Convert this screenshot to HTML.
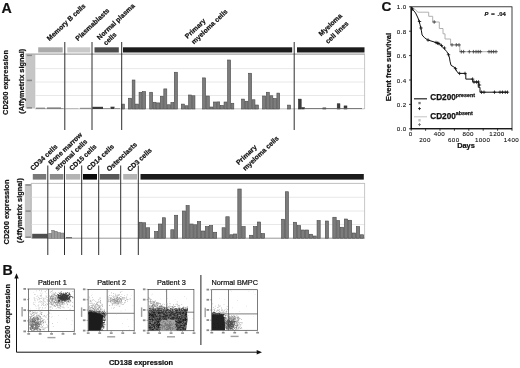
<!DOCTYPE html>
<html><head><meta charset="utf-8"><style>
html,body{margin:0;padding:0;background:#fff;}
svg{display:block;will-change:transform;filter:blur(0.35px);font-family:"Liberation Sans", sans-serif;}
</style></head><body>
<svg width="520" height="368" viewBox="0 0 520 368">
<rect width="520" height="368" fill="#fff"/>
<text x="1.60" y="12.50" font-size="14.2" font-weight="bold" text-anchor="start" fill="#111"  stroke="#111" stroke-width="0.22" style="">A</text>
<rect x="25.50" y="54.50" width="9.00" height="54.00" fill="#c6c6c6"/>
<line x1="34.80" y1="54.50" x2="34.80" y2="108.50" stroke="#9a9a9a" stroke-width="0.6"/>
<rect x="26.80" y="54.50" width="5.20" height="1.60" fill="#8a8a8a"/>
<rect x="26.80" y="79.60" width="5.20" height="1.60" fill="#8a8a8a"/>
<rect x="26.80" y="107.00" width="5.20" height="1.60" fill="#8a8a8a"/>
<line x1="35.00" y1="68.60" x2="364.50" y2="68.60" stroke="#e2e2e2" stroke-width="0.8"/>
<line x1="35.00" y1="82.00" x2="364.50" y2="82.00" stroke="#e2e2e2" stroke-width="0.8"/>
<line x1="35.00" y1="95.50" x2="364.50" y2="95.50" stroke="#e2e2e2" stroke-width="0.8"/>
<line x1="25.50" y1="54.20" x2="365.00" y2="54.20" stroke="#a4a4a4" stroke-width="1.3"/>
<line x1="364.60" y1="54.50" x2="364.60" y2="109.00" stroke="#b8b8b8" stroke-width="0.8"/>
<line x1="35.00" y1="108.80" x2="364.50" y2="108.80" stroke="#9a9a9a" stroke-width="0.6"/>
<rect x="38.20" y="47.30" width="24.50" height="5.20" fill="#aaaaaa"/>
<rect x="67.30" y="47.30" width="23.00" height="5.20" fill="#c8c8c8"/>
<rect x="94.50" y="47.30" width="24.30" height="5.20" fill="#4c4c4c"/>
<rect x="123.00" y="47.30" width="169.20" height="5.20" fill="#1c1c1c"/>
<rect x="297.00" y="47.30" width="67.50" height="5.20" fill="#1c1c1c"/>
<rect x="121.80" y="104.10" width="2.65" height="4.90" fill="#7c7c7c" stroke="#4a4a4a" stroke-width="0.6"/>
<rect x="128.40" y="98.25" width="3.20" height="10.75" fill="#7c7c7c" stroke="#4a4a4a" stroke-width="0.6"/>
<rect x="132.20" y="80.00" width="2.75" height="29.00" fill="#7c7c7c" stroke="#4a4a4a" stroke-width="0.6"/>
<rect x="135.55" y="104.10" width="2.90" height="4.90" fill="#7c7c7c" stroke="#4a4a4a" stroke-width="0.6"/>
<rect x="139.05" y="92.25" width="2.90" height="16.75" fill="#7c7c7c" stroke="#4a4a4a" stroke-width="0.6"/>
<rect x="142.55" y="91.60" width="3.05" height="17.40" fill="#7c7c7c" stroke="#4a4a4a" stroke-width="0.6"/>
<rect x="149.70" y="92.25" width="2.90" height="16.75" fill="#7c7c7c" stroke="#4a4a4a" stroke-width="0.6"/>
<rect x="153.20" y="102.25" width="2.75" height="6.75" fill="#7c7c7c" stroke="#4a4a4a" stroke-width="0.6"/>
<rect x="156.55" y="102.90" width="3.15" height="6.10" fill="#7c7c7c" stroke="#4a4a4a" stroke-width="0.6"/>
<rect x="160.30" y="96.25" width="2.90" height="12.75" fill="#7c7c7c" stroke="#4a4a4a" stroke-width="0.6"/>
<rect x="163.80" y="88.90" width="3.00" height="20.10" fill="#7c7c7c" stroke="#4a4a4a" stroke-width="0.6"/>
<rect x="167.40" y="104.75" width="2.90" height="4.25" fill="#7c7c7c" stroke="#4a4a4a" stroke-width="0.6"/>
<rect x="170.90" y="102.50" width="2.80" height="6.50" fill="#7c7c7c" stroke="#4a4a4a" stroke-width="0.6"/>
<rect x="174.30" y="72.25" width="3.15" height="36.75" fill="#7c7c7c" stroke="#4a4a4a" stroke-width="0.6"/>
<rect x="181.30" y="104.10" width="3.15" height="4.90" fill="#7c7c7c" stroke="#4a4a4a" stroke-width="0.6"/>
<rect x="185.05" y="105.75" width="2.90" height="3.25" fill="#7c7c7c" stroke="#4a4a4a" stroke-width="0.6"/>
<rect x="188.55" y="95.00" width="3.05" height="14.00" fill="#7c7c7c" stroke="#4a4a4a" stroke-width="0.6"/>
<rect x="192.20" y="95.75" width="2.75" height="13.25" fill="#7c7c7c" stroke="#4a4a4a" stroke-width="0.6"/>
<rect x="202.55" y="77.90" width="3.05" height="31.10" fill="#7c7c7c" stroke="#4a4a4a" stroke-width="0.6"/>
<rect x="206.20" y="96.00" width="3.10" height="13.00" fill="#7c7c7c" stroke="#4a4a4a" stroke-width="0.6"/>
<rect x="209.90" y="107.00" width="2.90" height="2.00" fill="#7c7c7c" stroke="#4a4a4a" stroke-width="0.6"/>
<rect x="213.40" y="102.00" width="2.90" height="7.00" fill="#7c7c7c" stroke="#4a4a4a" stroke-width="0.6"/>
<rect x="216.90" y="101.90" width="2.80" height="7.10" fill="#7c7c7c" stroke="#4a4a4a" stroke-width="0.6"/>
<rect x="220.30" y="105.40" width="3.15" height="3.60" fill="#7c7c7c" stroke="#4a4a4a" stroke-width="0.6"/>
<rect x="224.05" y="102.00" width="2.90" height="7.00" fill="#7c7c7c" stroke="#4a4a4a" stroke-width="0.6"/>
<rect x="227.55" y="60.00" width="3.05" height="49.00" fill="#7c7c7c" stroke="#4a4a4a" stroke-width="0.6"/>
<rect x="231.20" y="103.25" width="2.60" height="5.75" fill="#7c7c7c" stroke="#4a4a4a" stroke-width="0.6"/>
<rect x="241.55" y="99.10" width="2.90" height="9.90" fill="#7c7c7c" stroke="#4a4a4a" stroke-width="0.6"/>
<rect x="245.05" y="101.25" width="2.90" height="7.75" fill="#7c7c7c" stroke="#4a4a4a" stroke-width="0.6"/>
<rect x="248.55" y="73.25" width="3.05" height="35.75" fill="#7c7c7c" stroke="#4a4a4a" stroke-width="0.6"/>
<rect x="252.20" y="99.75" width="2.75" height="9.25" fill="#7c7c7c" stroke="#4a4a4a" stroke-width="0.6"/>
<rect x="255.55" y="105.00" width="2.90" height="4.00" fill="#7c7c7c" stroke="#4a4a4a" stroke-width="0.6"/>
<rect x="262.55" y="96.00" width="3.15" height="13.00" fill="#7c7c7c" stroke="#4a4a4a" stroke-width="0.6"/>
<rect x="266.30" y="92.25" width="3.00" height="16.75" fill="#7c7c7c" stroke="#4a4a4a" stroke-width="0.6"/>
<rect x="269.90" y="95.75" width="2.90" height="13.25" fill="#7c7c7c" stroke="#4a4a4a" stroke-width="0.6"/>
<rect x="273.40" y="98.50" width="2.90" height="10.50" fill="#7c7c7c" stroke="#4a4a4a" stroke-width="0.6"/>
<rect x="276.90" y="93.10" width="2.80" height="15.90" fill="#7c7c7c" stroke="#4a4a4a" stroke-width="0.6"/>
<rect x="287.55" y="105.10" width="3.05" height="3.90" fill="#7c7c7c" stroke="#4a4a4a" stroke-width="0.6"/>
<rect x="298.40" y="99.10" width="2.80" height="9.90" fill="#3c3c3c" stroke="#222" stroke-width="0.5"/>
<rect x="301.80" y="107.60" width="2.65" height="1.40" fill="#3c3c3c" stroke="#222" stroke-width="0.5"/>
<rect x="322.80" y="107.90" width="3.10" height="1.10" fill="#3c3c3c" stroke="#222" stroke-width="0.5"/>
<rect x="337.20" y="103.75" width="2.75" height="5.25" fill="#3c3c3c" stroke="#222" stroke-width="0.5"/>
<rect x="344.05" y="105.90" width="2.90" height="3.10" fill="#3c3c3c" stroke="#222" stroke-width="0.5"/>
<rect x="36.00" y="107.60" width="9.00" height="1.40" fill="#8a8a8a"/>
<rect x="45.00" y="108.40" width="2.00" height="0.60" fill="#aaa"/>
<rect x="47.00" y="107.40" width="14.00" height="1.60" fill="#808080"/>
<rect x="61.00" y="108.00" width="2.50" height="1.00" fill="#999"/>
<rect x="66.00" y="108.40" width="12.00" height="0.60" fill="#aaa"/>
<rect x="80.00" y="107.80" width="11.00" height="1.20" fill="#8e8e8e"/>
<rect x="92.40" y="106.80" width="10.60" height="2.20" fill="#3a3a3a"/>
<rect x="103.00" y="108.20" width="7.00" height="0.80" fill="#888"/>
<rect x="110.50" y="106.70" width="4.00" height="2.30" fill="#3a3a3a"/>
<rect x="114.50" y="108.00" width="5.50" height="1.00" fill="#999"/>
<rect x="305.00" y="108.20" width="57.00" height="0.80" fill="#666"/>
<line x1="64.80" y1="42.00" x2="64.80" y2="130.00" stroke="#2e2e2e" stroke-width="1.0"/>
<line x1="92.00" y1="42.00" x2="92.00" y2="130.00" stroke="#2e2e2e" stroke-width="1.0"/>
<line x1="121.70" y1="42.00" x2="121.70" y2="130.00" stroke="#2e2e2e" stroke-width="1.0"/>
<line x1="294.20" y1="42.00" x2="294.20" y2="130.00" stroke="#2e2e2e" stroke-width="1.0"/>
<text x="49.60" y="41.20" font-size="6.85" font-weight="bold" text-anchor="start" fill="#111" transform="rotate(-43.5 49.60 41.20)"  stroke="#111" stroke-width="0.22" style="">Memory B cells</text>
<text x="78.10" y="41.20" font-size="6.85" font-weight="bold" text-anchor="start" fill="#111" transform="rotate(-43.5 78.10 41.20)"  stroke="#111" stroke-width="0.22" style="">Plasmablasts</text>
<text x="99.60" y="40.20" font-size="6.85" font-weight="bold" text-anchor="start" fill="#111" transform="rotate(-43.5 99.60 40.20)"  stroke="#111" stroke-width="0.22" style="">Normal plasma</text>
<text x="106.10" y="45.70" font-size="6.85" font-weight="bold" text-anchor="start" fill="#111" transform="rotate(-43.5 106.10 45.70)"  stroke="#111" stroke-width="0.22" style="">cells</text>
<text x="187.60" y="39.00" font-size="6.85" font-weight="bold" text-anchor="start" fill="#111" transform="rotate(-43.5 187.60 39.00)"  stroke="#111" stroke-width="0.22" style="">Primary</text>
<text x="194.10" y="44.40" font-size="6.85" font-weight="bold" text-anchor="start" fill="#111" transform="rotate(-43.5 194.10 44.40)"  stroke="#111" stroke-width="0.22" style="">myeloma cells</text>
<text x="321.30" y="36.50" font-size="6.85" font-weight="bold" text-anchor="start" fill="#111" transform="rotate(-43.5 321.30 36.50)"  stroke="#111" stroke-width="0.22" style="">Myeloma</text>
<text x="328.00" y="44.00" font-size="6.85" font-weight="bold" text-anchor="start" fill="#111" transform="rotate(-43.5 328.00 44.00)"  stroke="#111" stroke-width="0.22" style="">cell lines</text>
<text x="8.30" y="82.50" font-size="7.5" font-weight="bold" text-anchor="middle" fill="#111" transform="rotate(-90 8.30 82.50)"  stroke="#111" stroke-width="0.22" style="">CD200 expression</text>
<text x="24.40" y="81.30" font-size="7.4" font-weight="bold" text-anchor="middle" fill="#111" transform="rotate(-90 24.40 81.30)"  stroke="#111" stroke-width="0.22" style="">(Affymetrix signal)</text>
<rect x="24.80" y="184.00" width="6.60" height="54.00" fill="#c6c6c6"/>
<line x1="31.30" y1="183.00" x2="31.30" y2="238.00" stroke="#9a9a9a" stroke-width="0.6"/>
<rect x="25.60" y="184.20" width="5.20" height="1.60" fill="#8a8a8a"/>
<rect x="25.60" y="210.30" width="5.20" height="1.60" fill="#8a8a8a"/>
<rect x="25.60" y="236.40" width="5.20" height="1.60" fill="#8a8a8a"/>
<line x1="31.50" y1="197.30" x2="364.50" y2="197.30" stroke="#e2e2e2" stroke-width="0.8"/>
<line x1="31.50" y1="211.00" x2="364.50" y2="211.00" stroke="#e2e2e2" stroke-width="0.8"/>
<line x1="31.50" y1="224.50" x2="364.50" y2="224.50" stroke="#e2e2e2" stroke-width="0.8"/>
<line x1="31.00" y1="183.40" x2="364.80" y2="183.40" stroke="#c0c0c0" stroke-width="1.0"/>
<line x1="364.60" y1="183.00" x2="364.60" y2="238.50" stroke="#b8b8b8" stroke-width="0.8"/>
<line x1="31.50" y1="238.20" x2="364.50" y2="238.20" stroke="#6a6a6a" stroke-width="0.7"/>
<rect x="32.80" y="174.00" width="13.40" height="5.60" fill="#787878"/>
<rect x="49.80" y="174.00" width="13.60" height="5.60" fill="#8c8c8c"/>
<rect x="65.80" y="174.00" width="14.40" height="5.60" fill="#b4b4b4"/>
<rect x="83.00" y="174.00" width="14.00" height="5.60" fill="#0a0a0a"/>
<rect x="99.80" y="174.00" width="19.70" height="5.60" fill="#585858"/>
<rect x="123.20" y="174.00" width="13.80" height="5.60" fill="#b4b4b4"/>
<rect x="140.50" y="174.00" width="223.30" height="5.60" fill="#1c1c1c"/>
<rect x="139.05" y="222.25" width="3.15" height="15.95" fill="#7c7c7c" stroke="#4a4a4a" stroke-width="0.6"/>
<rect x="142.80" y="222.75" width="2.90" height="15.45" fill="#7c7c7c" stroke="#4a4a4a" stroke-width="0.6"/>
<rect x="146.30" y="227.75" width="3.40" height="10.45" fill="#7c7c7c" stroke="#4a4a4a" stroke-width="0.6"/>
<rect x="154.55" y="231.50" width="3.15" height="6.70" fill="#7c7c7c" stroke="#4a4a4a" stroke-width="0.6"/>
<rect x="158.30" y="224.00" width="3.40" height="14.20" fill="#7c7c7c" stroke="#4a4a4a" stroke-width="0.6"/>
<rect x="162.30" y="217.75" width="3.15" height="20.45" fill="#7c7c7c" stroke="#4a4a4a" stroke-width="0.6"/>
<rect x="170.80" y="229.75" width="3.15" height="8.45" fill="#7c7c7c" stroke="#4a4a4a" stroke-width="0.6"/>
<rect x="174.55" y="215.25" width="3.15" height="22.95" fill="#7c7c7c" stroke="#4a4a4a" stroke-width="0.6"/>
<rect x="182.30" y="211.00" width="3.15" height="27.20" fill="#7c7c7c" stroke="#4a4a4a" stroke-width="0.6"/>
<rect x="186.05" y="205.50" width="3.15" height="32.70" fill="#7c7c7c" stroke="#4a4a4a" stroke-width="0.6"/>
<rect x="189.80" y="224.00" width="3.40" height="14.20" fill="#7c7c7c" stroke="#4a4a4a" stroke-width="0.6"/>
<rect x="193.80" y="224.75" width="2.90" height="13.45" fill="#7c7c7c" stroke="#4a4a4a" stroke-width="0.6"/>
<rect x="197.30" y="221.50" width="3.40" height="16.70" fill="#7c7c7c" stroke="#4a4a4a" stroke-width="0.6"/>
<rect x="201.30" y="231.00" width="3.40" height="7.20" fill="#7c7c7c" stroke="#4a4a4a" stroke-width="0.6"/>
<rect x="205.30" y="226.50" width="3.40" height="11.70" fill="#7c7c7c" stroke="#4a4a4a" stroke-width="0.6"/>
<rect x="209.30" y="225.50" width="3.40" height="12.70" fill="#7c7c7c" stroke="#4a4a4a" stroke-width="0.6"/>
<rect x="213.30" y="232.25" width="3.40" height="5.95" fill="#7c7c7c" stroke="#4a4a4a" stroke-width="0.6"/>
<rect x="222.05" y="227.75" width="3.15" height="10.45" fill="#7c7c7c" stroke="#4a4a4a" stroke-width="0.6"/>
<rect x="225.80" y="216.75" width="3.40" height="21.45" fill="#7c7c7c" stroke="#4a4a4a" stroke-width="0.6"/>
<rect x="229.80" y="234.75" width="2.90" height="3.45" fill="#7c7c7c" stroke="#4a4a4a" stroke-width="0.6"/>
<rect x="233.30" y="234.00" width="3.40" height="4.20" fill="#7c7c7c" stroke="#4a4a4a" stroke-width="0.6"/>
<rect x="237.80" y="189.00" width="3.40" height="49.20" fill="#7c7c7c" stroke="#4a4a4a" stroke-width="0.6"/>
<rect x="241.80" y="226.50" width="3.40" height="11.70" fill="#7c7c7c" stroke="#4a4a4a" stroke-width="0.6"/>
<rect x="249.55" y="235.25" width="3.40" height="2.95" fill="#7c7c7c" stroke="#4a4a4a" stroke-width="0.6"/>
<rect x="253.55" y="226.50" width="3.15" height="11.70" fill="#7c7c7c" stroke="#4a4a4a" stroke-width="0.6"/>
<rect x="257.30" y="222.00" width="3.40" height="16.20" fill="#7c7c7c" stroke="#4a4a4a" stroke-width="0.6"/>
<rect x="261.30" y="233.50" width="3.40" height="4.70" fill="#7c7c7c" stroke="#4a4a4a" stroke-width="0.6"/>
<rect x="281.55" y="219.25" width="3.15" height="18.95" fill="#7c7c7c" stroke="#4a4a4a" stroke-width="0.6"/>
<rect x="285.30" y="191.75" width="3.15" height="46.45" fill="#7c7c7c" stroke="#4a4a4a" stroke-width="0.6"/>
<rect x="293.30" y="222.25" width="3.40" height="15.95" fill="#7c7c7c" stroke="#4a4a4a" stroke-width="0.6"/>
<rect x="297.30" y="225.50" width="3.40" height="12.70" fill="#7c7c7c" stroke="#4a4a4a" stroke-width="0.6"/>
<rect x="301.30" y="230.00" width="3.40" height="8.20" fill="#7c7c7c" stroke="#4a4a4a" stroke-width="0.6"/>
<rect x="305.30" y="230.00" width="3.40" height="8.20" fill="#7c7c7c" stroke="#4a4a4a" stroke-width="0.6"/>
<rect x="309.30" y="234.25" width="3.40" height="3.95" fill="#7c7c7c" stroke="#4a4a4a" stroke-width="0.6"/>
<rect x="313.30" y="236.00" width="2.90" height="2.20" fill="#7c7c7c" stroke="#4a4a4a" stroke-width="0.6"/>
<rect x="317.05" y="220.50" width="3.15" height="17.70" fill="#7c7c7c" stroke="#4a4a4a" stroke-width="0.6"/>
<rect x="325.30" y="221.00" width="3.15" height="17.20" fill="#7c7c7c" stroke="#4a4a4a" stroke-width="0.6"/>
<rect x="332.80" y="217.25" width="3.40" height="20.95" fill="#7c7c7c" stroke="#4a4a4a" stroke-width="0.6"/>
<rect x="336.80" y="220.50" width="2.90" height="17.70" fill="#7c7c7c" stroke="#4a4a4a" stroke-width="0.6"/>
<rect x="340.30" y="227.25" width="3.40" height="10.95" fill="#7c7c7c" stroke="#4a4a4a" stroke-width="0.6"/>
<rect x="344.30" y="219.00" width="3.40" height="19.20" fill="#7c7c7c" stroke="#4a4a4a" stroke-width="0.6"/>
<rect x="348.30" y="220.25" width="3.40" height="17.95" fill="#7c7c7c" stroke="#4a4a4a" stroke-width="0.6"/>
<rect x="352.30" y="233.00" width="3.40" height="5.20" fill="#7c7c7c" stroke="#4a4a4a" stroke-width="0.6"/>
<rect x="356.30" y="226.50" width="3.40" height="11.70" fill="#7c7c7c" stroke="#4a4a4a" stroke-width="0.6"/>
<rect x="360.30" y="234.75" width="3.40" height="3.45" fill="#7c7c7c" stroke="#4a4a4a" stroke-width="0.6"/>
<rect x="32.20" y="233.80" width="15.40" height="4.40" fill="#4e4e4e"/>
<rect x="48.80" y="233.20" width="2.90" height="5.00" fill="#9a9a9a" stroke="#666" stroke-width="0.4"/>
<rect x="51.70" y="230.20" width="2.60" height="8.00" fill="#9a9a9a" stroke="#666" stroke-width="0.4"/>
<rect x="54.30" y="231.20" width="2.90" height="7.00" fill="#9a9a9a" stroke="#666" stroke-width="0.4"/>
<rect x="57.20" y="232.40" width="3.10" height="5.80" fill="#9a9a9a" stroke="#666" stroke-width="0.4"/>
<rect x="60.30" y="233.00" width="3.70" height="5.20" fill="#9a9a9a" stroke="#666" stroke-width="0.4"/>
<rect x="66.00" y="237.20" width="6.00" height="1.00" fill="#555"/>
<line x1="47.80" y1="165.50" x2="47.80" y2="255.00" stroke="#2e2e2e" stroke-width="1.0"/>
<line x1="64.50" y1="165.50" x2="64.50" y2="255.00" stroke="#2e2e2e" stroke-width="1.0"/>
<line x1="81.70" y1="165.50" x2="81.70" y2="255.00" stroke="#2e2e2e" stroke-width="1.0"/>
<line x1="98.70" y1="165.50" x2="98.70" y2="255.00" stroke="#2e2e2e" stroke-width="1.0"/>
<line x1="120.70" y1="165.50" x2="120.70" y2="255.00" stroke="#2e2e2e" stroke-width="1.0"/>
<line x1="138.30" y1="165.50" x2="138.30" y2="255.00" stroke="#2e2e2e" stroke-width="1.0"/>
<text x="33.00" y="171.00" font-size="6.85" font-weight="bold" text-anchor="start" fill="#111" transform="rotate(-43.5 33.00 171.00)"  stroke="#111" stroke-width="0.22" style="">CD34 cells</text>
<text x="51.00" y="165.50" font-size="6.85" font-weight="bold" text-anchor="start" fill="#111" transform="rotate(-43.5 51.00 165.50)"  stroke="#111" stroke-width="0.22" style="">Bone marrow</text>
<text x="57.50" y="171.00" font-size="6.85" font-weight="bold" text-anchor="start" fill="#111" transform="rotate(-43.5 57.50 171.00)"  stroke="#111" stroke-width="0.22" style="">stromal cells</text>
<text x="72.00" y="171.00" font-size="6.85" font-weight="bold" text-anchor="start" fill="#111" transform="rotate(-43.5 72.00 171.00)"  stroke="#111" stroke-width="0.22" style="">CD15 cells</text>
<text x="89.50" y="171.00" font-size="6.85" font-weight="bold" text-anchor="start" fill="#111" transform="rotate(-43.5 89.50 171.00)"  stroke="#111" stroke-width="0.22" style="">CD14 cells</text>
<text x="109.30" y="171.80" font-size="6.85" font-weight="bold" text-anchor="start" fill="#111" transform="rotate(-43.5 109.30 171.80)"  stroke="#111" stroke-width="0.22" style="">Osteoclasts</text>
<text x="130.00" y="172.00" font-size="6.85" font-weight="bold" text-anchor="start" fill="#111" transform="rotate(-43.5 130.00 172.00)"  stroke="#111" stroke-width="0.22" style="">CD3 cells</text>
<text x="238.80" y="165.30" font-size="6.85" font-weight="bold" text-anchor="start" fill="#111" transform="rotate(-43.5 238.80 165.30)"  stroke="#111" stroke-width="0.22" style="">Primary</text>
<text x="245.30" y="171.10" font-size="6.85" font-weight="bold" text-anchor="start" fill="#111" transform="rotate(-43.5 245.30 171.10)"  stroke="#111" stroke-width="0.22" style="">myeloma cells</text>
<text x="8.50" y="212.00" font-size="7.5" font-weight="bold" text-anchor="middle" fill="#111" transform="rotate(-90 8.50 212.00)"  stroke="#111" stroke-width="0.22" style="">CD200 expression</text>
<text x="21.70" y="210.60" font-size="7.4" font-weight="bold" text-anchor="middle" fill="#111" transform="rotate(-90 21.70 210.60)"  stroke="#111" stroke-width="0.22" style="">(Affymetrix signal)</text>
<text x="2.40" y="274.60" font-size="14.2" font-weight="bold" text-anchor="start" fill="#111" stroke="#111" stroke-width="0.22">B</text>
<line x1="16.50" y1="352.20" x2="16.50" y2="277.00" stroke="#111" stroke-width="1.0"/>
<path d="M16.5 273.2 L14.3 278.5 L18.7 278.5 Z" fill="#111"/>
<line x1="16.50" y1="352.20" x2="258.00" y2="352.20" stroke="#111" stroke-width="1.0"/>
<path d="M262 352.2 L256.7 350 L256.7 354.4 Z" fill="#111"/>
<text x="9.80" y="316.50" font-size="7.5" font-weight="bold" text-anchor="middle" fill="#111" transform="rotate(-90 9.80 316.50)" stroke="#111" stroke-width="0.22">CD200 expression</text>
<text x="109.00" y="365.20" font-size="7.4" font-weight="bold" text-anchor="start" fill="#111" stroke="#111" stroke-width="0.22">CD138 expression</text>
<line x1="200.90" y1="275.00" x2="200.90" y2="345.00" stroke="#222" stroke-width="1.0"/>
<defs><filter id="bl" x="-20%" y="-20%" width="140%" height="140%"><feGaussianBlur stdDeviation="0.55"/></filter><filter id="bl2" x="-20%" y="-20%" width="140%" height="140%"><feGaussianBlur stdDeviation="1.1"/></filter><clipPath id="c1"><rect x="28.6" y="289" width="45.7" height="42.5"/></clipPath><clipPath id="c2"><rect x="88.1" y="289.4" width="46.1" height="41.3"/></clipPath><clipPath id="c3"><rect x="148.1" y="289.4" width="45.8" height="41.3"/></clipPath><clipPath id="c4"><rect x="211.7" y="289.7" width="45.8" height="40.6"/></clipPath></defs>
<text x="52.30" y="285.30" font-size="7.3" font-weight="normal" text-anchor="middle" fill="#111" stroke="#111" stroke-width="0.2">Patient 1</text>
<rect x="28.6" y="289" width="45.699999999999996" height="42.5" fill="none" stroke="#444" stroke-width="0.7"/>
<line x1="48.60" y1="289.00" x2="48.60" y2="331.50" stroke="#444" stroke-width="0.7"/>
<line x1="28.60" y1="310.50" x2="74.30" y2="310.50" stroke="#444" stroke-width="0.7"/>
<rect x="23.40" y="288.00" width="2.60" height="1.80" fill="#8c8c8c"/>
<line x1="27.10" y1="289.00" x2="28.60" y2="289.00" stroke="#555" stroke-width="0.5"/>
<rect x="23.40" y="298.62" width="2.60" height="1.80" fill="#8c8c8c"/>
<line x1="27.10" y1="299.62" x2="28.60" y2="299.62" stroke="#555" stroke-width="0.5"/>
<rect x="23.40" y="309.25" width="2.60" height="1.80" fill="#8c8c8c"/>
<line x1="27.10" y1="310.25" x2="28.60" y2="310.25" stroke="#555" stroke-width="0.5"/>
<rect x="23.40" y="319.88" width="2.60" height="1.80" fill="#8c8c8c"/>
<line x1="27.10" y1="320.88" x2="28.60" y2="320.88" stroke="#555" stroke-width="0.5"/>
<rect x="23.40" y="330.50" width="2.60" height="1.80" fill="#8c8c8c"/>
<line x1="27.10" y1="331.50" x2="28.60" y2="331.50" stroke="#555" stroke-width="0.5"/>
<rect x="27.30" y="333.10" width="2.80" height="1.60" fill="#8c8c8c"/>
<line x1="28.60" y1="331.50" x2="28.60" y2="332.70" stroke="#555" stroke-width="0.5"/>
<rect x="38.73" y="333.10" width="2.80" height="1.60" fill="#8c8c8c"/>
<line x1="40.02" y1="331.50" x2="40.02" y2="332.70" stroke="#555" stroke-width="0.5"/>
<rect x="50.15" y="333.10" width="2.80" height="1.60" fill="#8c8c8c"/>
<line x1="51.45" y1="331.50" x2="51.45" y2="332.70" stroke="#555" stroke-width="0.5"/>
<rect x="61.58" y="333.10" width="2.80" height="1.60" fill="#8c8c8c"/>
<line x1="62.88" y1="331.50" x2="62.88" y2="332.70" stroke="#555" stroke-width="0.5"/>
<rect x="73.00" y="333.10" width="2.80" height="1.60" fill="#8c8c8c"/>
<line x1="74.30" y1="331.50" x2="74.30" y2="332.70" stroke="#555" stroke-width="0.5"/>
<rect x="21.40" y="307.00" width="1.40" height="9.50" fill="#a0a0a0"/>
<rect x="47.45" y="336.90" width="8.00" height="1.40" fill="#a0a0a0"/>
<g clip-path="url(#c1)"><g filter="url(#bl)">
<path d="M49.1 312.6h0.6v0.6h-0.6zM70.0 308.8h0.6v0.6h-0.6zM51.5 313.7h0.6v0.6h-0.6zM37.2 310.7h0.6v0.6h-0.6zM57.0 322.0h0.6v0.6h-0.6zM33.2 302.3h0.6v0.6h-0.6zM33.0 322.7h0.6v0.6h-0.6zM59.8 291.7h0.6v0.6h-0.6zM72.6 329.0h0.6v0.6h-0.6zM58.0 314.9h0.6v0.6h-0.6zM36.0 290.6h0.6v0.6h-0.6zM52.5 292.4h0.6v0.6h-0.6zM37.4 299.8h0.6v0.6h-0.6zM30.3 308.7h0.6v0.6h-0.6zM48.6 324.0h0.6v0.6h-0.6zM52.0 315.9h0.6v0.6h-0.6zM51.2 316.8h0.6v0.6h-0.6zM49.3 301.2h0.6v0.6h-0.6zM73.3 330.2h0.6v0.6h-0.6zM66.3 318.6h0.6v0.6h-0.6zM43.0 299.3h0.6v0.6h-0.6zM41.8 292.8h0.6v0.6h-0.6zM63.0 306.2h0.6v0.6h-0.6zM66.6 305.6h0.6v0.6h-0.6zM71.5 324.2h0.6v0.6h-0.6zM29.0 298.5h0.6v0.6h-0.6zM69.4 309.0h0.6v0.6h-0.6zM72.5 306.1h0.6v0.6h-0.6zM32.2 315.4h0.6v0.6h-0.6zM63.6 300.9h0.6v0.6h-0.6zM32.9 303.4h0.6v0.6h-0.6zM71.8 320.6h0.6v0.6h-0.6zM34.2 300.0h0.6v0.6h-0.6zM33.5 292.4h0.6v0.6h-0.6zM64.4 297.2h0.6v0.6h-0.6z" fill="#bbb" opacity="1.0"/>
<path d="M37.4 299.2h0.6v0.6h-0.6zM44.7 307.8h0.6v0.6h-0.6zM46.4 305.7h0.6v0.6h-0.6zM45.5 304.1h0.6v0.6h-0.6zM42.8 304.5h0.6v0.6h-0.6zM38.9 309.8h0.6v0.6h-0.6zM43.1 305.4h0.6v0.6h-0.6zM45.9 295.9h0.6v0.6h-0.6zM42.8 304.4h0.6v0.6h-0.6zM42.6 297.0h0.6v0.6h-0.6zM41.5 302.7h0.6v0.6h-0.6zM47.0 304.2h0.6v0.6h-0.6zM42.3 307.1h0.6v0.6h-0.6zM38.6 304.6h0.6v0.6h-0.6zM47.0 299.7h0.6v0.6h-0.6zM33.9 296.9h0.6v0.6h-0.6zM43.1 303.4h0.6v0.6h-0.6zM42.0 303.9h0.6v0.6h-0.6zM41.3 290.3h0.6v0.6h-0.6zM46.5 296.9h0.6v0.6h-0.6zM40.1 302.0h0.6v0.6h-0.6zM42.5 308.0h0.6v0.6h-0.6zM41.6 309.4h0.6v0.6h-0.6zM38.9 298.9h0.6v0.6h-0.6zM45.2 307.4h0.6v0.6h-0.6zM44.9 302.4h0.6v0.6h-0.6zM33.8 297.8h0.6v0.6h-0.6zM39.3 298.6h0.6v0.6h-0.6zM44.6 299.5h0.6v0.6h-0.6zM45.5 301.4h0.6v0.6h-0.6zM40.5 301.5h0.6v0.6h-0.6zM43.9 304.9h0.6v0.6h-0.6zM39.9 300.0h0.6v0.6h-0.6zM35.9 308.2h0.6v0.6h-0.6zM39.8 295.4h0.6v0.6h-0.6zM42.8 301.9h0.6v0.6h-0.6zM34.8 301.8h0.6v0.6h-0.6zM47.0 303.6h0.6v0.6h-0.6zM41.2 291.4h0.6v0.6h-0.6zM41.4 294.0h0.6v0.6h-0.6zM44.7 291.4h0.6v0.6h-0.6zM37.9 306.5h0.6v0.6h-0.6zM35.1 305.0h0.6v0.6h-0.6zM45.8 296.6h0.6v0.6h-0.6zM38.9 297.9h0.6v0.6h-0.6zM36.6 297.9h0.6v0.6h-0.6zM47.6 304.1h0.6v0.6h-0.6zM41.4 296.6h0.6v0.6h-0.6zM41.4 295.1h0.6v0.6h-0.6zM34.0 304.1h0.6v0.6h-0.6zM38.8 301.4h0.6v0.6h-0.6zM40.3 296.0h0.6v0.6h-0.6zM34.4 294.3h0.6v0.6h-0.6zM42.0 301.7h0.6v0.6h-0.6zM39.9 307.4h0.6v0.6h-0.6zM42.8 303.6h0.6v0.6h-0.6zM47.5 297.3h0.6v0.6h-0.6zM33.1 304.4h0.6v0.6h-0.6zM38.9 306.9h0.6v0.6h-0.6zM43.5 305.5h0.6v0.6h-0.6zM45.4 291.6h0.6v0.6h-0.6zM45.2 298.0h0.6v0.6h-0.6zM38.6 299.0h0.6v0.6h-0.6zM45.5 305.0h0.6v0.6h-0.6zM46.6 293.5h0.6v0.6h-0.6zM39.3 290.3h0.6v0.6h-0.6zM41.5 303.7h0.6v0.6h-0.6zM38.6 302.1h0.6v0.6h-0.6zM43.0 305.5h0.6v0.6h-0.6zM38.3 297.3h0.6v0.6h-0.6zM38.6 308.9h0.6v0.6h-0.6zM46.9 300.4h0.6v0.6h-0.6zM43.0 301.5h0.6v0.6h-0.6zM42.9 300.1h0.6v0.6h-0.6zM40.5 295.3h0.6v0.6h-0.6zM39.1 308.4h0.6v0.6h-0.6zM44.4 301.3h0.6v0.6h-0.6zM41.0 301.3h0.6v0.6h-0.6zM43.6 298.1h0.6v0.6h-0.6zM42.9 302.1h0.6v0.6h-0.6zM38.6 297.4h0.6v0.6h-0.6zM37.5 296.2h0.6v0.6h-0.6zM46.0 290.4h0.6v0.6h-0.6zM40.8 298.2h0.6v0.6h-0.6zM39.2 301.4h0.6v0.6h-0.6zM47.1 301.3h0.6v0.6h-0.6zM41.4 298.2h0.6v0.6h-0.6zM41.4 305.1h0.6v0.6h-0.6zM40.2 295.8h0.6v0.6h-0.6zM36.3 296.0h0.6v0.6h-0.6zM35.7 305.9h0.6v0.6h-0.6zM43.6 299.9h0.6v0.6h-0.6zM45.4 304.6h0.6v0.6h-0.6zM35.0 294.0h0.6v0.6h-0.6zM37.8 305.1h0.6v0.6h-0.6zM47.8 295.5h0.6v0.6h-0.6zM46.7 299.3h0.6v0.6h-0.6zM40.2 298.5h0.6v0.6h-0.6zM40.5 292.8h0.6v0.6h-0.6zM37.5 295.4h0.6v0.6h-0.6zM34.3 299.2h0.6v0.6h-0.6zM44.6 297.7h0.6v0.6h-0.6zM46.2 303.4h0.6v0.6h-0.6zM34.7 298.6h0.6v0.6h-0.6zM40.9 301.1h0.6v0.6h-0.6zM42.6 299.5h0.6v0.6h-0.6zM42.9 298.4h0.6v0.6h-0.6zM38.0 307.8h0.6v0.6h-0.6zM43.6 303.0h0.6v0.6h-0.6zM34.8 300.3h0.6v0.6h-0.6zM45.7 295.2h0.6v0.6h-0.6zM46.9 299.2h0.6v0.6h-0.6z" fill="#aaa" opacity="1.0"/>
<path d="M37.2 321.3h0.7v0.7h-0.7zM36.2 328.6h0.7v0.7h-0.7zM30.7 316.9h0.7v0.7h-0.7zM38.9 316.1h0.7v0.7h-0.7zM33.0 327.0h0.7v0.7h-0.7zM41.7 312.2h0.7v0.7h-0.7zM41.6 320.7h0.7v0.7h-0.7zM31.7 320.4h0.7v0.7h-0.7zM34.0 321.2h0.7v0.7h-0.7zM41.5 320.7h0.7v0.7h-0.7zM29.1 319.5h0.7v0.7h-0.7zM34.3 320.1h0.7v0.7h-0.7zM29.5 320.6h0.7v0.7h-0.7zM47.0 318.7h0.7v0.7h-0.7zM34.3 328.2h0.7v0.7h-0.7zM39.1 326.2h0.7v0.7h-0.7zM39.7 311.2h0.7v0.7h-0.7zM30.2 322.7h0.7v0.7h-0.7zM37.7 329.1h0.7v0.7h-0.7zM37.6 320.7h0.7v0.7h-0.7zM35.2 320.8h0.7v0.7h-0.7zM36.4 325.7h0.7v0.7h-0.7zM33.1 317.5h0.7v0.7h-0.7zM30.3 328.0h0.7v0.7h-0.7zM42.0 327.5h0.7v0.7h-0.7zM39.7 326.6h0.7v0.7h-0.7zM35.0 325.7h0.7v0.7h-0.7zM29.2 320.9h0.7v0.7h-0.7zM31.0 326.0h0.7v0.7h-0.7zM31.8 321.4h0.7v0.7h-0.7zM37.2 329.5h0.7v0.7h-0.7zM30.6 316.8h0.7v0.7h-0.7zM39.5 315.9h0.7v0.7h-0.7zM37.5 318.9h0.7v0.7h-0.7zM34.4 312.0h0.7v0.7h-0.7zM38.9 319.2h0.7v0.7h-0.7zM37.2 320.1h0.7v0.7h-0.7zM34.9 324.5h0.7v0.7h-0.7zM37.8 317.0h0.7v0.7h-0.7zM35.7 319.2h0.7v0.7h-0.7zM38.7 322.4h0.7v0.7h-0.7zM30.0 311.0h0.7v0.7h-0.7zM37.7 321.5h0.7v0.7h-0.7zM35.8 324.0h0.7v0.7h-0.7zM36.2 322.9h0.7v0.7h-0.7zM32.2 320.7h0.7v0.7h-0.7zM36.5 325.4h0.7v0.7h-0.7zM37.2 320.9h0.7v0.7h-0.7zM47.5 327.1h0.7v0.7h-0.7zM32.1 327.5h0.7v0.7h-0.7zM29.2 321.4h0.7v0.7h-0.7zM34.3 321.5h0.7v0.7h-0.7zM31.8 311.9h0.7v0.7h-0.7zM37.5 327.5h0.7v0.7h-0.7zM34.6 316.4h0.7v0.7h-0.7zM36.1 325.1h0.7v0.7h-0.7zM34.0 321.9h0.7v0.7h-0.7zM42.7 315.8h0.7v0.7h-0.7zM31.9 311.5h0.7v0.7h-0.7zM31.2 317.9h0.7v0.7h-0.7zM29.7 318.2h0.7v0.7h-0.7zM44.9 320.9h0.7v0.7h-0.7zM34.7 312.5h0.7v0.7h-0.7zM37.2 316.8h0.7v0.7h-0.7zM44.0 315.1h0.7v0.7h-0.7zM31.8 313.2h0.7v0.7h-0.7zM35.5 316.4h0.7v0.7h-0.7zM34.6 319.9h0.7v0.7h-0.7zM31.6 327.2h0.7v0.7h-0.7zM40.1 322.3h0.7v0.7h-0.7zM30.0 316.1h0.7v0.7h-0.7zM32.5 317.7h0.7v0.7h-0.7zM31.2 316.0h0.7v0.7h-0.7zM29.7 320.9h0.7v0.7h-0.7zM42.9 322.0h0.7v0.7h-0.7zM32.2 313.1h0.7v0.7h-0.7zM36.2 321.9h0.7v0.7h-0.7zM34.8 327.6h0.7v0.7h-0.7zM38.4 323.1h0.7v0.7h-0.7zM33.2 323.8h0.7v0.7h-0.7zM42.0 320.5h0.7v0.7h-0.7zM42.8 321.8h0.7v0.7h-0.7zM35.8 320.0h0.7v0.7h-0.7zM47.2 325.5h0.7v0.7h-0.7zM38.3 327.2h0.7v0.7h-0.7zM38.1 327.6h0.7v0.7h-0.7zM33.5 320.8h0.7v0.7h-0.7zM40.4 320.1h0.7v0.7h-0.7zM32.0 325.4h0.7v0.7h-0.7zM31.0 316.2h0.7v0.7h-0.7zM34.7 322.9h0.7v0.7h-0.7zM35.1 323.6h0.7v0.7h-0.7zM40.1 329.7h0.7v0.7h-0.7zM35.0 320.2h0.7v0.7h-0.7zM48.2 321.1h0.7v0.7h-0.7zM45.7 327.3h0.7v0.7h-0.7zM29.3 324.7h0.7v0.7h-0.7zM39.1 321.3h0.7v0.7h-0.7zM33.9 315.9h0.7v0.7h-0.7zM45.0 320.7h0.7v0.7h-0.7zM32.8 320.4h0.7v0.7h-0.7zM30.7 317.7h0.7v0.7h-0.7zM35.5 323.7h0.7v0.7h-0.7zM32.2 321.5h0.7v0.7h-0.7zM30.9 323.2h0.7v0.7h-0.7zM30.0 319.2h0.7v0.7h-0.7zM36.2 315.3h0.7v0.7h-0.7zM48.6 321.8h0.7v0.7h-0.7zM34.6 318.0h0.7v0.7h-0.7zM43.8 329.6h0.7v0.7h-0.7zM36.6 314.5h0.7v0.7h-0.7zM32.2 325.4h0.7v0.7h-0.7zM32.2 315.5h0.7v0.7h-0.7zM35.1 318.4h0.7v0.7h-0.7zM44.8 316.3h0.7v0.7h-0.7zM36.9 322.5h0.7v0.7h-0.7zM34.2 327.7h0.7v0.7h-0.7zM33.2 320.2h0.7v0.7h-0.7zM32.9 321.4h0.7v0.7h-0.7zM42.1 326.3h0.7v0.7h-0.7zM30.6 326.5h0.7v0.7h-0.7zM36.2 326.9h0.7v0.7h-0.7zM34.7 311.5h0.7v0.7h-0.7zM37.5 323.3h0.7v0.7h-0.7zM37.8 314.8h0.7v0.7h-0.7zM35.4 318.2h0.7v0.7h-0.7zM31.2 323.9h0.7v0.7h-0.7zM36.9 317.1h0.7v0.7h-0.7zM31.8 328.2h0.7v0.7h-0.7zM30.3 324.3h0.7v0.7h-0.7zM44.2 328.4h0.7v0.7h-0.7zM37.0 323.1h0.7v0.7h-0.7zM29.2 319.5h0.7v0.7h-0.7zM33.2 317.7h0.7v0.7h-0.7zM35.3 319.8h0.7v0.7h-0.7zM36.9 329.9h0.7v0.7h-0.7zM39.1 324.3h0.7v0.7h-0.7zM33.7 313.6h0.7v0.7h-0.7zM34.4 325.0h0.7v0.7h-0.7zM29.5 328.9h0.7v0.7h-0.7zM33.2 324.0h0.7v0.7h-0.7zM33.2 315.1h0.7v0.7h-0.7zM46.4 315.6h0.7v0.7h-0.7zM40.1 318.9h0.7v0.7h-0.7zM36.5 317.6h0.7v0.7h-0.7zM32.7 327.1h0.7v0.7h-0.7zM45.7 317.3h0.7v0.7h-0.7zM35.1 327.2h0.7v0.7h-0.7zM31.5 325.9h0.7v0.7h-0.7zM30.7 325.3h0.7v0.7h-0.7zM37.4 328.7h0.7v0.7h-0.7zM37.0 315.4h0.7v0.7h-0.7zM38.7 315.9h0.7v0.7h-0.7zM38.3 319.0h0.7v0.7h-0.7zM41.6 322.9h0.7v0.7h-0.7zM42.8 320.3h0.7v0.7h-0.7zM35.7 320.1h0.7v0.7h-0.7zM37.0 323.1h0.7v0.7h-0.7zM41.7 326.0h0.7v0.7h-0.7zM40.6 329.2h0.7v0.7h-0.7zM32.6 318.7h0.7v0.7h-0.7zM31.1 325.1h0.7v0.7h-0.7zM43.1 320.4h0.7v0.7h-0.7zM33.4 313.5h0.7v0.7h-0.7zM39.9 319.1h0.7v0.7h-0.7zM38.8 314.8h0.7v0.7h-0.7zM41.0 314.1h0.7v0.7h-0.7zM40.8 312.0h0.7v0.7h-0.7zM42.6 319.9h0.7v0.7h-0.7zM36.9 316.6h0.7v0.7h-0.7zM32.3 323.5h0.7v0.7h-0.7zM32.6 324.3h0.7v0.7h-0.7zM36.6 327.5h0.7v0.7h-0.7zM39.4 323.7h0.7v0.7h-0.7zM41.0 327.2h0.7v0.7h-0.7zM35.6 318.6h0.7v0.7h-0.7zM40.6 324.3h0.7v0.7h-0.7zM37.6 322.6h0.7v0.7h-0.7zM36.5 325.5h0.7v0.7h-0.7zM31.8 319.8h0.7v0.7h-0.7zM36.8 326.1h0.7v0.7h-0.7zM39.3 330.2h0.7v0.7h-0.7zM32.4 328.4h0.7v0.7h-0.7zM37.6 316.3h0.7v0.7h-0.7zM39.3 319.4h0.7v0.7h-0.7zM31.1 322.4h0.7v0.7h-0.7zM47.7 326.1h0.7v0.7h-0.7zM36.7 316.9h0.7v0.7h-0.7zM32.8 318.6h0.7v0.7h-0.7zM41.2 322.4h0.7v0.7h-0.7zM33.3 314.7h0.7v0.7h-0.7zM36.8 324.7h0.7v0.7h-0.7zM33.1 325.8h0.7v0.7h-0.7zM39.5 317.1h0.7v0.7h-0.7zM34.3 328.8h0.7v0.7h-0.7zM40.5 329.7h0.7v0.7h-0.7zM45.2 322.1h0.7v0.7h-0.7zM40.8 313.6h0.7v0.7h-0.7zM38.8 324.2h0.7v0.7h-0.7zM34.5 319.6h0.7v0.7h-0.7zM42.0 320.0h0.7v0.7h-0.7zM37.9 318.3h0.7v0.7h-0.7zM36.4 316.5h0.7v0.7h-0.7zM37.1 320.8h0.7v0.7h-0.7zM36.7 318.7h0.7v0.7h-0.7zM33.2 326.4h0.7v0.7h-0.7zM39.2 324.2h0.7v0.7h-0.7zM29.7 328.5h0.7v0.7h-0.7zM39.3 325.4h0.7v0.7h-0.7zM38.8 315.0h0.7v0.7h-0.7zM40.3 322.4h0.7v0.7h-0.7zM34.0 318.1h0.7v0.7h-0.7zM29.4 319.6h0.7v0.7h-0.7zM52.0 323.1h0.7v0.7h-0.7zM36.1 318.4h0.7v0.7h-0.7zM31.6 319.0h0.7v0.7h-0.7zM30.1 326.8h0.7v0.7h-0.7zM33.5 326.8h0.7v0.7h-0.7zM34.9 325.7h0.7v0.7h-0.7zM34.4 317.1h0.7v0.7h-0.7zM41.7 319.6h0.7v0.7h-0.7zM34.2 317.1h0.7v0.7h-0.7zM36.1 319.9h0.7v0.7h-0.7zM36.6 323.9h0.7v0.7h-0.7zM31.2 314.2h0.7v0.7h-0.7zM37.4 327.0h0.7v0.7h-0.7zM38.8 315.7h0.7v0.7h-0.7zM38.3 324.1h0.7v0.7h-0.7zM36.6 324.4h0.7v0.7h-0.7zM33.2 323.2h0.7v0.7h-0.7zM40.1 319.2h0.7v0.7h-0.7zM36.1 311.9h0.7v0.7h-0.7zM31.3 325.2h0.7v0.7h-0.7zM34.2 322.5h0.7v0.7h-0.7zM44.6 320.9h0.7v0.7h-0.7zM31.0 315.6h0.7v0.7h-0.7zM39.9 322.6h0.7v0.7h-0.7zM30.6 328.7h0.7v0.7h-0.7zM39.2 325.3h0.7v0.7h-0.7zM38.4 315.3h0.7v0.7h-0.7zM40.1 329.9h0.7v0.7h-0.7zM40.7 318.0h0.7v0.7h-0.7zM31.1 327.2h0.7v0.7h-0.7zM40.5 328.8h0.7v0.7h-0.7zM41.6 321.5h0.7v0.7h-0.7zM32.7 311.8h0.7v0.7h-0.7zM32.5 319.4h0.7v0.7h-0.7zM38.6 324.1h0.7v0.7h-0.7zM31.1 326.7h0.7v0.7h-0.7zM31.0 320.4h0.7v0.7h-0.7zM49.4 312.8h0.7v0.7h-0.7zM38.1 315.2h0.7v0.7h-0.7zM42.4 329.1h0.7v0.7h-0.7zM35.4 329.2h0.7v0.7h-0.7zM36.7 318.9h0.7v0.7h-0.7zM32.9 321.4h0.7v0.7h-0.7zM38.4 322.7h0.7v0.7h-0.7zM48.0 320.9h0.7v0.7h-0.7zM32.4 318.0h0.7v0.7h-0.7zM30.7 314.1h0.7v0.7h-0.7zM29.6 327.0h0.7v0.7h-0.7zM35.3 321.1h0.7v0.7h-0.7zM36.9 327.9h0.7v0.7h-0.7zM38.4 326.3h0.7v0.7h-0.7zM31.9 320.6h0.7v0.7h-0.7zM30.7 321.5h0.7v0.7h-0.7zM30.5 320.0h0.7v0.7h-0.7zM34.0 320.8h0.7v0.7h-0.7zM33.5 319.3h0.7v0.7h-0.7zM42.2 320.1h0.7v0.7h-0.7zM29.4 323.1h0.7v0.7h-0.7zM29.0 316.1h0.7v0.7h-0.7zM35.5 312.8h0.7v0.7h-0.7zM40.7 312.8h0.7v0.7h-0.7zM30.1 325.2h0.7v0.7h-0.7zM34.2 323.7h0.7v0.7h-0.7zM34.2 314.6h0.7v0.7h-0.7zM35.1 317.3h0.7v0.7h-0.7zM33.3 320.8h0.7v0.7h-0.7zM39.2 326.2h0.7v0.7h-0.7zM29.5 321.9h0.7v0.7h-0.7zM43.0 324.7h0.7v0.7h-0.7zM31.0 321.3h0.7v0.7h-0.7zM33.1 327.2h0.7v0.7h-0.7zM35.2 324.1h0.7v0.7h-0.7zM47.2 314.4h0.7v0.7h-0.7zM29.4 312.5h0.7v0.7h-0.7zM42.9 327.7h0.7v0.7h-0.7zM39.9 326.8h0.7v0.7h-0.7zM35.2 321.9h0.7v0.7h-0.7zM35.2 326.6h0.7v0.7h-0.7zM34.1 323.8h0.7v0.7h-0.7zM43.0 315.8h0.7v0.7h-0.7zM30.9 325.1h0.7v0.7h-0.7zM33.6 321.1h0.7v0.7h-0.7zM46.5 324.3h0.7v0.7h-0.7zM32.7 328.0h0.7v0.7h-0.7zM48.8 315.9h0.7v0.7h-0.7zM31.3 322.6h0.7v0.7h-0.7zM37.9 319.8h0.7v0.7h-0.7zM37.7 317.6h0.7v0.7h-0.7zM31.7 322.6h0.7v0.7h-0.7zM37.3 329.4h0.7v0.7h-0.7zM37.5 322.8h0.7v0.7h-0.7zM34.3 317.3h0.7v0.7h-0.7zM44.0 315.5h0.7v0.7h-0.7zM34.3 319.1h0.7v0.7h-0.7zM32.9 322.8h0.7v0.7h-0.7zM35.8 326.6h0.7v0.7h-0.7zM34.1 318.5h0.7v0.7h-0.7zM36.7 325.7h0.7v0.7h-0.7zM30.0 313.6h0.7v0.7h-0.7zM29.4 327.8h0.7v0.7h-0.7zM40.5 317.1h0.7v0.7h-0.7zM35.6 326.6h0.7v0.7h-0.7zM42.3 318.4h0.7v0.7h-0.7zM33.7 329.7h0.7v0.7h-0.7zM33.4 321.7h0.7v0.7h-0.7zM31.4 319.4h0.7v0.7h-0.7zM38.8 324.3h0.7v0.7h-0.7zM35.1 317.9h0.7v0.7h-0.7zM33.7 328.8h0.7v0.7h-0.7zM36.4 321.9h0.7v0.7h-0.7zM31.5 322.0h0.7v0.7h-0.7zM29.9 328.2h0.7v0.7h-0.7zM36.4 315.5h0.7v0.7h-0.7zM32.3 315.9h0.7v0.7h-0.7zM38.2 321.0h0.7v0.7h-0.7zM35.6 318.8h0.7v0.7h-0.7zM31.9 319.5h0.7v0.7h-0.7zM37.2 312.5h0.7v0.7h-0.7zM35.6 328.3h0.7v0.7h-0.7zM36.3 329.1h0.7v0.7h-0.7zM33.5 322.0h0.7v0.7h-0.7zM36.3 324.9h0.7v0.7h-0.7zM41.4 322.7h0.7v0.7h-0.7zM29.6 324.4h0.7v0.7h-0.7zM45.8 327.3h0.7v0.7h-0.7zM36.0 318.1h0.7v0.7h-0.7zM37.9 325.8h0.7v0.7h-0.7zM39.6 323.3h0.7v0.7h-0.7zM30.1 317.4h0.7v0.7h-0.7zM34.3 329.3h0.7v0.7h-0.7zM43.7 327.4h0.7v0.7h-0.7zM37.0 325.7h0.7v0.7h-0.7zM39.5 329.1h0.7v0.7h-0.7zM39.7 313.6h0.7v0.7h-0.7zM40.2 324.1h0.7v0.7h-0.7zM32.5 324.9h0.7v0.7h-0.7zM36.6 321.7h0.7v0.7h-0.7zM38.1 321.7h0.7v0.7h-0.7zM39.0 323.0h0.7v0.7h-0.7zM37.3 320.1h0.7v0.7h-0.7zM31.4 324.9h0.7v0.7h-0.7zM33.0 323.0h0.7v0.7h-0.7zM52.9 325.9h0.7v0.7h-0.7zM35.7 313.1h0.7v0.7h-0.7zM35.5 326.2h0.7v0.7h-0.7zM31.1 320.7h0.7v0.7h-0.7zM31.7 325.8h0.7v0.7h-0.7zM42.5 321.1h0.7v0.7h-0.7zM40.4 323.4h0.7v0.7h-0.7zM33.9 320.5h0.7v0.7h-0.7zM30.3 329.1h0.7v0.7h-0.7zM39.8 316.5h0.7v0.7h-0.7zM39.6 318.0h0.7v0.7h-0.7zM36.1 327.0h0.7v0.7h-0.7zM37.8 328.4h0.7v0.7h-0.7zM36.9 325.2h0.7v0.7h-0.7zM36.4 328.0h0.7v0.7h-0.7zM32.8 327.6h0.7v0.7h-0.7zM43.3 321.7h0.7v0.7h-0.7zM37.4 319.2h0.7v0.7h-0.7zM33.4 323.4h0.7v0.7h-0.7zM33.1 317.1h0.7v0.7h-0.7zM34.8 323.1h0.7v0.7h-0.7zM36.8 325.9h0.7v0.7h-0.7zM34.1 317.8h0.7v0.7h-0.7zM33.0 324.4h0.7v0.7h-0.7zM39.8 320.0h0.7v0.7h-0.7zM35.9 313.2h0.7v0.7h-0.7zM35.9 321.4h0.7v0.7h-0.7zM32.6 326.9h0.7v0.7h-0.7zM44.9 327.7h0.7v0.7h-0.7zM33.2 321.8h0.7v0.7h-0.7zM31.8 324.5h0.7v0.7h-0.7zM38.0 322.8h0.7v0.7h-0.7zM33.8 321.2h0.7v0.7h-0.7zM32.8 327.3h0.7v0.7h-0.7zM32.1 321.2h0.7v0.7h-0.7zM33.8 317.9h0.7v0.7h-0.7zM33.7 313.9h0.7v0.7h-0.7zM37.2 325.0h0.7v0.7h-0.7zM30.5 325.0h0.7v0.7h-0.7zM37.6 319.1h0.7v0.7h-0.7zM33.7 326.9h0.7v0.7h-0.7zM35.3 323.5h0.7v0.7h-0.7zM42.7 323.2h0.7v0.7h-0.7zM39.6 321.3h0.7v0.7h-0.7zM29.1 311.2h0.7v0.7h-0.7zM36.8 330.2h0.7v0.7h-0.7zM37.7 319.0h0.7v0.7h-0.7zM33.4 320.2h0.7v0.7h-0.7zM30.1 324.4h0.7v0.7h-0.7zM40.0 324.0h0.7v0.7h-0.7zM32.0 327.7h0.7v0.7h-0.7zM34.4 325.2h0.7v0.7h-0.7zM29.9 325.6h0.7v0.7h-0.7zM39.1 329.0h0.7v0.7h-0.7zM35.2 324.4h0.7v0.7h-0.7zM31.9 326.8h0.7v0.7h-0.7zM39.2 327.9h0.7v0.7h-0.7zM32.9 315.3h0.7v0.7h-0.7zM34.6 320.9h0.7v0.7h-0.7zM30.9 325.3h0.7v0.7h-0.7zM40.2 324.2h0.7v0.7h-0.7zM41.1 324.2h0.7v0.7h-0.7zM29.7 318.8h0.7v0.7h-0.7zM33.1 325.7h0.7v0.7h-0.7zM40.0 322.7h0.7v0.7h-0.7zM40.5 317.5h0.7v0.7h-0.7zM34.4 330.1h0.7v0.7h-0.7z" fill="#7a7a7a" opacity="0.7"/>
<path d="M35.5 328.1h0.7v0.7h-0.7zM31.0 328.0h0.7v0.7h-0.7zM39.6 321.6h0.7v0.7h-0.7zM30.6 320.0h0.7v0.7h-0.7zM30.9 326.2h0.7v0.7h-0.7zM36.5 321.3h0.7v0.7h-0.7zM34.8 323.4h0.7v0.7h-0.7zM36.7 327.6h0.7v0.7h-0.7zM32.8 327.5h0.7v0.7h-0.7zM36.0 323.7h0.7v0.7h-0.7zM34.9 326.7h0.7v0.7h-0.7zM32.9 321.4h0.7v0.7h-0.7zM38.4 324.0h0.7v0.7h-0.7zM32.0 325.8h0.7v0.7h-0.7zM29.3 322.3h0.7v0.7h-0.7zM37.1 323.3h0.7v0.7h-0.7zM31.8 329.8h0.7v0.7h-0.7zM32.2 318.3h0.7v0.7h-0.7zM40.4 322.3h0.7v0.7h-0.7zM36.6 328.7h0.7v0.7h-0.7zM29.5 324.3h0.7v0.7h-0.7zM32.0 326.4h0.7v0.7h-0.7zM34.0 319.1h0.7v0.7h-0.7zM34.2 327.0h0.7v0.7h-0.7zM33.0 326.2h0.7v0.7h-0.7zM32.2 323.8h0.7v0.7h-0.7zM35.2 324.6h0.7v0.7h-0.7zM38.4 327.7h0.7v0.7h-0.7zM36.9 326.9h0.7v0.7h-0.7zM34.6 319.5h0.7v0.7h-0.7zM34.8 323.0h0.7v0.7h-0.7zM33.9 328.8h0.7v0.7h-0.7zM35.0 320.2h0.7v0.7h-0.7zM33.4 321.0h0.7v0.7h-0.7zM33.3 320.5h0.7v0.7h-0.7zM31.0 329.8h0.7v0.7h-0.7zM37.6 317.7h0.7v0.7h-0.7zM30.7 322.3h0.7v0.7h-0.7zM32.7 318.6h0.7v0.7h-0.7zM37.1 317.7h0.7v0.7h-0.7zM36.4 326.8h0.7v0.7h-0.7zM32.8 321.5h0.7v0.7h-0.7zM34.2 324.6h0.7v0.7h-0.7zM35.8 323.6h0.7v0.7h-0.7zM32.6 320.1h0.7v0.7h-0.7zM31.6 321.0h0.7v0.7h-0.7zM43.6 319.1h0.7v0.7h-0.7zM39.3 325.9h0.7v0.7h-0.7zM34.8 324.8h0.7v0.7h-0.7zM35.8 323.9h0.7v0.7h-0.7zM33.6 324.8h0.7v0.7h-0.7zM30.1 322.8h0.7v0.7h-0.7zM31.9 326.5h0.7v0.7h-0.7zM36.1 316.7h0.7v0.7h-0.7zM33.3 327.9h0.7v0.7h-0.7zM29.6 319.4h0.7v0.7h-0.7zM37.5 323.5h0.7v0.7h-0.7zM32.5 319.3h0.7v0.7h-0.7zM34.6 321.9h0.7v0.7h-0.7zM34.8 325.7h0.7v0.7h-0.7zM36.4 322.8h0.7v0.7h-0.7zM32.2 324.1h0.7v0.7h-0.7zM33.7 324.7h0.7v0.7h-0.7zM32.2 323.1h0.7v0.7h-0.7zM32.0 321.7h0.7v0.7h-0.7zM34.6 328.5h0.7v0.7h-0.7zM32.2 326.3h0.7v0.7h-0.7zM35.2 324.5h0.7v0.7h-0.7zM36.4 321.9h0.7v0.7h-0.7zM36.0 325.2h0.7v0.7h-0.7zM30.4 324.4h0.7v0.7h-0.7zM35.2 320.2h0.7v0.7h-0.7zM38.1 325.8h0.7v0.7h-0.7zM31.3 319.3h0.7v0.7h-0.7zM41.4 314.3h0.7v0.7h-0.7zM33.7 321.5h0.7v0.7h-0.7zM36.1 324.4h0.7v0.7h-0.7zM35.0 325.1h0.7v0.7h-0.7zM30.3 329.2h0.7v0.7h-0.7zM32.5 328.5h0.7v0.7h-0.7zM36.4 324.2h0.7v0.7h-0.7zM34.5 323.8h0.7v0.7h-0.7zM35.5 317.7h0.7v0.7h-0.7zM36.8 318.0h0.7v0.7h-0.7zM35.6 323.8h0.7v0.7h-0.7zM37.4 322.8h0.7v0.7h-0.7zM33.3 321.1h0.7v0.7h-0.7zM34.6 323.5h0.7v0.7h-0.7zM31.8 322.7h0.7v0.7h-0.7zM31.4 326.5h0.7v0.7h-0.7zM30.5 317.9h0.7v0.7h-0.7zM30.7 328.3h0.7v0.7h-0.7zM32.3 326.6h0.7v0.7h-0.7zM36.6 322.0h0.7v0.7h-0.7zM36.6 326.0h0.7v0.7h-0.7zM33.9 321.2h0.7v0.7h-0.7zM33.8 319.0h0.7v0.7h-0.7zM33.1 321.7h0.7v0.7h-0.7zM35.5 325.4h0.7v0.7h-0.7zM31.8 327.4h0.7v0.7h-0.7zM38.1 324.3h0.7v0.7h-0.7zM31.5 326.0h0.7v0.7h-0.7zM31.5 330.0h0.7v0.7h-0.7zM34.7 328.0h0.7v0.7h-0.7zM33.4 321.6h0.7v0.7h-0.7zM33.2 330.0h0.7v0.7h-0.7zM36.9 322.9h0.7v0.7h-0.7zM35.3 327.4h0.7v0.7h-0.7zM36.0 323.9h0.7v0.7h-0.7zM31.7 321.1h0.7v0.7h-0.7zM32.5 321.8h0.7v0.7h-0.7zM37.1 319.6h0.7v0.7h-0.7zM29.5 323.8h0.7v0.7h-0.7zM39.0 329.0h0.7v0.7h-0.7zM32.6 319.9h0.7v0.7h-0.7zM32.2 320.4h0.7v0.7h-0.7zM32.1 325.9h0.7v0.7h-0.7zM30.3 320.9h0.7v0.7h-0.7zM33.1 323.9h0.7v0.7h-0.7zM31.3 320.9h0.7v0.7h-0.7zM30.1 321.0h0.7v0.7h-0.7zM35.8 323.0h0.7v0.7h-0.7zM33.8 320.5h0.7v0.7h-0.7zM33.1 312.0h0.7v0.7h-0.7zM31.4 324.2h0.7v0.7h-0.7zM36.7 319.1h0.7v0.7h-0.7zM40.1 321.1h0.7v0.7h-0.7zM35.2 319.4h0.7v0.7h-0.7zM35.3 323.9h0.7v0.7h-0.7zM37.8 319.4h0.7v0.7h-0.7zM29.8 325.4h0.7v0.7h-0.7zM35.5 322.0h0.7v0.7h-0.7zM33.1 329.6h0.7v0.7h-0.7zM38.0 326.3h0.7v0.7h-0.7zM34.9 319.5h0.7v0.7h-0.7zM37.7 318.6h0.7v0.7h-0.7zM34.6 321.8h0.7v0.7h-0.7zM32.9 325.4h0.7v0.7h-0.7zM37.1 324.8h0.7v0.7h-0.7zM38.4 318.3h0.7v0.7h-0.7zM35.6 325.7h0.7v0.7h-0.7zM43.4 329.2h0.7v0.7h-0.7zM35.3 329.4h0.7v0.7h-0.7zM38.0 319.5h0.7v0.7h-0.7zM35.7 329.6h0.7v0.7h-0.7zM33.4 324.3h0.7v0.7h-0.7zM32.4 326.9h0.7v0.7h-0.7zM32.1 321.6h0.7v0.7h-0.7zM29.7 320.3h0.7v0.7h-0.7zM34.8 325.9h0.7v0.7h-0.7zM32.6 319.8h0.7v0.7h-0.7zM35.2 325.4h0.7v0.7h-0.7zM38.5 322.0h0.7v0.7h-0.7zM32.6 326.1h0.7v0.7h-0.7zM39.4 323.8h0.7v0.7h-0.7zM33.7 320.2h0.7v0.7h-0.7zM32.7 327.8h0.7v0.7h-0.7zM37.0 328.5h0.7v0.7h-0.7zM30.7 326.4h0.7v0.7h-0.7zM30.9 329.1h0.7v0.7h-0.7zM34.4 329.2h0.7v0.7h-0.7zM32.3 320.1h0.7v0.7h-0.7zM37.2 322.4h0.7v0.7h-0.7zM33.8 318.6h0.7v0.7h-0.7zM32.8 324.5h0.7v0.7h-0.7zM31.5 325.6h0.7v0.7h-0.7zM32.6 329.9h0.7v0.7h-0.7zM32.8 321.4h0.7v0.7h-0.7zM32.4 325.1h0.7v0.7h-0.7zM36.1 322.1h0.7v0.7h-0.7zM31.2 325.7h0.7v0.7h-0.7zM36.9 317.0h0.7v0.7h-0.7zM30.3 321.3h0.7v0.7h-0.7zM40.0 329.0h0.7v0.7h-0.7zM36.8 326.0h0.7v0.7h-0.7zM30.0 328.5h0.7v0.7h-0.7zM32.4 320.8h0.7v0.7h-0.7zM40.9 318.1h0.7v0.7h-0.7zM38.9 324.8h0.7v0.7h-0.7zM30.7 324.7h0.7v0.7h-0.7zM31.0 324.8h0.7v0.7h-0.7zM31.7 319.2h0.7v0.7h-0.7zM43.4 322.0h0.7v0.7h-0.7zM37.5 323.8h0.7v0.7h-0.7zM36.4 318.9h0.7v0.7h-0.7zM30.3 310.7h0.7v0.7h-0.7zM37.6 325.8h0.7v0.7h-0.7zM29.8 327.4h0.7v0.7h-0.7zM34.8 327.7h0.7v0.7h-0.7zM36.2 327.1h0.7v0.7h-0.7zM33.9 322.3h0.7v0.7h-0.7zM36.5 329.0h0.7v0.7h-0.7zM29.9 319.4h0.7v0.7h-0.7zM33.3 317.1h0.7v0.7h-0.7zM36.9 327.1h0.7v0.7h-0.7zM40.9 324.8h0.7v0.7h-0.7zM41.0 321.1h0.7v0.7h-0.7zM37.2 324.6h0.7v0.7h-0.7zM29.8 322.9h0.7v0.7h-0.7zM38.7 328.5h0.7v0.7h-0.7zM32.7 328.5h0.7v0.7h-0.7zM37.2 327.7h0.7v0.7h-0.7zM35.0 325.3h0.7v0.7h-0.7zM31.1 323.7h0.7v0.7h-0.7zM34.5 321.0h0.7v0.7h-0.7zM33.0 324.7h0.7v0.7h-0.7zM34.8 328.3h0.7v0.7h-0.7zM30.4 322.4h0.7v0.7h-0.7zM35.0 322.5h0.7v0.7h-0.7zM35.2 322.1h0.7v0.7h-0.7zM38.2 323.1h0.7v0.7h-0.7zM30.0 327.1h0.7v0.7h-0.7zM39.9 316.2h0.7v0.7h-0.7zM33.6 324.3h0.7v0.7h-0.7zM37.7 330.1h0.7v0.7h-0.7zM33.5 317.7h0.7v0.7h-0.7zM36.4 328.1h0.7v0.7h-0.7zM35.7 324.3h0.7v0.7h-0.7zM29.8 317.9h0.7v0.7h-0.7zM37.5 325.2h0.7v0.7h-0.7zM36.4 325.5h0.7v0.7h-0.7zM40.0 329.8h0.7v0.7h-0.7zM32.1 328.1h0.7v0.7h-0.7zM29.9 317.1h0.7v0.7h-0.7zM38.3 322.3h0.7v0.7h-0.7z" fill="#555" opacity="0.8"/>
<path d="M53.7 301.0h0.7v0.7h-0.7zM57.7 296.1h0.7v0.7h-0.7zM53.4 302.0h0.7v0.7h-0.7zM51.9 299.5h0.7v0.7h-0.7zM51.6 300.8h0.7v0.7h-0.7zM69.8 301.2h0.7v0.7h-0.7zM65.4 300.8h0.7v0.7h-0.7zM51.7 297.9h0.7v0.7h-0.7zM58.5 300.7h0.7v0.7h-0.7zM54.1 301.4h0.7v0.7h-0.7zM53.3 299.3h0.7v0.7h-0.7zM58.0 294.6h0.7v0.7h-0.7zM64.6 299.2h0.7v0.7h-0.7zM58.8 298.9h0.7v0.7h-0.7zM52.2 302.8h0.7v0.7h-0.7zM54.3 301.4h0.7v0.7h-0.7zM51.3 295.8h0.7v0.7h-0.7zM55.0 303.1h0.7v0.7h-0.7zM60.7 299.5h0.7v0.7h-0.7zM57.9 302.0h0.7v0.7h-0.7zM59.9 295.2h0.7v0.7h-0.7zM62.2 296.0h0.7v0.7h-0.7zM55.8 304.6h0.7v0.7h-0.7zM60.8 296.0h0.7v0.7h-0.7zM53.1 305.4h0.7v0.7h-0.7zM60.2 293.7h0.7v0.7h-0.7zM68.3 301.3h0.7v0.7h-0.7zM66.7 300.6h0.7v0.7h-0.7zM57.1 298.4h0.7v0.7h-0.7zM68.0 296.5h0.7v0.7h-0.7zM57.4 298.8h0.7v0.7h-0.7zM57.4 295.1h0.7v0.7h-0.7zM60.2 298.3h0.7v0.7h-0.7zM59.4 295.0h0.7v0.7h-0.7zM58.1 295.3h0.7v0.7h-0.7zM51.4 300.3h0.7v0.7h-0.7zM62.2 301.3h0.7v0.7h-0.7zM57.8 297.5h0.7v0.7h-0.7zM67.2 303.8h0.7v0.7h-0.7zM53.9 294.9h0.7v0.7h-0.7zM60.5 300.2h0.7v0.7h-0.7zM52.1 307.8h0.7v0.7h-0.7zM59.6 302.8h0.7v0.7h-0.7zM67.4 304.4h0.7v0.7h-0.7zM56.4 299.2h0.7v0.7h-0.7zM52.2 300.5h0.7v0.7h-0.7zM51.2 291.2h0.7v0.7h-0.7zM49.4 303.3h0.7v0.7h-0.7zM66.4 302.8h0.7v0.7h-0.7zM62.3 303.4h0.7v0.7h-0.7zM59.8 302.3h0.7v0.7h-0.7zM61.1 302.0h0.7v0.7h-0.7zM51.4 296.5h0.7v0.7h-0.7zM51.5 302.2h0.7v0.7h-0.7zM61.4 296.0h0.7v0.7h-0.7zM51.6 296.8h0.7v0.7h-0.7zM63.8 298.6h0.7v0.7h-0.7zM56.5 296.4h0.7v0.7h-0.7zM57.3 305.1h0.7v0.7h-0.7zM53.5 297.7h0.7v0.7h-0.7zM69.2 301.8h0.7v0.7h-0.7zM50.6 303.2h0.7v0.7h-0.7zM49.8 301.2h0.7v0.7h-0.7zM64.0 296.7h0.7v0.7h-0.7zM53.3 299.2h0.7v0.7h-0.7zM58.1 297.2h0.7v0.7h-0.7zM53.6 305.9h0.7v0.7h-0.7zM67.8 300.3h0.7v0.7h-0.7zM50.5 297.0h0.7v0.7h-0.7zM56.1 300.9h0.7v0.7h-0.7zM68.5 297.0h0.7v0.7h-0.7zM59.0 297.4h0.7v0.7h-0.7zM59.0 296.4h0.7v0.7h-0.7zM60.5 303.5h0.7v0.7h-0.7zM55.5 297.8h0.7v0.7h-0.7zM58.8 294.0h0.7v0.7h-0.7zM69.9 293.9h0.7v0.7h-0.7zM55.7 295.6h0.7v0.7h-0.7zM67.9 297.2h0.7v0.7h-0.7zM54.7 306.3h0.7v0.7h-0.7zM57.3 296.1h0.7v0.7h-0.7zM58.0 299.8h0.7v0.7h-0.7zM53.2 298.3h0.7v0.7h-0.7zM56.7 301.8h0.7v0.7h-0.7zM63.1 302.2h0.7v0.7h-0.7zM57.2 302.1h0.7v0.7h-0.7zM56.7 303.5h0.7v0.7h-0.7zM60.7 297.4h0.7v0.7h-0.7zM66.1 293.2h0.7v0.7h-0.7zM51.7 296.0h0.7v0.7h-0.7zM57.2 294.3h0.7v0.7h-0.7zM50.2 291.8h0.7v0.7h-0.7zM58.8 296.1h0.7v0.7h-0.7zM72.4 302.0h0.7v0.7h-0.7zM50.6 304.1h0.7v0.7h-0.7zM58.7 303.2h0.7v0.7h-0.7zM50.8 303.5h0.7v0.7h-0.7zM65.2 297.4h0.7v0.7h-0.7zM52.5 297.6h0.7v0.7h-0.7zM59.8 308.2h0.7v0.7h-0.7zM69.9 304.8h0.7v0.7h-0.7zM56.6 297.8h0.7v0.7h-0.7zM60.5 298.0h0.7v0.7h-0.7zM55.0 298.2h0.7v0.7h-0.7zM63.6 298.8h0.7v0.7h-0.7zM59.6 298.0h0.7v0.7h-0.7zM56.8 297.8h0.7v0.7h-0.7zM66.3 299.9h0.7v0.7h-0.7zM67.8 298.4h0.7v0.7h-0.7zM65.0 293.7h0.7v0.7h-0.7zM55.4 298.8h0.7v0.7h-0.7zM53.9 298.6h0.7v0.7h-0.7zM52.0 298.4h0.7v0.7h-0.7zM53.7 299.0h0.7v0.7h-0.7zM56.1 295.2h0.7v0.7h-0.7zM55.4 299.1h0.7v0.7h-0.7zM49.7 299.4h0.7v0.7h-0.7zM66.2 298.2h0.7v0.7h-0.7zM61.6 301.4h0.7v0.7h-0.7zM52.8 304.1h0.7v0.7h-0.7zM72.1 296.3h0.7v0.7h-0.7zM67.6 292.1h0.7v0.7h-0.7zM65.5 299.6h0.7v0.7h-0.7zM49.7 295.9h0.7v0.7h-0.7zM51.2 295.6h0.7v0.7h-0.7zM60.5 298.3h0.7v0.7h-0.7zM61.1 299.4h0.7v0.7h-0.7zM69.1 292.0h0.7v0.7h-0.7zM59.6 299.1h0.7v0.7h-0.7zM62.8 293.9h0.7v0.7h-0.7zM49.5 298.4h0.7v0.7h-0.7zM58.5 292.1h0.7v0.7h-0.7zM60.4 299.0h0.7v0.7h-0.7zM61.3 295.6h0.7v0.7h-0.7zM54.9 302.0h0.7v0.7h-0.7zM69.1 299.6h0.7v0.7h-0.7zM57.3 304.0h0.7v0.7h-0.7zM52.2 298.4h0.7v0.7h-0.7zM54.7 295.3h0.7v0.7h-0.7zM59.3 306.8h0.7v0.7h-0.7zM59.7 300.9h0.7v0.7h-0.7zM57.8 303.3h0.7v0.7h-0.7zM59.2 295.7h0.7v0.7h-0.7zM58.7 304.5h0.7v0.7h-0.7zM57.5 303.6h0.7v0.7h-0.7zM57.6 306.8h0.7v0.7h-0.7zM59.9 301.5h0.7v0.7h-0.7zM56.2 302.2h0.7v0.7h-0.7zM56.6 293.4h0.7v0.7h-0.7zM60.0 294.4h0.7v0.7h-0.7zM67.7 302.1h0.7v0.7h-0.7zM58.2 301.7h0.7v0.7h-0.7zM53.8 301.6h0.7v0.7h-0.7zM55.3 300.3h0.7v0.7h-0.7zM60.8 292.6h0.7v0.7h-0.7zM52.0 304.7h0.7v0.7h-0.7zM54.1 301.1h0.7v0.7h-0.7zM49.1 295.5h0.7v0.7h-0.7zM65.6 299.4h0.7v0.7h-0.7zM56.3 300.0h0.7v0.7h-0.7zM61.1 297.9h0.7v0.7h-0.7zM61.7 306.5h0.7v0.7h-0.7zM72.6 296.8h0.7v0.7h-0.7zM49.8 306.4h0.7v0.7h-0.7zM64.5 303.7h0.7v0.7h-0.7zM62.0 298.2h0.7v0.7h-0.7zM64.4 303.3h0.7v0.7h-0.7zM65.7 294.9h0.7v0.7h-0.7zM64.8 297.7h0.7v0.7h-0.7zM55.7 300.4h0.7v0.7h-0.7zM55.8 307.9h0.7v0.7h-0.7zM61.7 300.1h0.7v0.7h-0.7zM56.8 300.0h0.7v0.7h-0.7zM56.6 301.3h0.7v0.7h-0.7zM63.7 302.2h0.7v0.7h-0.7zM49.9 297.8h0.7v0.7h-0.7zM58.6 294.4h0.7v0.7h-0.7zM60.5 298.5h0.7v0.7h-0.7zM58.4 300.5h0.7v0.7h-0.7zM54.0 305.0h0.7v0.7h-0.7zM64.8 296.9h0.7v0.7h-0.7zM61.1 301.9h0.7v0.7h-0.7zM53.1 297.7h0.7v0.7h-0.7zM49.4 300.3h0.7v0.7h-0.7zM62.1 295.5h0.7v0.7h-0.7zM63.7 307.5h0.7v0.7h-0.7zM59.4 298.9h0.7v0.7h-0.7zM58.5 295.2h0.7v0.7h-0.7zM61.7 299.7h0.7v0.7h-0.7zM62.9 304.5h0.7v0.7h-0.7zM58.3 299.7h0.7v0.7h-0.7zM60.2 305.7h0.7v0.7h-0.7zM54.0 299.5h0.7v0.7h-0.7zM63.5 299.3h0.7v0.7h-0.7zM62.9 299.8h0.7v0.7h-0.7zM53.4 296.5h0.7v0.7h-0.7zM49.0 299.9h0.7v0.7h-0.7zM55.5 302.3h0.7v0.7h-0.7zM64.4 295.7h0.7v0.7h-0.7zM51.0 301.4h0.7v0.7h-0.7zM52.3 299.8h0.7v0.7h-0.7zM62.1 297.6h0.7v0.7h-0.7zM69.7 296.1h0.7v0.7h-0.7zM60.9 297.5h0.7v0.7h-0.7zM57.0 301.3h0.7v0.7h-0.7zM57.2 296.3h0.7v0.7h-0.7zM54.7 297.9h0.7v0.7h-0.7zM63.0 298.0h0.7v0.7h-0.7zM66.1 302.3h0.7v0.7h-0.7zM53.2 303.0h0.7v0.7h-0.7zM51.7 298.7h0.7v0.7h-0.7zM65.6 299.0h0.7v0.7h-0.7zM57.0 303.9h0.7v0.7h-0.7zM53.1 295.9h0.7v0.7h-0.7zM64.4 301.4h0.7v0.7h-0.7zM48.8 299.6h0.7v0.7h-0.7zM63.2 298.4h0.7v0.7h-0.7zM55.4 299.6h0.7v0.7h-0.7zM59.5 296.4h0.7v0.7h-0.7zM63.5 293.0h0.7v0.7h-0.7zM57.6 307.2h0.7v0.7h-0.7zM51.2 298.9h0.7v0.7h-0.7zM50.6 299.3h0.7v0.7h-0.7zM54.9 306.1h0.7v0.7h-0.7zM52.0 298.9h0.7v0.7h-0.7zM59.5 301.5h0.7v0.7h-0.7zM63.9 293.1h0.7v0.7h-0.7zM72.4 297.9h0.7v0.7h-0.7zM53.4 292.8h0.7v0.7h-0.7zM55.2 292.3h0.7v0.7h-0.7zM59.3 296.8h0.7v0.7h-0.7zM60.2 296.0h0.7v0.7h-0.7zM58.5 307.5h0.7v0.7h-0.7zM65.7 299.7h0.7v0.7h-0.7zM51.6 304.6h0.7v0.7h-0.7zM66.5 296.8h0.7v0.7h-0.7zM66.9 301.2h0.7v0.7h-0.7zM72.3 305.8h0.7v0.7h-0.7zM61.9 296.6h0.7v0.7h-0.7zM61.9 304.4h0.7v0.7h-0.7zM55.6 297.6h0.7v0.7h-0.7zM57.7 297.7h0.7v0.7h-0.7zM65.5 294.2h0.7v0.7h-0.7zM60.9 291.5h0.7v0.7h-0.7zM53.1 295.6h0.7v0.7h-0.7zM53.5 301.4h0.7v0.7h-0.7zM61.8 299.3h0.7v0.7h-0.7zM59.3 296.4h0.7v0.7h-0.7zM51.6 293.6h0.7v0.7h-0.7zM55.3 294.7h0.7v0.7h-0.7zM55.9 301.8h0.7v0.7h-0.7zM61.6 304.1h0.7v0.7h-0.7zM52.0 290.6h0.7v0.7h-0.7zM50.8 306.6h0.7v0.7h-0.7zM62.6 297.3h0.7v0.7h-0.7zM66.6 297.4h0.7v0.7h-0.7zM68.9 297.5h0.7v0.7h-0.7zM55.4 301.7h0.7v0.7h-0.7zM50.6 298.4h0.7v0.7h-0.7zM70.6 300.7h0.7v0.7h-0.7zM50.8 298.0h0.7v0.7h-0.7zM57.8 296.1h0.7v0.7h-0.7zM60.7 303.8h0.7v0.7h-0.7zM58.3 302.4h0.7v0.7h-0.7zM59.9 299.5h0.7v0.7h-0.7zM53.1 302.7h0.7v0.7h-0.7zM66.8 297.3h0.7v0.7h-0.7zM52.3 301.0h0.7v0.7h-0.7zM58.7 303.3h0.7v0.7h-0.7zM61.2 298.5h0.7v0.7h-0.7zM49.0 301.4h0.7v0.7h-0.7zM58.6 294.2h0.7v0.7h-0.7zM62.0 297.3h0.7v0.7h-0.7zM53.9 298.6h0.7v0.7h-0.7zM58.2 297.7h0.7v0.7h-0.7zM62.8 302.9h0.7v0.7h-0.7zM56.5 305.0h0.7v0.7h-0.7zM57.2 295.7h0.7v0.7h-0.7zM59.0 293.5h0.7v0.7h-0.7zM56.0 295.0h0.7v0.7h-0.7zM55.2 299.7h0.7v0.7h-0.7zM59.7 298.2h0.7v0.7h-0.7zM62.6 300.3h0.7v0.7h-0.7zM55.6 295.2h0.7v0.7h-0.7zM62.8 301.9h0.7v0.7h-0.7zM50.3 302.1h0.7v0.7h-0.7zM54.2 294.2h0.7v0.7h-0.7zM67.8 300.7h0.7v0.7h-0.7zM59.5 299.9h0.7v0.7h-0.7zM56.8 299.1h0.7v0.7h-0.7zM63.8 300.7h0.7v0.7h-0.7zM55.0 299.4h0.7v0.7h-0.7zM70.2 296.9h0.7v0.7h-0.7zM49.4 299.4h0.7v0.7h-0.7zM50.5 309.0h0.7v0.7h-0.7zM62.0 301.2h0.7v0.7h-0.7zM60.4 306.5h0.7v0.7h-0.7zM51.3 298.8h0.7v0.7h-0.7zM57.5 305.7h0.7v0.7h-0.7zM56.2 295.0h0.7v0.7h-0.7zM53.4 302.0h0.7v0.7h-0.7zM52.6 300.0h0.7v0.7h-0.7zM53.2 296.3h0.7v0.7h-0.7zM54.3 305.2h0.7v0.7h-0.7zM50.9 300.2h0.7v0.7h-0.7zM63.2 296.1h0.7v0.7h-0.7zM69.3 298.0h0.7v0.7h-0.7zM50.1 302.3h0.7v0.7h-0.7zM57.7 295.8h0.7v0.7h-0.7zM52.6 294.3h0.7v0.7h-0.7zM49.3 301.2h0.7v0.7h-0.7zM59.7 305.4h0.7v0.7h-0.7zM52.4 304.0h0.7v0.7h-0.7zM64.7 299.4h0.7v0.7h-0.7zM58.5 296.1h0.7v0.7h-0.7zM54.5 297.2h0.7v0.7h-0.7zM62.7 306.9h0.7v0.7h-0.7zM66.0 300.8h0.7v0.7h-0.7zM63.4 292.5h0.7v0.7h-0.7zM51.3 302.2h0.7v0.7h-0.7zM55.4 292.7h0.7v0.7h-0.7zM57.8 294.0h0.7v0.7h-0.7zM57.9 304.9h0.7v0.7h-0.7zM50.4 297.2h0.7v0.7h-0.7zM61.5 298.8h0.7v0.7h-0.7zM59.1 295.7h0.7v0.7h-0.7zM56.7 303.9h0.7v0.7h-0.7zM50.5 298.2h0.7v0.7h-0.7zM62.5 303.6h0.7v0.7h-0.7zM65.5 295.5h0.7v0.7h-0.7zM55.1 305.7h0.7v0.7h-0.7zM54.8 300.0h0.7v0.7h-0.7zM52.3 296.4h0.7v0.7h-0.7zM51.4 304.1h0.7v0.7h-0.7zM62.9 300.5h0.7v0.7h-0.7zM54.4 293.6h0.7v0.7h-0.7zM61.0 295.7h0.7v0.7h-0.7zM57.1 302.5h0.7v0.7h-0.7zM56.6 298.8h0.7v0.7h-0.7zM51.3 302.9h0.7v0.7h-0.7zM61.3 301.6h0.7v0.7h-0.7zM68.5 292.7h0.7v0.7h-0.7zM58.0 301.4h0.7v0.7h-0.7zM60.0 300.1h0.7v0.7h-0.7zM60.9 293.0h0.7v0.7h-0.7zM57.3 303.4h0.7v0.7h-0.7zM57.5 298.1h0.7v0.7h-0.7zM63.4 292.2h0.7v0.7h-0.7zM60.4 304.8h0.7v0.7h-0.7zM56.2 295.7h0.7v0.7h-0.7zM61.3 297.2h0.7v0.7h-0.7zM52.4 299.5h0.7v0.7h-0.7zM49.9 296.8h0.7v0.7h-0.7zM62.6 298.8h0.7v0.7h-0.7zM59.5 304.2h0.7v0.7h-0.7zM67.8 306.9h0.7v0.7h-0.7zM54.2 302.4h0.7v0.7h-0.7zM66.4 296.1h0.7v0.7h-0.7zM60.9 302.1h0.7v0.7h-0.7zM56.8 296.4h0.7v0.7h-0.7zM67.8 293.8h0.7v0.7h-0.7zM58.9 302.6h0.7v0.7h-0.7zM59.4 305.0h0.7v0.7h-0.7zM67.6 300.7h0.7v0.7h-0.7zM69.5 301.8h0.7v0.7h-0.7zM49.7 297.7h0.7v0.7h-0.7zM59.6 299.6h0.7v0.7h-0.7zM60.8 299.7h0.7v0.7h-0.7zM68.0 299.8h0.7v0.7h-0.7zM60.3 301.7h0.7v0.7h-0.7zM53.0 293.9h0.7v0.7h-0.7zM54.8 302.8h0.7v0.7h-0.7zM56.0 303.7h0.7v0.7h-0.7zM54.2 301.8h0.7v0.7h-0.7zM58.0 302.2h0.7v0.7h-0.7zM57.9 299.7h0.7v0.7h-0.7zM54.8 303.7h0.7v0.7h-0.7zM57.6 300.8h0.7v0.7h-0.7zM62.2 295.5h0.7v0.7h-0.7zM52.4 298.8h0.7v0.7h-0.7zM66.3 294.9h0.7v0.7h-0.7zM51.2 295.1h0.7v0.7h-0.7zM55.3 294.8h0.7v0.7h-0.7zM52.5 301.0h0.7v0.7h-0.7zM50.7 298.9h0.7v0.7h-0.7zM50.1 298.2h0.7v0.7h-0.7zM61.3 291.2h0.7v0.7h-0.7zM58.2 299.8h0.7v0.7h-0.7zM57.5 299.9h0.7v0.7h-0.7zM60.6 293.9h0.7v0.7h-0.7zM57.1 301.4h0.7v0.7h-0.7zM66.4 293.7h0.7v0.7h-0.7zM54.0 293.7h0.7v0.7h-0.7zM57.8 294.8h0.7v0.7h-0.7zM51.4 301.9h0.7v0.7h-0.7zM72.6 291.0h0.7v0.7h-0.7zM68.7 295.4h0.7v0.7h-0.7zM62.4 300.3h0.7v0.7h-0.7zM66.0 298.1h0.7v0.7h-0.7zM52.4 298.7h0.7v0.7h-0.7zM63.1 295.5h0.7v0.7h-0.7zM60.6 298.9h0.7v0.7h-0.7zM59.1 299.0h0.7v0.7h-0.7zM61.9 302.0h0.7v0.7h-0.7zM56.0 297.6h0.7v0.7h-0.7zM50.8 296.3h0.7v0.7h-0.7zM61.4 302.8h0.7v0.7h-0.7zM65.9 295.7h0.7v0.7h-0.7zM59.5 303.0h0.7v0.7h-0.7zM52.3 298.1h0.7v0.7h-0.7zM49.9 296.5h0.7v0.7h-0.7zM62.6 299.3h0.7v0.7h-0.7zM55.5 296.8h0.7v0.7h-0.7zM67.9 301.8h0.7v0.7h-0.7zM49.8 307.3h0.7v0.7h-0.7zM55.2 298.4h0.7v0.7h-0.7zM54.7 296.8h0.7v0.7h-0.7zM62.1 293.4h0.7v0.7h-0.7zM58.1 297.7h0.7v0.7h-0.7zM69.4 300.4h0.7v0.7h-0.7zM60.8 301.0h0.7v0.7h-0.7zM61.8 299.4h0.7v0.7h-0.7zM55.8 301.7h0.7v0.7h-0.7zM60.0 296.9h0.7v0.7h-0.7zM52.1 295.1h0.7v0.7h-0.7zM59.8 298.6h0.7v0.7h-0.7zM52.1 297.6h0.7v0.7h-0.7zM60.2 296.4h0.7v0.7h-0.7zM57.1 296.6h0.7v0.7h-0.7zM58.3 302.1h0.7v0.7h-0.7zM66.5 296.2h0.7v0.7h-0.7zM61.8 300.0h0.7v0.7h-0.7zM58.4 302.1h0.7v0.7h-0.7zM63.7 294.1h0.7v0.7h-0.7zM67.6 298.3h0.7v0.7h-0.7zM53.6 296.3h0.7v0.7h-0.7z" fill="#7a7a7a" opacity="0.8"/>
<path d="M62.8 294.9h0.8v0.8h-0.8zM66.8 297.8h0.8v0.8h-0.8zM60.7 298.5h0.8v0.8h-0.8zM64.2 297.1h0.8v0.8h-0.8zM66.4 296.8h0.8v0.8h-0.8zM62.7 297.9h0.8v0.8h-0.8zM57.9 294.8h0.8v0.8h-0.8zM65.0 298.9h0.8v0.8h-0.8zM58.4 297.0h0.8v0.8h-0.8zM61.5 296.5h0.8v0.8h-0.8zM65.3 299.7h0.8v0.8h-0.8zM68.8 298.7h0.8v0.8h-0.8zM65.4 297.2h0.8v0.8h-0.8zM57.8 297.7h0.8v0.8h-0.8zM59.9 295.0h0.8v0.8h-0.8zM63.8 294.1h0.8v0.8h-0.8zM68.8 298.1h0.8v0.8h-0.8zM64.6 297.9h0.8v0.8h-0.8zM64.2 297.1h0.8v0.8h-0.8zM65.6 295.8h0.8v0.8h-0.8zM64.3 297.3h0.8v0.8h-0.8zM65.8 295.0h0.8v0.8h-0.8zM64.2 296.8h0.8v0.8h-0.8zM65.4 298.0h0.8v0.8h-0.8zM64.0 297.8h0.8v0.8h-0.8zM64.8 299.5h0.8v0.8h-0.8zM64.4 298.0h0.8v0.8h-0.8zM60.7 296.6h0.8v0.8h-0.8zM65.8 298.9h0.8v0.8h-0.8zM60.5 296.9h0.8v0.8h-0.8zM62.7 297.1h0.8v0.8h-0.8zM62.0 296.2h0.8v0.8h-0.8zM63.3 297.2h0.8v0.8h-0.8zM66.5 295.4h0.8v0.8h-0.8zM60.6 298.4h0.8v0.8h-0.8zM65.0 296.6h0.8v0.8h-0.8zM60.0 298.9h0.8v0.8h-0.8zM60.2 299.0h0.8v0.8h-0.8zM64.2 296.7h0.8v0.8h-0.8zM63.0 298.5h0.8v0.8h-0.8zM63.5 293.8h0.8v0.8h-0.8zM61.4 293.1h0.8v0.8h-0.8zM64.7 298.7h0.8v0.8h-0.8zM66.6 294.6h0.8v0.8h-0.8zM69.9 300.3h0.8v0.8h-0.8zM63.1 293.4h0.8v0.8h-0.8zM60.9 298.9h0.8v0.8h-0.8zM69.7 296.0h0.8v0.8h-0.8zM57.9 295.2h0.8v0.8h-0.8zM69.2 297.0h0.8v0.8h-0.8zM59.2 293.2h0.8v0.8h-0.8zM65.4 298.4h0.8v0.8h-0.8zM62.0 296.6h0.8v0.8h-0.8zM63.7 296.4h0.8v0.8h-0.8zM61.8 295.9h0.8v0.8h-0.8zM61.7 299.2h0.8v0.8h-0.8zM64.7 298.8h0.8v0.8h-0.8zM69.0 292.9h0.8v0.8h-0.8zM63.3 298.7h0.8v0.8h-0.8zM62.8 295.9h0.8v0.8h-0.8zM64.7 296.0h0.8v0.8h-0.8zM60.9 296.4h0.8v0.8h-0.8zM63.6 297.0h0.8v0.8h-0.8zM66.2 297.0h0.8v0.8h-0.8zM62.0 302.5h0.8v0.8h-0.8zM62.8 296.5h0.8v0.8h-0.8zM63.0 295.7h0.8v0.8h-0.8zM58.7 297.3h0.8v0.8h-0.8zM67.9 293.7h0.8v0.8h-0.8zM61.2 297.8h0.8v0.8h-0.8zM61.4 297.9h0.8v0.8h-0.8zM63.3 295.0h0.8v0.8h-0.8zM62.8 296.1h0.8v0.8h-0.8zM65.1 292.4h0.8v0.8h-0.8zM64.7 299.4h0.8v0.8h-0.8zM63.9 297.4h0.8v0.8h-0.8zM61.9 297.6h0.8v0.8h-0.8zM63.0 294.7h0.8v0.8h-0.8zM59.9 292.8h0.8v0.8h-0.8zM64.8 297.3h0.8v0.8h-0.8zM66.7 297.4h0.8v0.8h-0.8zM65.6 294.6h0.8v0.8h-0.8zM57.9 296.0h0.8v0.8h-0.8zM62.5 297.6h0.8v0.8h-0.8zM63.1 296.7h0.8v0.8h-0.8zM63.6 297.4h0.8v0.8h-0.8zM64.1 297.6h0.8v0.8h-0.8zM62.0 296.8h0.8v0.8h-0.8zM59.0 295.0h0.8v0.8h-0.8zM62.7 297.8h0.8v0.8h-0.8zM61.2 294.4h0.8v0.8h-0.8zM66.3 295.5h0.8v0.8h-0.8zM58.3 295.2h0.8v0.8h-0.8zM59.9 292.6h0.8v0.8h-0.8zM62.3 300.0h0.8v0.8h-0.8zM61.2 295.5h0.8v0.8h-0.8zM66.9 297.1h0.8v0.8h-0.8zM63.2 299.4h0.8v0.8h-0.8zM59.9 296.9h0.8v0.8h-0.8zM65.0 297.3h0.8v0.8h-0.8zM59.9 295.3h0.8v0.8h-0.8zM68.8 296.8h0.8v0.8h-0.8zM62.7 298.9h0.8v0.8h-0.8zM58.1 296.9h0.8v0.8h-0.8zM58.2 299.5h0.8v0.8h-0.8zM60.5 297.2h0.8v0.8h-0.8zM60.7 297.2h0.8v0.8h-0.8zM64.4 297.0h0.8v0.8h-0.8zM62.5 297.4h0.8v0.8h-0.8zM62.7 296.1h0.8v0.8h-0.8zM65.4 298.5h0.8v0.8h-0.8zM59.4 295.2h0.8v0.8h-0.8zM61.1 297.5h0.8v0.8h-0.8zM59.3 299.8h0.8v0.8h-0.8zM63.6 297.3h0.8v0.8h-0.8zM66.1 295.6h0.8v0.8h-0.8zM64.6 297.7h0.8v0.8h-0.8zM67.4 295.1h0.8v0.8h-0.8zM67.6 298.1h0.8v0.8h-0.8zM64.2 298.9h0.8v0.8h-0.8zM62.7 296.6h0.8v0.8h-0.8zM66.0 296.4h0.8v0.8h-0.8zM66.7 299.5h0.8v0.8h-0.8zM64.1 297.3h0.8v0.8h-0.8zM61.5 295.3h0.8v0.8h-0.8zM67.8 295.1h0.8v0.8h-0.8zM63.7 297.5h0.8v0.8h-0.8zM60.8 295.8h0.8v0.8h-0.8zM61.4 300.8h0.8v0.8h-0.8zM64.6 299.5h0.8v0.8h-0.8zM69.6 298.8h0.8v0.8h-0.8zM67.4 296.2h0.8v0.8h-0.8zM61.4 299.6h0.8v0.8h-0.8zM67.9 295.2h0.8v0.8h-0.8zM66.9 297.5h0.8v0.8h-0.8zM65.9 298.7h0.8v0.8h-0.8zM69.2 295.9h0.8v0.8h-0.8zM63.5 299.3h0.8v0.8h-0.8zM62.8 298.0h0.8v0.8h-0.8zM63.3 294.0h0.8v0.8h-0.8zM61.9 298.6h0.8v0.8h-0.8zM61.9 294.3h0.8v0.8h-0.8zM62.0 297.2h0.8v0.8h-0.8zM65.0 297.6h0.8v0.8h-0.8zM65.1 295.1h0.8v0.8h-0.8zM61.7 295.6h0.8v0.8h-0.8zM62.2 297.8h0.8v0.8h-0.8zM67.5 296.6h0.8v0.8h-0.8zM66.7 299.0h0.8v0.8h-0.8zM60.1 295.6h0.8v0.8h-0.8zM64.0 294.6h0.8v0.8h-0.8zM69.2 293.7h0.8v0.8h-0.8zM59.9 298.4h0.8v0.8h-0.8zM61.3 298.3h0.8v0.8h-0.8zM60.6 298.9h0.8v0.8h-0.8zM61.8 298.3h0.8v0.8h-0.8zM66.6 294.4h0.8v0.8h-0.8zM60.9 293.9h0.8v0.8h-0.8zM60.3 298.7h0.8v0.8h-0.8zM63.5 298.6h0.8v0.8h-0.8zM67.8 298.9h0.8v0.8h-0.8zM65.7 296.3h0.8v0.8h-0.8zM62.4 297.6h0.8v0.8h-0.8zM66.2 299.0h0.8v0.8h-0.8zM64.5 296.5h0.8v0.8h-0.8zM63.4 300.0h0.8v0.8h-0.8zM64.4 300.6h0.8v0.8h-0.8zM61.5 298.6h0.8v0.8h-0.8zM64.2 298.4h0.8v0.8h-0.8zM61.3 297.7h0.8v0.8h-0.8zM63.4 296.6h0.8v0.8h-0.8zM60.0 294.5h0.8v0.8h-0.8zM62.6 298.0h0.8v0.8h-0.8zM64.4 297.5h0.8v0.8h-0.8zM64.6 294.6h0.8v0.8h-0.8zM66.8 297.2h0.8v0.8h-0.8zM61.4 296.1h0.8v0.8h-0.8zM66.6 297.4h0.8v0.8h-0.8zM58.6 300.8h0.8v0.8h-0.8zM59.2 300.1h0.8v0.8h-0.8zM66.1 295.3h0.8v0.8h-0.8zM67.3 299.3h0.8v0.8h-0.8zM66.7 298.2h0.8v0.8h-0.8zM64.6 297.5h0.8v0.8h-0.8zM62.0 297.6h0.8v0.8h-0.8zM67.4 296.9h0.8v0.8h-0.8zM69.5 294.3h0.8v0.8h-0.8zM63.7 294.4h0.8v0.8h-0.8zM58.4 297.5h0.8v0.8h-0.8zM62.6 296.1h0.8v0.8h-0.8zM60.5 296.7h0.8v0.8h-0.8zM58.8 296.7h0.8v0.8h-0.8zM62.0 294.8h0.8v0.8h-0.8zM64.9 293.7h0.8v0.8h-0.8zM64.9 297.6h0.8v0.8h-0.8zM65.2 297.3h0.8v0.8h-0.8zM66.0 296.6h0.8v0.8h-0.8zM60.4 297.8h0.8v0.8h-0.8zM61.3 296.4h0.8v0.8h-0.8zM64.0 295.4h0.8v0.8h-0.8zM66.6 294.3h0.8v0.8h-0.8zM67.3 297.0h0.8v0.8h-0.8zM68.7 299.1h0.8v0.8h-0.8zM65.6 297.6h0.8v0.8h-0.8zM64.0 294.6h0.8v0.8h-0.8zM62.0 295.4h0.8v0.8h-0.8zM61.5 296.8h0.8v0.8h-0.8zM61.3 297.3h0.8v0.8h-0.8zM62.9 296.2h0.8v0.8h-0.8zM64.8 297.9h0.8v0.8h-0.8zM59.6 296.5h0.8v0.8h-0.8zM72.4 297.1h0.8v0.8h-0.8zM65.0 295.5h0.8v0.8h-0.8zM66.5 299.8h0.8v0.8h-0.8zM65.4 296.8h0.8v0.8h-0.8zM63.7 293.7h0.8v0.8h-0.8zM65.4 296.5h0.8v0.8h-0.8zM64.8 297.7h0.8v0.8h-0.8zM64.3 300.8h0.8v0.8h-0.8zM66.4 295.9h0.8v0.8h-0.8zM65.4 298.2h0.8v0.8h-0.8zM63.7 299.6h0.8v0.8h-0.8zM62.5 293.9h0.8v0.8h-0.8zM60.4 297.8h0.8v0.8h-0.8zM60.7 297.3h0.8v0.8h-0.8zM59.1 297.8h0.8v0.8h-0.8zM62.9 295.4h0.8v0.8h-0.8zM62.0 296.6h0.8v0.8h-0.8zM66.3 297.5h0.8v0.8h-0.8zM63.0 297.4h0.8v0.8h-0.8zM66.3 297.9h0.8v0.8h-0.8zM68.8 295.8h0.8v0.8h-0.8zM66.1 297.3h0.8v0.8h-0.8zM61.7 298.1h0.8v0.8h-0.8zM66.1 298.8h0.8v0.8h-0.8zM65.1 295.5h0.8v0.8h-0.8zM64.1 297.8h0.8v0.8h-0.8zM68.6 297.3h0.8v0.8h-0.8zM64.1 299.9h0.8v0.8h-0.8zM63.8 296.3h0.8v0.8h-0.8zM64.5 298.5h0.8v0.8h-0.8zM64.1 294.1h0.8v0.8h-0.8zM62.4 298.9h0.8v0.8h-0.8zM61.4 298.6h0.8v0.8h-0.8zM64.1 295.7h0.8v0.8h-0.8zM66.0 293.2h0.8v0.8h-0.8zM57.4 294.3h0.8v0.8h-0.8zM65.2 296.6h0.8v0.8h-0.8zM65.5 296.9h0.8v0.8h-0.8zM64.0 296.1h0.8v0.8h-0.8zM62.4 298.8h0.8v0.8h-0.8zM65.9 294.7h0.8v0.8h-0.8zM65.3 300.7h0.8v0.8h-0.8zM65.9 295.4h0.8v0.8h-0.8zM65.8 297.5h0.8v0.8h-0.8zM62.7 298.8h0.8v0.8h-0.8zM67.3 296.1h0.8v0.8h-0.8zM64.0 296.4h0.8v0.8h-0.8zM63.6 299.9h0.8v0.8h-0.8zM62.3 298.1h0.8v0.8h-0.8zM64.4 297.2h0.8v0.8h-0.8zM60.3 298.2h0.8v0.8h-0.8zM60.4 298.4h0.8v0.8h-0.8zM63.4 297.3h0.8v0.8h-0.8zM62.3 295.6h0.8v0.8h-0.8zM60.6 297.1h0.8v0.8h-0.8zM63.4 297.6h0.8v0.8h-0.8zM62.8 298.4h0.8v0.8h-0.8zM64.1 297.3h0.8v0.8h-0.8zM62.9 297.0h0.8v0.8h-0.8zM65.6 295.8h0.8v0.8h-0.8zM60.1 297.8h0.8v0.8h-0.8zM64.9 297.1h0.8v0.8h-0.8zM64.3 294.8h0.8v0.8h-0.8zM60.7 297.1h0.8v0.8h-0.8zM63.5 294.9h0.8v0.8h-0.8zM65.0 293.7h0.8v0.8h-0.8zM67.3 295.2h0.8v0.8h-0.8zM62.0 295.2h0.8v0.8h-0.8zM59.6 296.5h0.8v0.8h-0.8zM58.0 296.5h0.8v0.8h-0.8zM64.1 296.5h0.8v0.8h-0.8zM63.6 294.5h0.8v0.8h-0.8zM58.2 294.7h0.8v0.8h-0.8zM66.7 297.6h0.8v0.8h-0.8zM58.3 300.1h0.8v0.8h-0.8zM65.5 299.0h0.8v0.8h-0.8zM66.6 299.4h0.8v0.8h-0.8zM58.6 297.2h0.8v0.8h-0.8zM61.3 300.5h0.8v0.8h-0.8zM65.6 297.1h0.8v0.8h-0.8zM62.9 293.3h0.8v0.8h-0.8zM63.9 295.6h0.8v0.8h-0.8zM67.6 298.4h0.8v0.8h-0.8zM63.4 296.4h0.8v0.8h-0.8zM66.9 296.1h0.8v0.8h-0.8zM66.9 297.4h0.8v0.8h-0.8zM62.8 297.7h0.8v0.8h-0.8zM68.8 294.2h0.8v0.8h-0.8zM65.8 298.4h0.8v0.8h-0.8zM62.8 299.7h0.8v0.8h-0.8zM65.6 298.0h0.8v0.8h-0.8zM60.6 298.1h0.8v0.8h-0.8zM59.8 298.0h0.8v0.8h-0.8zM70.0 295.5h0.8v0.8h-0.8zM68.2 295.1h0.8v0.8h-0.8zM63.8 298.3h0.8v0.8h-0.8zM59.3 297.6h0.8v0.8h-0.8zM61.3 296.0h0.8v0.8h-0.8zM66.1 296.9h0.8v0.8h-0.8zM64.8 297.1h0.8v0.8h-0.8zM64.7 299.8h0.8v0.8h-0.8zM64.0 296.6h0.8v0.8h-0.8zM63.7 298.3h0.8v0.8h-0.8zM65.0 293.3h0.8v0.8h-0.8zM63.4 297.8h0.8v0.8h-0.8zM71.3 296.0h0.8v0.8h-0.8zM62.8 295.0h0.8v0.8h-0.8zM63.4 293.9h0.8v0.8h-0.8zM61.1 296.9h0.8v0.8h-0.8zM59.1 296.6h0.8v0.8h-0.8zM61.6 299.3h0.8v0.8h-0.8zM68.3 300.8h0.8v0.8h-0.8zM64.0 298.3h0.8v0.8h-0.8zM70.6 295.9h0.8v0.8h-0.8zM68.6 295.4h0.8v0.8h-0.8zM66.7 294.3h0.8v0.8h-0.8zM62.4 296.7h0.8v0.8h-0.8zM62.8 293.6h0.8v0.8h-0.8zM64.0 296.5h0.8v0.8h-0.8zM68.0 298.1h0.8v0.8h-0.8zM57.2 297.3h0.8v0.8h-0.8zM66.8 296.9h0.8v0.8h-0.8zM61.5 294.6h0.8v0.8h-0.8zM62.5 295.4h0.8v0.8h-0.8zM62.8 296.5h0.8v0.8h-0.8zM67.4 295.3h0.8v0.8h-0.8zM64.6 295.1h0.8v0.8h-0.8zM64.4 298.9h0.8v0.8h-0.8zM61.9 294.9h0.8v0.8h-0.8zM63.7 297.1h0.8v0.8h-0.8zM61.7 297.8h0.8v0.8h-0.8zM63.8 298.3h0.8v0.8h-0.8zM59.5 298.4h0.8v0.8h-0.8zM67.4 295.6h0.8v0.8h-0.8zM69.5 297.5h0.8v0.8h-0.8zM59.7 295.2h0.8v0.8h-0.8zM61.4 295.9h0.8v0.8h-0.8zM62.9 297.6h0.8v0.8h-0.8zM63.0 296.5h0.8v0.8h-0.8zM60.7 293.4h0.8v0.8h-0.8zM61.5 294.9h0.8v0.8h-0.8zM66.2 292.7h0.8v0.8h-0.8zM67.0 292.0h0.8v0.8h-0.8zM63.0 297.1h0.8v0.8h-0.8zM60.3 295.3h0.8v0.8h-0.8zM66.2 295.1h0.8v0.8h-0.8zM63.3 297.1h0.8v0.8h-0.8zM65.5 294.8h0.8v0.8h-0.8zM67.5 296.8h0.8v0.8h-0.8zM66.6 294.5h0.8v0.8h-0.8zM66.8 296.9h0.8v0.8h-0.8zM65.9 295.9h0.8v0.8h-0.8zM66.2 297.1h0.8v0.8h-0.8zM57.9 301.5h0.8v0.8h-0.8zM61.6 297.9h0.8v0.8h-0.8zM63.0 296.2h0.8v0.8h-0.8zM62.5 298.7h0.8v0.8h-0.8zM66.4 298.7h0.8v0.8h-0.8zM58.7 298.5h0.8v0.8h-0.8zM59.1 301.2h0.8v0.8h-0.8zM64.7 299.1h0.8v0.8h-0.8zM63.6 297.3h0.8v0.8h-0.8zM61.5 300.6h0.8v0.8h-0.8zM62.6 299.0h0.8v0.8h-0.8zM61.2 296.8h0.8v0.8h-0.8zM62.4 296.9h0.8v0.8h-0.8zM62.1 298.2h0.8v0.8h-0.8zM65.6 294.2h0.8v0.8h-0.8zM62.3 294.7h0.8v0.8h-0.8z" fill="#2a2a2a" opacity="0.9"/>
</g></g>
<text x="111.60" y="285.30" font-size="7.3" font-weight="normal" text-anchor="middle" fill="#111" stroke="#111" stroke-width="0.2">Patient 2</text>
<rect x="88.1" y="289.4" width="46.099999999999994" height="41.30000000000001" fill="none" stroke="#444" stroke-width="0.7"/>
<line x1="107.20" y1="289.40" x2="107.20" y2="330.70" stroke="#444" stroke-width="0.7"/>
<line x1="88.10" y1="313.30" x2="134.20" y2="313.30" stroke="#444" stroke-width="0.7"/>
<rect x="82.90" y="288.40" width="2.60" height="1.80" fill="#8c8c8c"/>
<line x1="86.60" y1="289.40" x2="88.10" y2="289.40" stroke="#555" stroke-width="0.5"/>
<rect x="82.90" y="298.72" width="2.60" height="1.80" fill="#8c8c8c"/>
<line x1="86.60" y1="299.72" x2="88.10" y2="299.72" stroke="#555" stroke-width="0.5"/>
<rect x="82.90" y="309.05" width="2.60" height="1.80" fill="#8c8c8c"/>
<line x1="86.60" y1="310.05" x2="88.10" y2="310.05" stroke="#555" stroke-width="0.5"/>
<rect x="82.90" y="319.38" width="2.60" height="1.80" fill="#8c8c8c"/>
<line x1="86.60" y1="320.38" x2="88.10" y2="320.38" stroke="#555" stroke-width="0.5"/>
<rect x="82.90" y="329.70" width="2.60" height="1.80" fill="#8c8c8c"/>
<line x1="86.60" y1="330.70" x2="88.10" y2="330.70" stroke="#555" stroke-width="0.5"/>
<rect x="86.80" y="332.30" width="2.80" height="1.60" fill="#8c8c8c"/>
<line x1="88.10" y1="330.70" x2="88.10" y2="331.90" stroke="#555" stroke-width="0.5"/>
<rect x="98.33" y="332.30" width="2.80" height="1.60" fill="#8c8c8c"/>
<line x1="99.62" y1="330.70" x2="99.62" y2="331.90" stroke="#555" stroke-width="0.5"/>
<rect x="109.85" y="332.30" width="2.80" height="1.60" fill="#8c8c8c"/>
<line x1="111.15" y1="330.70" x2="111.15" y2="331.90" stroke="#555" stroke-width="0.5"/>
<rect x="121.37" y="332.30" width="2.80" height="1.60" fill="#8c8c8c"/>
<line x1="122.67" y1="330.70" x2="122.67" y2="331.90" stroke="#555" stroke-width="0.5"/>
<rect x="132.90" y="332.30" width="2.80" height="1.60" fill="#8c8c8c"/>
<line x1="134.20" y1="330.70" x2="134.20" y2="331.90" stroke="#555" stroke-width="0.5"/>
<rect x="80.90" y="307.40" width="1.40" height="9.50" fill="#a0a0a0"/>
<rect x="107.15" y="336.10" width="8.00" height="1.40" fill="#a0a0a0"/>
<g clip-path="url(#c2)"><g filter="url(#bl)">
<path d="M127.4 319.2h0.6v0.6h-0.6zM91.0 295.1h0.6v0.6h-0.6zM122.1 323.1h0.6v0.6h-0.6zM132.9 320.5h0.6v0.6h-0.6zM95.6 312.3h0.6v0.6h-0.6zM116.5 313.8h0.6v0.6h-0.6zM94.5 328.2h0.6v0.6h-0.6zM111.4 300.6h0.6v0.6h-0.6zM132.5 305.2h0.6v0.6h-0.6zM91.6 316.4h0.6v0.6h-0.6zM100.2 298.6h0.6v0.6h-0.6zM102.1 313.9h0.6v0.6h-0.6zM102.9 316.2h0.6v0.6h-0.6zM129.1 329.0h0.6v0.6h-0.6zM128.4 326.3h0.6v0.6h-0.6zM99.9 322.5h0.6v0.6h-0.6zM92.5 312.9h0.6v0.6h-0.6zM91.9 293.9h0.6v0.6h-0.6zM131.1 295.0h0.6v0.6h-0.6zM120.7 310.8h0.6v0.6h-0.6zM88.6 321.3h0.6v0.6h-0.6zM91.2 324.9h0.6v0.6h-0.6zM125.3 309.6h0.6v0.6h-0.6zM108.5 291.1h0.6v0.6h-0.6zM119.9 291.5h0.6v0.6h-0.6z" fill="#ccc" opacity="1.0"/>
<path d="M98.3 311.0h0.6v0.6h-0.6zM93.8 310.2h0.6v0.6h-0.6zM88.3 311.7h0.6v0.6h-0.6zM100.2 311.5h0.6v0.6h-0.6zM95.3 311.5h0.6v0.6h-0.6zM89.3 306.6h0.6v0.6h-0.6zM89.6 298.7h0.6v0.6h-0.6zM100.1 305.8h0.6v0.6h-0.6zM93.7 303.7h0.6v0.6h-0.6zM89.4 307.8h0.6v0.6h-0.6zM89.8 301.2h0.6v0.6h-0.6zM99.6 298.0h0.6v0.6h-0.6zM92.2 297.0h0.6v0.6h-0.6zM93.8 307.7h0.6v0.6h-0.6zM94.9 311.5h0.6v0.6h-0.6zM93.2 305.5h0.6v0.6h-0.6zM91.0 307.6h0.6v0.6h-0.6zM99.5 311.9h0.6v0.6h-0.6zM98.8 307.9h0.6v0.6h-0.6zM100.2 300.5h0.6v0.6h-0.6zM100.1 308.2h0.6v0.6h-0.6zM96.5 311.8h0.6v0.6h-0.6zM91.5 310.2h0.6v0.6h-0.6zM92.8 312.0h0.6v0.6h-0.6zM96.6 306.3h0.6v0.6h-0.6zM88.7 296.2h0.6v0.6h-0.6zM99.6 310.7h0.6v0.6h-0.6zM90.4 310.9h0.6v0.6h-0.6zM93.5 304.4h0.6v0.6h-0.6zM94.7 312.3h0.6v0.6h-0.6zM89.9 303.5h0.6v0.6h-0.6zM93.3 307.9h0.6v0.6h-0.6zM93.0 308.1h0.6v0.6h-0.6zM90.8 302.8h0.6v0.6h-0.6zM96.9 307.9h0.6v0.6h-0.6zM94.0 311.4h0.6v0.6h-0.6zM96.2 309.3h0.6v0.6h-0.6zM97.4 311.5h0.6v0.6h-0.6zM91.7 302.8h0.6v0.6h-0.6zM93.8 305.9h0.6v0.6h-0.6zM99.5 306.8h0.6v0.6h-0.6zM100.3 309.6h0.6v0.6h-0.6zM95.0 304.3h0.6v0.6h-0.6zM98.3 307.3h0.6v0.6h-0.6zM93.8 310.4h0.6v0.6h-0.6zM95.1 306.8h0.6v0.6h-0.6zM96.2 304.5h0.6v0.6h-0.6zM88.4 307.6h0.6v0.6h-0.6zM94.2 311.6h0.6v0.6h-0.6zM98.3 307.7h0.6v0.6h-0.6zM90.1 307.1h0.6v0.6h-0.6zM95.7 309.0h0.6v0.6h-0.6zM96.6 303.5h0.6v0.6h-0.6zM99.8 302.3h0.6v0.6h-0.6zM98.7 311.3h0.6v0.6h-0.6zM94.9 305.7h0.6v0.6h-0.6zM91.7 311.5h0.6v0.6h-0.6zM98.0 301.9h0.6v0.6h-0.6zM93.1 311.5h0.6v0.6h-0.6zM97.0 311.0h0.6v0.6h-0.6zM100.2 305.4h0.6v0.6h-0.6zM95.3 307.2h0.6v0.6h-0.6zM92.3 307.6h0.6v0.6h-0.6zM97.9 311.9h0.6v0.6h-0.6zM99.5 311.3h0.6v0.6h-0.6zM94.0 309.0h0.6v0.6h-0.6zM88.6 301.8h0.6v0.6h-0.6zM99.5 306.1h0.6v0.6h-0.6zM93.4 305.2h0.6v0.6h-0.6zM95.6 308.0h0.6v0.6h-0.6zM94.8 306.2h0.6v0.6h-0.6zM90.0 308.1h0.6v0.6h-0.6zM89.2 307.7h0.6v0.6h-0.6zM90.3 310.9h0.6v0.6h-0.6zM94.3 306.6h0.6v0.6h-0.6zM93.9 305.2h0.6v0.6h-0.6zM99.8 297.6h0.6v0.6h-0.6zM91.1 311.7h0.6v0.6h-0.6zM97.8 308.6h0.6v0.6h-0.6zM99.7 310.6h0.6v0.6h-0.6zM103.4 311.9h0.6v0.6h-0.6zM101.4 308.8h0.6v0.6h-0.6zM98.1 312.0h0.6v0.6h-0.6zM98.5 308.7h0.6v0.6h-0.6zM99.5 307.1h0.6v0.6h-0.6zM100.6 311.5h0.6v0.6h-0.6zM95.3 309.4h0.6v0.6h-0.6zM90.9 301.5h0.6v0.6h-0.6zM90.5 305.0h0.6v0.6h-0.6zM92.3 307.3h0.6v0.6h-0.6zM97.3 304.3h0.6v0.6h-0.6zM96.1 307.1h0.6v0.6h-0.6zM104.2 309.7h0.6v0.6h-0.6zM91.6 309.5h0.6v0.6h-0.6zM92.3 311.6h0.6v0.6h-0.6zM102.4 305.8h0.6v0.6h-0.6zM88.3 311.8h0.6v0.6h-0.6zM96.5 304.2h0.6v0.6h-0.6zM96.1 312.2h0.6v0.6h-0.6zM97.1 311.5h0.6v0.6h-0.6zM90.3 310.5h0.6v0.6h-0.6zM94.7 311.4h0.6v0.6h-0.6zM94.0 307.7h0.6v0.6h-0.6zM98.9 306.9h0.6v0.6h-0.6zM100.0 302.0h0.6v0.6h-0.6zM98.6 309.8h0.6v0.6h-0.6zM92.3 305.0h0.6v0.6h-0.6zM97.2 308.5h0.6v0.6h-0.6zM95.1 308.5h0.6v0.6h-0.6zM88.6 303.1h0.6v0.6h-0.6zM101.7 309.9h0.6v0.6h-0.6zM100.7 310.7h0.6v0.6h-0.6zM101.8 308.8h0.6v0.6h-0.6zM91.4 310.6h0.6v0.6h-0.6zM104.2 311.3h0.6v0.6h-0.6zM89.0 310.2h0.6v0.6h-0.6zM102.1 311.4h0.6v0.6h-0.6zM99.6 301.0h0.6v0.6h-0.6zM93.5 311.5h0.6v0.6h-0.6zM101.4 305.2h0.6v0.6h-0.6zM93.2 311.7h0.6v0.6h-0.6zM96.9 311.7h0.6v0.6h-0.6zM100.1 302.8h0.6v0.6h-0.6zM98.7 311.9h0.6v0.6h-0.6zM98.9 312.0h0.6v0.6h-0.6zM102.0 305.9h0.6v0.6h-0.6zM96.9 306.2h0.6v0.6h-0.6zM97.3 311.8h0.6v0.6h-0.6zM96.7 304.2h0.6v0.6h-0.6zM99.3 307.4h0.6v0.6h-0.6zM92.4 311.3h0.6v0.6h-0.6zM92.3 309.7h0.6v0.6h-0.6zM98.7 304.8h0.6v0.6h-0.6zM95.4 311.3h0.6v0.6h-0.6zM92.8 308.1h0.6v0.6h-0.6zM95.6 312.2h0.6v0.6h-0.6zM94.2 310.5h0.6v0.6h-0.6zM99.1 311.3h0.6v0.6h-0.6zM101.8 310.0h0.6v0.6h-0.6zM99.1 310.7h0.6v0.6h-0.6zM94.0 312.0h0.6v0.6h-0.6zM97.5 309.1h0.6v0.6h-0.6zM96.6 311.3h0.6v0.6h-0.6zM89.8 300.1h0.6v0.6h-0.6zM93.9 307.0h0.6v0.6h-0.6zM99.1 310.0h0.6v0.6h-0.6zM96.1 311.8h0.6v0.6h-0.6zM98.2 305.8h0.6v0.6h-0.6zM102.3 305.7h0.6v0.6h-0.6zM90.6 310.7h0.6v0.6h-0.6zM93.9 300.4h0.6v0.6h-0.6zM89.0 297.2h0.6v0.6h-0.6zM89.1 312.1h0.6v0.6h-0.6zM100.0 299.9h0.6v0.6h-0.6zM96.2 310.7h0.6v0.6h-0.6zM96.4 310.6h0.6v0.6h-0.6zM96.0 310.8h0.6v0.6h-0.6zM91.5 307.3h0.6v0.6h-0.6zM89.0 305.8h0.6v0.6h-0.6zM97.1 311.2h0.6v0.6h-0.6zM96.5 312.2h0.6v0.6h-0.6zM94.7 311.4h0.6v0.6h-0.6zM97.3 311.5h0.6v0.6h-0.6zM98.3 300.8h0.6v0.6h-0.6zM95.3 301.0h0.6v0.6h-0.6zM90.8 311.5h0.6v0.6h-0.6zM89.1 309.0h0.6v0.6h-0.6zM93.4 308.4h0.6v0.6h-0.6zM92.3 306.0h0.6v0.6h-0.6zM93.0 308.1h0.6v0.6h-0.6zM96.8 302.7h0.6v0.6h-0.6zM95.1 305.3h0.6v0.6h-0.6zM89.2 311.7h0.6v0.6h-0.6zM100.6 306.9h0.6v0.6h-0.6zM99.1 305.7h0.6v0.6h-0.6zM100.5 309.6h0.6v0.6h-0.6zM92.7 312.3h0.6v0.6h-0.6zM94.8 311.8h0.6v0.6h-0.6zM96.3 303.3h0.6v0.6h-0.6zM94.5 312.3h0.6v0.6h-0.6zM98.7 305.1h0.6v0.6h-0.6zM103.7 311.6h0.6v0.6h-0.6zM91.4 305.4h0.6v0.6h-0.6zM92.0 308.2h0.6v0.6h-0.6zM91.7 306.5h0.6v0.6h-0.6zM104.4 310.2h0.6v0.6h-0.6zM93.4 310.7h0.6v0.6h-0.6zM91.7 305.1h0.6v0.6h-0.6zM92.3 312.0h0.6v0.6h-0.6zM97.1 302.1h0.6v0.6h-0.6zM96.7 301.8h0.6v0.6h-0.6zM93.3 298.9h0.6v0.6h-0.6zM92.9 310.9h0.6v0.6h-0.6zM90.6 300.4h0.6v0.6h-0.6zM100.2 308.9h0.6v0.6h-0.6zM100.0 312.0h0.6v0.6h-0.6zM97.3 312.0h0.6v0.6h-0.6zM98.9 310.8h0.6v0.6h-0.6zM89.7 311.3h0.6v0.6h-0.6zM95.7 308.7h0.6v0.6h-0.6zM96.7 309.9h0.6v0.6h-0.6zM94.1 308.0h0.6v0.6h-0.6zM89.9 310.3h0.6v0.6h-0.6zM91.6 306.6h0.6v0.6h-0.6zM99.9 301.6h0.6v0.6h-0.6zM88.8 306.0h0.6v0.6h-0.6zM92.5 303.8h0.6v0.6h-0.6zM101.9 311.1h0.6v0.6h-0.6zM101.6 303.8h0.6v0.6h-0.6zM93.2 312.1h0.6v0.6h-0.6zM102.0 304.6h0.6v0.6h-0.6zM103.5 309.9h0.6v0.6h-0.6zM103.9 309.4h0.6v0.6h-0.6zM91.4 309.7h0.6v0.6h-0.6zM106.7 311.3h0.6v0.6h-0.6zM97.7 305.1h0.6v0.6h-0.6zM89.7 307.6h0.6v0.6h-0.6zM104.9 311.9h0.6v0.6h-0.6zM98.6 299.3h0.6v0.6h-0.6zM92.3 299.8h0.6v0.6h-0.6zM90.2 300.9h0.6v0.6h-0.6zM89.5 308.8h0.6v0.6h-0.6zM93.0 309.3h0.6v0.6h-0.6zM100.5 308.6h0.6v0.6h-0.6zM94.4 303.0h0.6v0.6h-0.6zM96.0 310.2h0.6v0.6h-0.6zM90.7 312.2h0.6v0.6h-0.6zM96.7 304.8h0.6v0.6h-0.6zM91.7 310.6h0.6v0.6h-0.6zM92.0 309.7h0.6v0.6h-0.6z" fill="#888" opacity="1.0"/>
<path d="M124.5 302.1h0.6v0.6h-0.6zM115.3 300.8h0.6v0.6h-0.6zM120.7 299.6h0.6v0.6h-0.6zM110.8 300.3h0.6v0.6h-0.6zM114.7 298.9h0.6v0.6h-0.6zM126.9 299.6h0.6v0.6h-0.6zM109.4 301.5h0.6v0.6h-0.6zM121.8 297.2h0.6v0.6h-0.6zM116.3 297.5h0.6v0.6h-0.6zM117.9 302.8h0.6v0.6h-0.6zM129.8 298.9h0.6v0.6h-0.6zM117.3 303.4h0.6v0.6h-0.6zM115.3 302.1h0.6v0.6h-0.6zM113.3 308.5h0.6v0.6h-0.6zM112.3 301.6h0.6v0.6h-0.6zM124.8 302.3h0.6v0.6h-0.6zM124.6 302.2h0.6v0.6h-0.6zM116.7 301.5h0.6v0.6h-0.6zM121.0 300.2h0.6v0.6h-0.6zM121.1 298.8h0.6v0.6h-0.6zM112.4 303.5h0.6v0.6h-0.6zM117.6 304.2h0.6v0.6h-0.6zM126.1 298.4h0.6v0.6h-0.6zM124.9 300.7h0.6v0.6h-0.6zM118.7 294.7h0.6v0.6h-0.6zM114.4 298.9h0.6v0.6h-0.6zM113.6 296.2h0.6v0.6h-0.6zM108.0 299.9h0.6v0.6h-0.6zM118.5 302.0h0.6v0.6h-0.6zM109.3 295.1h0.6v0.6h-0.6zM126.9 299.2h0.6v0.6h-0.6zM116.1 302.4h0.6v0.6h-0.6zM111.0 299.0h0.6v0.6h-0.6zM120.7 300.8h0.6v0.6h-0.6zM120.9 298.4h0.6v0.6h-0.6zM124.1 295.4h0.6v0.6h-0.6zM117.2 299.4h0.6v0.6h-0.6zM114.7 302.0h0.6v0.6h-0.6zM122.5 304.2h0.6v0.6h-0.6zM110.3 298.0h0.6v0.6h-0.6zM107.7 296.1h0.6v0.6h-0.6zM110.2 299.1h0.6v0.6h-0.6zM112.2 300.3h0.6v0.6h-0.6zM123.6 298.7h0.6v0.6h-0.6zM114.3 299.5h0.6v0.6h-0.6zM115.5 298.9h0.6v0.6h-0.6zM113.1 299.8h0.6v0.6h-0.6zM113.7 300.7h0.6v0.6h-0.6zM117.4 302.5h0.6v0.6h-0.6zM119.3 301.0h0.6v0.6h-0.6zM116.1 298.2h0.6v0.6h-0.6zM119.4 297.1h0.6v0.6h-0.6zM118.5 304.2h0.6v0.6h-0.6zM113.1 301.4h0.6v0.6h-0.6zM119.6 299.5h0.6v0.6h-0.6zM121.9 298.2h0.6v0.6h-0.6zM110.4 301.0h0.6v0.6h-0.6zM118.9 300.4h0.6v0.6h-0.6zM121.1 296.5h0.6v0.6h-0.6zM112.3 304.6h0.6v0.6h-0.6zM115.1 302.4h0.6v0.6h-0.6zM118.6 294.2h0.6v0.6h-0.6zM113.8 307.3h0.6v0.6h-0.6zM117.5 301.6h0.6v0.6h-0.6zM110.1 299.2h0.6v0.6h-0.6zM111.1 298.7h0.6v0.6h-0.6zM117.2 297.4h0.6v0.6h-0.6zM109.6 301.2h0.6v0.6h-0.6zM119.5 298.1h0.6v0.6h-0.6zM113.0 302.0h0.6v0.6h-0.6zM115.8 302.8h0.6v0.6h-0.6zM119.9 298.7h0.6v0.6h-0.6zM121.6 294.4h0.6v0.6h-0.6zM111.9 299.7h0.6v0.6h-0.6zM121.2 301.9h0.6v0.6h-0.6zM119.2 297.2h0.6v0.6h-0.6zM116.2 304.8h0.6v0.6h-0.6zM120.0 302.5h0.6v0.6h-0.6zM117.1 296.2h0.6v0.6h-0.6zM114.7 303.1h0.6v0.6h-0.6zM112.7 303.1h0.6v0.6h-0.6zM119.0 294.7h0.6v0.6h-0.6zM116.9 298.1h0.6v0.6h-0.6zM115.6 303.6h0.6v0.6h-0.6zM109.6 295.0h0.6v0.6h-0.6zM114.9 299.9h0.6v0.6h-0.6zM117.9 299.9h0.6v0.6h-0.6zM112.2 298.9h0.6v0.6h-0.6zM127.1 300.9h0.6v0.6h-0.6zM120.7 300.5h0.6v0.6h-0.6zM117.7 295.3h0.6v0.6h-0.6zM119.0 306.5h0.6v0.6h-0.6zM107.7 301.2h0.6v0.6h-0.6zM110.1 301.4h0.6v0.6h-0.6zM118.2 299.2h0.6v0.6h-0.6zM110.4 298.0h0.6v0.6h-0.6zM123.1 298.7h0.6v0.6h-0.6zM116.3 301.0h0.6v0.6h-0.6zM113.7 298.9h0.6v0.6h-0.6zM109.0 305.2h0.6v0.6h-0.6zM117.9 301.2h0.6v0.6h-0.6zM113.6 296.6h0.6v0.6h-0.6zM120.2 298.1h0.6v0.6h-0.6zM116.8 296.6h0.6v0.6h-0.6zM127.7 299.3h0.6v0.6h-0.6zM118.2 302.0h0.6v0.6h-0.6zM110.9 300.0h0.6v0.6h-0.6zM110.1 297.2h0.6v0.6h-0.6zM120.8 302.8h0.6v0.6h-0.6zM118.8 296.9h0.6v0.6h-0.6zM116.0 301.6h0.6v0.6h-0.6zM114.5 298.6h0.6v0.6h-0.6zM117.5 301.8h0.6v0.6h-0.6zM113.4 295.2h0.6v0.6h-0.6zM113.8 299.1h0.6v0.6h-0.6zM115.4 300.3h0.6v0.6h-0.6zM122.1 299.4h0.6v0.6h-0.6zM118.5 297.7h0.6v0.6h-0.6zM116.0 301.0h0.6v0.6h-0.6zM110.7 302.3h0.6v0.6h-0.6zM112.3 298.7h0.6v0.6h-0.6zM119.3 301.1h0.6v0.6h-0.6zM116.9 297.8h0.6v0.6h-0.6zM126.0 299.2h0.6v0.6h-0.6zM116.7 299.7h0.6v0.6h-0.6zM117.2 298.8h0.6v0.6h-0.6zM113.6 296.6h0.6v0.6h-0.6zM110.9 301.4h0.6v0.6h-0.6zM124.8 300.0h0.6v0.6h-0.6zM117.2 298.8h0.6v0.6h-0.6zM114.6 304.8h0.6v0.6h-0.6zM117.4 301.0h0.6v0.6h-0.6zM121.6 291.5h0.6v0.6h-0.6zM119.8 299.4h0.6v0.6h-0.6zM117.0 299.8h0.6v0.6h-0.6zM119.8 301.2h0.6v0.6h-0.6zM124.6 298.3h0.6v0.6h-0.6zM118.6 302.1h0.6v0.6h-0.6zM113.7 299.0h0.6v0.6h-0.6zM119.5 300.1h0.6v0.6h-0.6zM116.1 300.2h0.6v0.6h-0.6zM129.8 298.3h0.6v0.6h-0.6zM111.2 300.0h0.6v0.6h-0.6zM107.6 297.7h0.6v0.6h-0.6zM120.4 298.9h0.6v0.6h-0.6zM111.3 307.7h0.6v0.6h-0.6zM109.0 299.5h0.6v0.6h-0.6zM120.6 301.1h0.6v0.6h-0.6zM114.6 297.9h0.6v0.6h-0.6zM121.4 299.0h0.6v0.6h-0.6zM108.6 297.5h0.6v0.6h-0.6zM113.5 303.5h0.6v0.6h-0.6zM115.6 294.7h0.6v0.6h-0.6zM114.6 301.8h0.6v0.6h-0.6zM111.8 298.0h0.6v0.6h-0.6zM110.1 300.1h0.6v0.6h-0.6zM116.6 297.9h0.6v0.6h-0.6zM117.1 300.9h0.6v0.6h-0.6zM113.1 299.3h0.6v0.6h-0.6zM119.6 298.7h0.6v0.6h-0.6zM108.4 301.0h0.6v0.6h-0.6zM116.1 300.6h0.6v0.6h-0.6zM117.4 303.8h0.6v0.6h-0.6zM109.5 305.0h0.6v0.6h-0.6zM118.9 301.5h0.6v0.6h-0.6zM112.0 299.6h0.6v0.6h-0.6zM115.8 300.8h0.6v0.6h-0.6zM108.2 299.3h0.6v0.6h-0.6zM113.1 297.7h0.6v0.6h-0.6zM113.8 301.2h0.6v0.6h-0.6zM121.2 301.3h0.6v0.6h-0.6zM107.8 298.4h0.6v0.6h-0.6zM117.6 299.8h0.6v0.6h-0.6zM120.5 298.0h0.6v0.6h-0.6zM114.9 293.8h0.6v0.6h-0.6zM115.9 301.2h0.6v0.6h-0.6zM117.3 297.2h0.6v0.6h-0.6zM116.3 299.5h0.6v0.6h-0.6zM111.8 298.0h0.6v0.6h-0.6zM117.3 301.3h0.6v0.6h-0.6zM126.1 296.8h0.6v0.6h-0.6zM114.9 301.8h0.6v0.6h-0.6zM114.1 301.7h0.6v0.6h-0.6zM121.2 299.8h0.6v0.6h-0.6zM109.9 298.3h0.6v0.6h-0.6zM112.5 303.4h0.6v0.6h-0.6zM113.9 300.2h0.6v0.6h-0.6zM119.4 298.5h0.6v0.6h-0.6zM113.2 293.3h0.6v0.6h-0.6zM120.6 303.6h0.6v0.6h-0.6zM117.3 297.0h0.6v0.6h-0.6zM118.9 298.7h0.6v0.6h-0.6zM110.6 301.8h0.6v0.6h-0.6zM108.7 299.9h0.6v0.6h-0.6zM115.7 295.1h0.6v0.6h-0.6zM116.7 297.6h0.6v0.6h-0.6zM111.4 295.4h0.6v0.6h-0.6zM116.4 297.7h0.6v0.6h-0.6zM115.7 299.4h0.6v0.6h-0.6zM123.6 298.8h0.6v0.6h-0.6zM116.7 303.3h0.6v0.6h-0.6zM114.0 302.8h0.6v0.6h-0.6zM118.8 294.1h0.6v0.6h-0.6zM123.8 299.0h0.6v0.6h-0.6zM110.7 298.7h0.6v0.6h-0.6zM117.3 300.1h0.6v0.6h-0.6zM126.9 294.6h0.6v0.6h-0.6zM118.0 297.9h0.6v0.6h-0.6zM114.2 298.2h0.6v0.6h-0.6zM112.6 303.9h0.6v0.6h-0.6zM117.2 299.3h0.6v0.6h-0.6zM117.9 295.2h0.6v0.6h-0.6zM115.6 298.0h0.6v0.6h-0.6zM111.6 303.2h0.6v0.6h-0.6zM117.4 301.1h0.6v0.6h-0.6zM113.5 299.7h0.6v0.6h-0.6zM116.3 301.1h0.6v0.6h-0.6zM117.0 300.8h0.6v0.6h-0.6zM112.6 300.8h0.6v0.6h-0.6zM118.5 300.9h0.6v0.6h-0.6zM114.9 300.1h0.6v0.6h-0.6zM116.1 300.3h0.6v0.6h-0.6zM116.3 298.1h0.6v0.6h-0.6zM113.8 299.8h0.6v0.6h-0.6zM111.0 292.6h0.6v0.6h-0.6zM115.9 298.4h0.6v0.6h-0.6zM117.5 301.1h0.6v0.6h-0.6zM118.1 298.7h0.6v0.6h-0.6zM117.2 294.7h0.6v0.6h-0.6zM119.1 297.0h0.6v0.6h-0.6zM112.5 300.8h0.6v0.6h-0.6zM113.2 296.9h0.6v0.6h-0.6zM115.0 296.6h0.6v0.6h-0.6zM120.2 296.3h0.6v0.6h-0.6zM115.8 302.4h0.6v0.6h-0.6zM117.7 305.7h0.6v0.6h-0.6zM121.3 300.3h0.6v0.6h-0.6zM110.3 301.1h0.6v0.6h-0.6zM122.4 302.0h0.6v0.6h-0.6zM119.2 301.2h0.6v0.6h-0.6zM115.7 300.5h0.6v0.6h-0.6zM118.3 299.5h0.6v0.6h-0.6zM122.7 297.1h0.6v0.6h-0.6zM122.6 297.9h0.6v0.6h-0.6zM111.3 298.6h0.6v0.6h-0.6zM112.2 298.7h0.6v0.6h-0.6zM119.5 302.8h0.6v0.6h-0.6zM120.2 292.1h0.6v0.6h-0.6zM122.2 297.4h0.6v0.6h-0.6zM118.3 302.9h0.6v0.6h-0.6zM121.7 304.2h0.6v0.6h-0.6zM116.7 296.8h0.6v0.6h-0.6zM111.8 304.8h0.6v0.6h-0.6zM114.6 299.9h0.6v0.6h-0.6zM113.9 296.9h0.6v0.6h-0.6zM123.8 303.2h0.6v0.6h-0.6zM117.3 301.3h0.6v0.6h-0.6zM112.8 299.1h0.6v0.6h-0.6zM113.8 302.2h0.6v0.6h-0.6zM122.5 297.9h0.6v0.6h-0.6zM107.9 301.7h0.6v0.6h-0.6zM126.5 296.7h0.6v0.6h-0.6zM125.4 300.3h0.6v0.6h-0.6zM117.8 295.1h0.6v0.6h-0.6zM115.5 295.4h0.6v0.6h-0.6zM119.6 305.7h0.6v0.6h-0.6zM117.5 297.5h0.6v0.6h-0.6zM113.3 299.1h0.6v0.6h-0.6zM117.1 303.4h0.6v0.6h-0.6zM116.9 299.8h0.6v0.6h-0.6zM111.4 296.9h0.6v0.6h-0.6zM117.5 299.1h0.6v0.6h-0.6zM115.6 300.8h0.6v0.6h-0.6zM124.3 296.9h0.6v0.6h-0.6zM119.7 302.1h0.6v0.6h-0.6zM113.9 295.9h0.6v0.6h-0.6zM110.3 299.9h0.6v0.6h-0.6zM116.9 300.5h0.6v0.6h-0.6zM119.8 302.3h0.6v0.6h-0.6zM122.9 304.1h0.6v0.6h-0.6zM116.3 299.9h0.6v0.6h-0.6zM112.0 296.2h0.6v0.6h-0.6zM116.3 296.5h0.6v0.6h-0.6zM123.0 297.4h0.6v0.6h-0.6zM124.6 297.5h0.6v0.6h-0.6zM115.7 302.4h0.6v0.6h-0.6zM118.4 303.3h0.6v0.6h-0.6zM112.3 301.5h0.6v0.6h-0.6zM114.4 300.8h0.6v0.6h-0.6zM109.7 297.1h0.6v0.6h-0.6zM115.0 300.7h0.6v0.6h-0.6zM111.3 296.9h0.6v0.6h-0.6z" fill="#777" opacity="0.8"/>
<path d="M102.9 312.3h0.7v0.7h-0.7zM93.0 314.0h0.7v0.7h-0.7zM90.1 313.3h0.7v0.7h-0.7zM94.2 309.5h0.7v0.7h-0.7zM95.8 314.3h0.7v0.7h-0.7zM94.5 312.2h0.7v0.7h-0.7zM94.2 313.9h0.7v0.7h-0.7zM103.8 313.0h0.7v0.7h-0.7zM90.8 311.5h0.7v0.7h-0.7zM88.9 310.8h0.7v0.7h-0.7zM101.6 311.8h0.7v0.7h-0.7zM91.8 313.1h0.7v0.7h-0.7zM93.2 313.3h0.7v0.7h-0.7zM90.5 311.3h0.7v0.7h-0.7zM91.6 312.3h0.7v0.7h-0.7zM97.7 313.4h0.7v0.7h-0.7zM88.6 313.0h0.7v0.7h-0.7zM91.2 313.3h0.7v0.7h-0.7zM98.6 312.3h0.7v0.7h-0.7zM94.9 310.4h0.7v0.7h-0.7zM89.7 313.8h0.7v0.7h-0.7zM100.1 311.4h0.7v0.7h-0.7zM95.5 313.6h0.7v0.7h-0.7zM94.5 312.7h0.7v0.7h-0.7zM90.4 312.8h0.7v0.7h-0.7zM99.2 312.4h0.7v0.7h-0.7zM91.9 312.5h0.7v0.7h-0.7zM89.2 310.0h0.7v0.7h-0.7zM99.3 313.1h0.7v0.7h-0.7zM102.5 313.1h0.7v0.7h-0.7zM94.0 313.8h0.7v0.7h-0.7zM105.1 312.4h0.7v0.7h-0.7zM94.9 312.7h0.7v0.7h-0.7zM90.7 310.4h0.7v0.7h-0.7zM96.2 313.2h0.7v0.7h-0.7zM92.5 314.1h0.7v0.7h-0.7zM89.2 312.7h0.7v0.7h-0.7zM89.9 310.5h0.7v0.7h-0.7zM100.6 313.5h0.7v0.7h-0.7zM103.8 312.4h0.7v0.7h-0.7zM95.0 313.0h0.7v0.7h-0.7zM90.1 310.7h0.7v0.7h-0.7zM101.1 313.6h0.7v0.7h-0.7zM98.5 313.6h0.7v0.7h-0.7zM91.7 310.9h0.7v0.7h-0.7zM100.0 314.2h0.7v0.7h-0.7zM96.7 312.6h0.7v0.7h-0.7zM95.5 313.2h0.7v0.7h-0.7zM99.4 313.8h0.7v0.7h-0.7zM92.7 312.7h0.7v0.7h-0.7zM93.9 313.1h0.7v0.7h-0.7zM91.9 313.3h0.7v0.7h-0.7zM88.5 312.3h0.7v0.7h-0.7zM94.9 314.1h0.7v0.7h-0.7zM99.2 313.1h0.7v0.7h-0.7zM94.5 312.0h0.7v0.7h-0.7zM97.5 313.9h0.7v0.7h-0.7zM89.4 312.5h0.7v0.7h-0.7zM94.7 312.0h0.7v0.7h-0.7zM94.2 314.2h0.7v0.7h-0.7zM93.5 310.8h0.7v0.7h-0.7zM89.0 313.2h0.7v0.7h-0.7zM97.7 309.6h0.7v0.7h-0.7zM96.2 313.3h0.7v0.7h-0.7zM91.9 310.0h0.7v0.7h-0.7zM95.2 314.2h0.7v0.7h-0.7zM103.2 312.2h0.7v0.7h-0.7zM103.6 313.7h0.7v0.7h-0.7zM98.3 314.2h0.7v0.7h-0.7zM92.8 314.1h0.7v0.7h-0.7zM92.9 313.7h0.7v0.7h-0.7zM90.5 309.6h0.7v0.7h-0.7zM94.0 312.8h0.7v0.7h-0.7zM99.2 311.0h0.7v0.7h-0.7zM90.5 314.1h0.7v0.7h-0.7zM99.8 314.2h0.7v0.7h-0.7zM98.6 313.3h0.7v0.7h-0.7zM91.7 312.3h0.7v0.7h-0.7zM88.5 313.7h0.7v0.7h-0.7zM103.1 313.0h0.7v0.7h-0.7zM103.4 312.9h0.7v0.7h-0.7zM101.9 313.2h0.7v0.7h-0.7zM90.2 313.6h0.7v0.7h-0.7zM104.3 313.0h0.7v0.7h-0.7zM96.2 314.2h0.7v0.7h-0.7zM89.7 314.0h0.7v0.7h-0.7zM95.0 310.9h0.7v0.7h-0.7zM90.2 313.1h0.7v0.7h-0.7zM94.1 313.7h0.7v0.7h-0.7zM91.8 313.9h0.7v0.7h-0.7zM97.8 313.3h0.7v0.7h-0.7zM91.7 313.2h0.7v0.7h-0.7zM104.8 313.8h0.7v0.7h-0.7zM97.3 314.2h0.7v0.7h-0.7zM103.2 312.4h0.7v0.7h-0.7zM92.2 314.0h0.7v0.7h-0.7zM93.2 314.2h0.7v0.7h-0.7zM101.8 311.6h0.7v0.7h-0.7zM102.9 313.4h0.7v0.7h-0.7zM102.4 313.6h0.7v0.7h-0.7zM91.6 311.6h0.7v0.7h-0.7zM88.9 314.0h0.7v0.7h-0.7zM104.1 314.2h0.7v0.7h-0.7zM98.3 311.0h0.7v0.7h-0.7zM89.3 313.6h0.7v0.7h-0.7zM88.6 313.6h0.7v0.7h-0.7zM100.1 313.2h0.7v0.7h-0.7zM91.0 312.7h0.7v0.7h-0.7zM96.8 313.1h0.7v0.7h-0.7zM97.2 313.8h0.7v0.7h-0.7zM95.4 313.9h0.7v0.7h-0.7zM95.3 313.5h0.7v0.7h-0.7zM91.6 311.0h0.7v0.7h-0.7zM96.5 311.4h0.7v0.7h-0.7zM93.7 314.2h0.7v0.7h-0.7zM90.3 312.1h0.7v0.7h-0.7zM88.3 313.0h0.7v0.7h-0.7zM91.8 312.9h0.7v0.7h-0.7zM89.4 312.2h0.7v0.7h-0.7zM95.3 312.5h0.7v0.7h-0.7zM91.3 314.0h0.7v0.7h-0.7zM92.9 311.3h0.7v0.7h-0.7zM96.0 312.0h0.7v0.7h-0.7zM90.7 312.9h0.7v0.7h-0.7zM99.6 312.4h0.7v0.7h-0.7zM90.7 313.9h0.7v0.7h-0.7zM95.7 312.0h0.7v0.7h-0.7zM91.9 313.9h0.7v0.7h-0.7zM101.8 312.8h0.7v0.7h-0.7zM94.2 313.4h0.7v0.7h-0.7zM93.3 313.7h0.7v0.7h-0.7zM94.9 313.8h0.7v0.7h-0.7zM102.7 311.4h0.7v0.7h-0.7zM88.6 311.4h0.7v0.7h-0.7zM88.6 313.4h0.7v0.7h-0.7zM93.7 311.8h0.7v0.7h-0.7zM98.4 311.9h0.7v0.7h-0.7zM90.8 310.9h0.7v0.7h-0.7zM97.3 314.0h0.7v0.7h-0.7zM94.3 311.2h0.7v0.7h-0.7zM97.9 314.1h0.7v0.7h-0.7zM102.7 313.3h0.7v0.7h-0.7zM93.0 313.4h0.7v0.7h-0.7zM104.4 310.9h0.7v0.7h-0.7zM94.5 313.5h0.7v0.7h-0.7zM103.7 314.2h0.7v0.7h-0.7zM102.1 311.5h0.7v0.7h-0.7zM97.2 313.7h0.7v0.7h-0.7zM96.0 314.1h0.7v0.7h-0.7zM100.8 312.1h0.7v0.7h-0.7zM102.6 313.9h0.7v0.7h-0.7zM96.3 314.2h0.7v0.7h-0.7zM89.1 313.2h0.7v0.7h-0.7zM91.3 312.4h0.7v0.7h-0.7zM95.8 312.1h0.7v0.7h-0.7zM90.0 314.3h0.7v0.7h-0.7zM102.4 313.9h0.7v0.7h-0.7zM92.0 313.2h0.7v0.7h-0.7zM90.2 313.0h0.7v0.7h-0.7zM97.4 311.6h0.7v0.7h-0.7z" fill="#333" opacity="1.0"/>
</g><g filter="url(#bl)">
<path d="M88.3 311.5 L95 312.6 L103.3 314.8 L102.5 322 L100.5 330.7 L88.3 330.7 Z" fill="#1c1c1c"/>
<path d="M102.4 320.0h0.7v0.7h-0.7zM102.7 321.9h0.7v0.7h-0.7zM101.2 322.7h0.7v0.7h-0.7zM102.0 323.4h0.7v0.7h-0.7zM101.5 326.3h0.7v0.7h-0.7zM101.7 324.9h0.7v0.7h-0.7zM102.8 322.2h0.7v0.7h-0.7zM103.9 325.9h0.7v0.7h-0.7zM99.9 328.8h0.7v0.7h-0.7zM100.1 328.1h0.7v0.7h-0.7zM103.1 314.7h0.7v0.7h-0.7zM102.4 320.0h0.7v0.7h-0.7zM100.1 328.0h0.7v0.7h-0.7zM103.7 316.3h0.7v0.7h-0.7zM103.1 323.5h0.7v0.7h-0.7zM103.1 325.7h0.7v0.7h-0.7zM101.9 322.5h0.7v0.7h-0.7zM103.9 320.5h0.7v0.7h-0.7zM102.6 329.9h0.7v0.7h-0.7zM100.6 327.5h0.7v0.7h-0.7zM103.3 326.1h0.7v0.7h-0.7zM102.5 320.2h0.7v0.7h-0.7zM103.6 316.1h0.7v0.7h-0.7zM101.5 325.4h0.7v0.7h-0.7zM102.4 319.1h0.7v0.7h-0.7zM102.2 325.9h0.7v0.7h-0.7zM104.2 321.7h0.7v0.7h-0.7zM102.0 323.6h0.7v0.7h-0.7zM104.5 316.9h0.7v0.7h-0.7zM104.1 315.2h0.7v0.7h-0.7zM104.6 314.8h0.7v0.7h-0.7zM101.9 320.4h0.7v0.7h-0.7zM102.3 318.7h0.7v0.7h-0.7zM103.2 322.5h0.7v0.7h-0.7zM102.4 324.2h0.7v0.7h-0.7zM103.4 328.3h0.7v0.7h-0.7zM102.1 322.3h0.7v0.7h-0.7zM101.8 323.9h0.7v0.7h-0.7zM101.3 325.6h0.7v0.7h-0.7zM104.6 315.8h0.7v0.7h-0.7zM101.5 329.4h0.7v0.7h-0.7zM104.4 314.9h0.7v0.7h-0.7zM102.9 325.6h0.7v0.7h-0.7zM101.9 329.1h0.7v0.7h-0.7zM103.6 314.4h0.7v0.7h-0.7zM101.9 319.7h0.7v0.7h-0.7zM102.1 321.0h0.7v0.7h-0.7zM100.8 329.9h0.7v0.7h-0.7zM102.2 323.8h0.7v0.7h-0.7zM102.0 326.5h0.7v0.7h-0.7zM102.1 322.8h0.7v0.7h-0.7zM102.9 315.8h0.7v0.7h-0.7zM101.5 322.1h0.7v0.7h-0.7zM103.2 316.7h0.7v0.7h-0.7zM102.5 324.3h0.7v0.7h-0.7zM102.9 323.7h0.7v0.7h-0.7zM101.9 325.5h0.7v0.7h-0.7zM102.2 324.1h0.7v0.7h-0.7zM103.4 326.8h0.7v0.7h-0.7zM104.8 316.4h0.7v0.7h-0.7zM100.6 327.6h0.7v0.7h-0.7zM103.5 316.9h0.7v0.7h-0.7zM104.8 319.5h0.7v0.7h-0.7zM101.5 327.2h0.7v0.7h-0.7zM104.5 324.0h0.7v0.7h-0.7zM104.5 324.5h0.7v0.7h-0.7zM104.6 318.7h0.7v0.7h-0.7zM101.6 324.0h0.7v0.7h-0.7zM101.2 324.7h0.7v0.7h-0.7zM103.2 319.6h0.7v0.7h-0.7zM104.3 318.7h0.7v0.7h-0.7zM103.9 316.8h0.7v0.7h-0.7zM101.3 325.3h0.7v0.7h-0.7zM102.3 321.1h0.7v0.7h-0.7zM102.8 318.8h0.7v0.7h-0.7zM103.8 326.9h0.7v0.7h-0.7zM104.7 320.3h0.7v0.7h-0.7zM102.2 325.6h0.7v0.7h-0.7zM104.1 315.4h0.7v0.7h-0.7zM103.7 314.3h0.7v0.7h-0.7zM104.1 315.6h0.7v0.7h-0.7zM105.6 314.3h0.7v0.7h-0.7zM103.5 322.1h0.7v0.7h-0.7zM103.2 316.1h0.7v0.7h-0.7zM105.4 315.0h0.7v0.7h-0.7zM103.2 320.0h0.7v0.7h-0.7zM103.7 326.9h0.7v0.7h-0.7zM101.7 326.5h0.7v0.7h-0.7zM104.9 318.6h0.7v0.7h-0.7zM100.0 329.2h0.7v0.7h-0.7zM100.9 326.1h0.7v0.7h-0.7zM100.6 326.8h0.7v0.7h-0.7zM102.4 320.0h0.7v0.7h-0.7zM103.3 316.1h0.7v0.7h-0.7zM103.5 316.8h0.7v0.7h-0.7zM104.0 322.5h0.7v0.7h-0.7zM102.6 324.5h0.7v0.7h-0.7zM101.7 321.8h0.7v0.7h-0.7zM102.0 319.7h0.7v0.7h-0.7zM104.3 317.3h0.7v0.7h-0.7zM102.2 324.9h0.7v0.7h-0.7zM102.2 325.4h0.7v0.7h-0.7zM104.6 317.2h0.7v0.7h-0.7zM103.9 314.4h0.7v0.7h-0.7zM101.2 326.3h0.7v0.7h-0.7zM100.6 329.6h0.7v0.7h-0.7zM102.8 327.2h0.7v0.7h-0.7zM103.7 318.4h0.7v0.7h-0.7zM101.8 320.1h0.7v0.7h-0.7zM103.9 320.1h0.7v0.7h-0.7zM102.4 318.9h0.7v0.7h-0.7zM105.7 314.0h0.7v0.7h-0.7zM100.6 325.5h0.7v0.7h-0.7zM101.5 328.2h0.7v0.7h-0.7zM102.2 323.0h0.7v0.7h-0.7zM104.1 320.5h0.7v0.7h-0.7zM102.1 322.1h0.7v0.7h-0.7zM102.6 317.8h0.7v0.7h-0.7zM102.9 315.5h0.7v0.7h-0.7zM101.6 330.0h0.7v0.7h-0.7z" fill="#333" opacity="1.0"/>
</g></g>
<text x="171.40" y="285.30" font-size="7.3" font-weight="normal" text-anchor="middle" fill="#111" stroke="#111" stroke-width="0.2">Patient 3</text>
<rect x="148.1" y="289.4" width="45.80000000000001" height="41.30000000000001" fill="none" stroke="#444" stroke-width="0.7"/>
<line x1="166.60" y1="289.40" x2="166.60" y2="330.70" stroke="#444" stroke-width="0.7"/>
<line x1="148.10" y1="312.20" x2="193.90" y2="312.20" stroke="#444" stroke-width="0.7"/>
<rect x="142.90" y="288.40" width="2.60" height="1.80" fill="#8c8c8c"/>
<line x1="146.60" y1="289.40" x2="148.10" y2="289.40" stroke="#555" stroke-width="0.5"/>
<rect x="142.90" y="298.72" width="2.60" height="1.80" fill="#8c8c8c"/>
<line x1="146.60" y1="299.72" x2="148.10" y2="299.72" stroke="#555" stroke-width="0.5"/>
<rect x="142.90" y="309.05" width="2.60" height="1.80" fill="#8c8c8c"/>
<line x1="146.60" y1="310.05" x2="148.10" y2="310.05" stroke="#555" stroke-width="0.5"/>
<rect x="142.90" y="319.38" width="2.60" height="1.80" fill="#8c8c8c"/>
<line x1="146.60" y1="320.38" x2="148.10" y2="320.38" stroke="#555" stroke-width="0.5"/>
<rect x="142.90" y="329.70" width="2.60" height="1.80" fill="#8c8c8c"/>
<line x1="146.60" y1="330.70" x2="148.10" y2="330.70" stroke="#555" stroke-width="0.5"/>
<rect x="146.80" y="332.30" width="2.80" height="1.60" fill="#8c8c8c"/>
<line x1="148.10" y1="330.70" x2="148.10" y2="331.90" stroke="#555" stroke-width="0.5"/>
<rect x="158.25" y="332.30" width="2.80" height="1.60" fill="#8c8c8c"/>
<line x1="159.55" y1="330.70" x2="159.55" y2="331.90" stroke="#555" stroke-width="0.5"/>
<rect x="169.70" y="332.30" width="2.80" height="1.60" fill="#8c8c8c"/>
<line x1="171.00" y1="330.70" x2="171.00" y2="331.90" stroke="#555" stroke-width="0.5"/>
<rect x="181.15" y="332.30" width="2.80" height="1.60" fill="#8c8c8c"/>
<line x1="182.45" y1="330.70" x2="182.45" y2="331.90" stroke="#555" stroke-width="0.5"/>
<rect x="192.60" y="332.30" width="2.80" height="1.60" fill="#8c8c8c"/>
<line x1="193.90" y1="330.70" x2="193.90" y2="331.90" stroke="#555" stroke-width="0.5"/>
<rect x="140.90" y="307.40" width="1.40" height="9.50" fill="#a0a0a0"/>
<rect x="167.00" y="336.10" width="8.00" height="1.40" fill="#a0a0a0"/>
<clipPath id="p3c"><path d="M148.3 311 L187 311.3 L187.6 320 L186 330.7 L148.3 330.7 Z"/></clipPath>
<g clip-path="url(#c3)"><g filter="url(#bl)">
<path d="M178.4 307.8h0.6v0.6h-0.6zM151.4 294.7h0.6v0.6h-0.6zM167.5 298.3h0.6v0.6h-0.6zM148.5 323.1h0.6v0.6h-0.6zM168.0 317.1h0.6v0.6h-0.6zM192.3 318.4h0.6v0.6h-0.6zM165.9 303.2h0.6v0.6h-0.6zM161.7 304.7h0.6v0.6h-0.6zM152.3 293.8h0.6v0.6h-0.6zM162.8 303.4h0.6v0.6h-0.6zM184.2 296.1h0.6v0.6h-0.6zM186.3 298.6h0.6v0.6h-0.6zM149.2 312.7h0.6v0.6h-0.6zM160.5 298.7h0.6v0.6h-0.6zM174.8 299.0h0.6v0.6h-0.6zM156.2 320.6h0.6v0.6h-0.6zM184.1 324.3h0.6v0.6h-0.6zM160.1 305.4h0.6v0.6h-0.6zM168.9 301.2h0.6v0.6h-0.6zM161.2 309.7h0.6v0.6h-0.6zM153.7 310.3h0.6v0.6h-0.6zM165.9 328.9h0.6v0.6h-0.6zM165.1 290.8h0.6v0.6h-0.6zM174.1 314.5h0.6v0.6h-0.6zM188.0 315.3h0.6v0.6h-0.6z" fill="#ccc" opacity="1.0"/>
<path d="M162.8 306.7h0.6v0.6h-0.6zM165.6 309.9h0.6v0.6h-0.6zM154.6 306.1h0.6v0.6h-0.6zM152.4 304.2h0.6v0.6h-0.6zM157.7 306.6h0.6v0.6h-0.6zM148.3 301.0h0.6v0.6h-0.6zM161.5 310.1h0.6v0.6h-0.6zM151.4 307.4h0.6v0.6h-0.6zM152.4 308.7h0.6v0.6h-0.6zM159.0 308.1h0.6v0.6h-0.6zM162.3 307.7h0.6v0.6h-0.6zM152.0 305.5h0.6v0.6h-0.6zM151.9 308.2h0.6v0.6h-0.6zM160.3 308.6h0.6v0.6h-0.6zM152.2 305.7h0.6v0.6h-0.6zM159.6 308.4h0.6v0.6h-0.6zM152.9 305.6h0.6v0.6h-0.6zM150.0 298.8h0.6v0.6h-0.6zM163.2 310.3h0.6v0.6h-0.6zM162.9 306.5h0.6v0.6h-0.6zM159.1 309.7h0.6v0.6h-0.6zM158.3 310.6h0.6v0.6h-0.6zM152.7 306.7h0.6v0.6h-0.6zM150.6 307.7h0.6v0.6h-0.6zM154.8 310.4h0.6v0.6h-0.6zM152.8 307.7h0.6v0.6h-0.6zM157.5 305.2h0.6v0.6h-0.6zM148.7 310.7h0.6v0.6h-0.6zM165.1 310.8h0.6v0.6h-0.6zM164.6 308.3h0.6v0.6h-0.6zM148.8 297.8h0.6v0.6h-0.6zM157.7 310.8h0.6v0.6h-0.6zM166.3 309.0h0.6v0.6h-0.6zM152.9 302.9h0.6v0.6h-0.6zM162.7 309.6h0.6v0.6h-0.6zM162.6 307.1h0.6v0.6h-0.6zM159.3 309.7h0.6v0.6h-0.6zM158.0 309.2h0.6v0.6h-0.6zM155.6 310.6h0.6v0.6h-0.6zM164.0 304.5h0.6v0.6h-0.6zM149.1 310.4h0.6v0.6h-0.6zM157.7 303.1h0.6v0.6h-0.6zM154.1 308.6h0.6v0.6h-0.6zM162.2 308.6h0.6v0.6h-0.6zM157.4 310.8h0.6v0.6h-0.6zM152.6 305.1h0.6v0.6h-0.6zM154.4 302.0h0.6v0.6h-0.6zM160.0 306.3h0.6v0.6h-0.6zM154.1 303.4h0.6v0.6h-0.6zM164.1 307.8h0.6v0.6h-0.6zM151.5 306.5h0.6v0.6h-0.6zM153.6 308.9h0.6v0.6h-0.6zM153.6 309.9h0.6v0.6h-0.6zM149.9 306.0h0.6v0.6h-0.6zM155.4 301.4h0.6v0.6h-0.6zM161.2 308.5h0.6v0.6h-0.6zM155.7 308.8h0.6v0.6h-0.6zM150.5 310.5h0.6v0.6h-0.6zM157.4 308.3h0.6v0.6h-0.6zM153.2 303.8h0.6v0.6h-0.6zM161.7 306.3h0.6v0.6h-0.6zM155.4 306.6h0.6v0.6h-0.6zM157.0 310.3h0.6v0.6h-0.6zM163.1 308.5h0.6v0.6h-0.6zM157.3 302.9h0.6v0.6h-0.6zM150.6 302.4h0.6v0.6h-0.6zM156.0 309.7h0.6v0.6h-0.6zM149.3 306.3h0.6v0.6h-0.6zM157.5 307.0h0.6v0.6h-0.6zM153.2 305.4h0.6v0.6h-0.6zM148.8 298.1h0.6v0.6h-0.6zM153.0 302.8h0.6v0.6h-0.6zM152.2 310.5h0.6v0.6h-0.6zM161.6 305.9h0.6v0.6h-0.6zM149.5 307.5h0.6v0.6h-0.6zM159.8 309.5h0.6v0.6h-0.6zM149.6 309.5h0.6v0.6h-0.6zM151.9 307.8h0.6v0.6h-0.6zM151.6 309.9h0.6v0.6h-0.6zM150.0 305.8h0.6v0.6h-0.6zM150.1 302.8h0.6v0.6h-0.6zM165.8 307.7h0.6v0.6h-0.6zM151.6 306.3h0.6v0.6h-0.6zM160.6 306.9h0.6v0.6h-0.6zM157.8 303.0h0.6v0.6h-0.6zM158.9 307.6h0.6v0.6h-0.6zM156.9 303.0h0.6v0.6h-0.6zM154.1 310.9h0.6v0.6h-0.6zM149.5 308.2h0.6v0.6h-0.6zM156.8 310.5h0.6v0.6h-0.6zM152.6 301.2h0.6v0.6h-0.6zM154.1 304.2h0.6v0.6h-0.6zM159.1 308.7h0.6v0.6h-0.6zM154.9 304.3h0.6v0.6h-0.6zM153.3 308.9h0.6v0.6h-0.6zM148.8 307.0h0.6v0.6h-0.6zM152.3 308.7h0.6v0.6h-0.6zM152.0 306.1h0.6v0.6h-0.6zM149.9 302.7h0.6v0.6h-0.6zM148.9 309.1h0.6v0.6h-0.6zM161.0 306.1h0.6v0.6h-0.6zM155.8 305.9h0.6v0.6h-0.6zM159.1 306.3h0.6v0.6h-0.6zM150.8 299.3h0.6v0.6h-0.6zM160.2 302.9h0.6v0.6h-0.6zM152.2 304.8h0.6v0.6h-0.6zM158.1 308.1h0.6v0.6h-0.6zM154.0 305.5h0.6v0.6h-0.6zM152.2 300.7h0.6v0.6h-0.6zM151.9 310.1h0.6v0.6h-0.6zM164.6 310.7h0.6v0.6h-0.6zM153.2 307.8h0.6v0.6h-0.6zM159.6 310.4h0.6v0.6h-0.6zM154.3 309.1h0.6v0.6h-0.6zM155.7 308.2h0.6v0.6h-0.6zM153.9 305.5h0.6v0.6h-0.6zM165.9 309.7h0.6v0.6h-0.6zM148.9 308.0h0.6v0.6h-0.6zM153.1 307.7h0.6v0.6h-0.6zM161.1 310.6h0.6v0.6h-0.6zM151.2 308.1h0.6v0.6h-0.6zM154.8 304.6h0.6v0.6h-0.6zM160.5 308.3h0.6v0.6h-0.6zM154.0 301.3h0.6v0.6h-0.6zM153.2 307.0h0.6v0.6h-0.6zM159.4 308.4h0.6v0.6h-0.6zM161.7 307.0h0.6v0.6h-0.6zM161.0 307.3h0.6v0.6h-0.6zM149.4 301.4h0.6v0.6h-0.6zM160.7 305.6h0.6v0.6h-0.6zM159.6 309.7h0.6v0.6h-0.6zM156.5 310.4h0.6v0.6h-0.6zM158.5 309.1h0.6v0.6h-0.6zM154.8 310.6h0.6v0.6h-0.6zM151.6 309.7h0.6v0.6h-0.6zM149.6 301.7h0.6v0.6h-0.6zM156.2 307.5h0.6v0.6h-0.6zM153.3 307.6h0.6v0.6h-0.6zM154.9 305.3h0.6v0.6h-0.6zM150.8 302.7h0.6v0.6h-0.6zM150.5 303.0h0.6v0.6h-0.6zM153.5 301.2h0.6v0.6h-0.6zM160.9 306.5h0.6v0.6h-0.6zM159.6 305.8h0.6v0.6h-0.6zM154.2 308.8h0.6v0.6h-0.6zM156.5 304.6h0.6v0.6h-0.6zM156.5 302.8h0.6v0.6h-0.6zM150.2 300.8h0.6v0.6h-0.6zM149.1 308.8h0.6v0.6h-0.6zM152.8 302.0h0.6v0.6h-0.6zM153.9 307.9h0.6v0.6h-0.6zM154.8 309.9h0.6v0.6h-0.6zM158.1 303.8h0.6v0.6h-0.6zM155.4 307.9h0.6v0.6h-0.6zM155.6 303.5h0.6v0.6h-0.6zM154.6 309.1h0.6v0.6h-0.6zM158.5 307.8h0.6v0.6h-0.6zM161.4 310.7h0.6v0.6h-0.6zM157.2 305.4h0.6v0.6h-0.6zM150.2 299.9h0.6v0.6h-0.6zM165.7 310.0h0.6v0.6h-0.6zM164.7 310.7h0.6v0.6h-0.6zM156.1 302.0h0.6v0.6h-0.6zM156.0 303.7h0.6v0.6h-0.6zM162.3 304.6h0.6v0.6h-0.6zM152.8 306.2h0.6v0.6h-0.6zM154.2 308.6h0.6v0.6h-0.6zM159.3 306.5h0.6v0.6h-0.6zM153.4 301.5h0.6v0.6h-0.6zM158.9 310.4h0.6v0.6h-0.6zM154.9 305.6h0.6v0.6h-0.6zM154.6 304.6h0.6v0.6h-0.6zM152.3 307.8h0.6v0.6h-0.6zM161.8 308.0h0.6v0.6h-0.6zM163.2 310.3h0.6v0.6h-0.6zM162.9 310.4h0.6v0.6h-0.6zM153.9 309.2h0.6v0.6h-0.6zM159.4 309.6h0.6v0.6h-0.6zM154.9 309.8h0.6v0.6h-0.6zM152.5 302.2h0.6v0.6h-0.6zM159.0 303.1h0.6v0.6h-0.6zM154.5 309.4h0.6v0.6h-0.6zM160.0 303.8h0.6v0.6h-0.6zM148.4 310.1h0.6v0.6h-0.6zM156.4 308.0h0.6v0.6h-0.6zM158.5 302.6h0.6v0.6h-0.6zM158.1 310.7h0.6v0.6h-0.6zM159.6 309.6h0.6v0.6h-0.6zM159.3 308.3h0.6v0.6h-0.6zM151.8 303.5h0.6v0.6h-0.6zM151.6 303.1h0.6v0.6h-0.6zM156.9 303.9h0.6v0.6h-0.6zM160.3 310.6h0.6v0.6h-0.6zM152.8 308.4h0.6v0.6h-0.6zM159.9 307.5h0.6v0.6h-0.6zM152.0 309.2h0.6v0.6h-0.6zM152.2 307.2h0.6v0.6h-0.6zM149.9 302.9h0.6v0.6h-0.6zM164.1 308.4h0.6v0.6h-0.6zM148.4 297.1h0.6v0.6h-0.6zM153.6 302.0h0.6v0.6h-0.6zM150.4 301.1h0.6v0.6h-0.6zM150.8 301.7h0.6v0.6h-0.6zM162.5 309.5h0.6v0.6h-0.6zM159.9 310.3h0.6v0.6h-0.6zM156.5 302.0h0.6v0.6h-0.6zM156.6 308.2h0.6v0.6h-0.6zM155.3 310.2h0.6v0.6h-0.6zM160.1 308.8h0.6v0.6h-0.6zM159.3 310.5h0.6v0.6h-0.6zM149.8 304.7h0.6v0.6h-0.6zM152.8 310.4h0.6v0.6h-0.6zM165.5 310.3h0.6v0.6h-0.6zM151.0 309.3h0.6v0.6h-0.6zM163.1 308.9h0.6v0.6h-0.6zM152.6 309.1h0.6v0.6h-0.6zM155.7 309.9h0.6v0.6h-0.6zM155.2 306.4h0.6v0.6h-0.6zM149.6 305.8h0.6v0.6h-0.6zM153.3 307.0h0.6v0.6h-0.6zM165.8 310.5h0.6v0.6h-0.6zM151.2 301.2h0.6v0.6h-0.6zM155.4 307.9h0.6v0.6h-0.6zM165.0 309.1h0.6v0.6h-0.6zM158.1 309.0h0.6v0.6h-0.6zM157.0 302.3h0.6v0.6h-0.6zM166.4 308.8h0.6v0.6h-0.6zM157.6 308.8h0.6v0.6h-0.6zM151.7 309.9h0.6v0.6h-0.6zM152.9 310.3h0.6v0.6h-0.6zM151.8 305.1h0.6v0.6h-0.6zM163.3 309.8h0.6v0.6h-0.6zM155.8 303.2h0.6v0.6h-0.6zM161.1 308.1h0.6v0.6h-0.6zM164.9 310.8h0.6v0.6h-0.6zM159.1 308.4h0.6v0.6h-0.6zM157.9 309.1h0.6v0.6h-0.6zM155.5 309.5h0.6v0.6h-0.6zM157.0 304.8h0.6v0.6h-0.6zM159.3 307.6h0.6v0.6h-0.6zM154.1 305.0h0.6v0.6h-0.6zM153.1 304.4h0.6v0.6h-0.6zM150.3 309.0h0.6v0.6h-0.6zM149.3 310.4h0.6v0.6h-0.6zM154.9 300.5h0.6v0.6h-0.6zM154.8 309.8h0.6v0.6h-0.6zM159.0 308.0h0.6v0.6h-0.6zM159.8 307.6h0.6v0.6h-0.6zM155.3 309.9h0.6v0.6h-0.6zM163.3 307.3h0.6v0.6h-0.6zM160.1 305.7h0.6v0.6h-0.6zM159.4 309.9h0.6v0.6h-0.6zM165.8 308.9h0.6v0.6h-0.6zM151.6 306.6h0.6v0.6h-0.6zM153.6 303.8h0.6v0.6h-0.6zM154.7 304.5h0.6v0.6h-0.6zM157.8 307.8h0.6v0.6h-0.6zM155.9 309.2h0.6v0.6h-0.6zM151.2 304.9h0.6v0.6h-0.6zM165.3 307.3h0.6v0.6h-0.6zM150.9 307.9h0.6v0.6h-0.6zM159.1 310.5h0.6v0.6h-0.6zM149.3 306.5h0.6v0.6h-0.6zM153.6 310.1h0.6v0.6h-0.6zM149.9 304.7h0.6v0.6h-0.6zM156.3 306.6h0.6v0.6h-0.6zM150.1 307.5h0.6v0.6h-0.6zM156.5 302.7h0.6v0.6h-0.6zM150.0 310.8h0.6v0.6h-0.6zM161.3 305.3h0.6v0.6h-0.6zM163.1 309.6h0.6v0.6h-0.6zM162.2 309.3h0.6v0.6h-0.6zM153.0 310.6h0.6v0.6h-0.6zM161.3 309.4h0.6v0.6h-0.6zM152.4 308.9h0.6v0.6h-0.6zM159.6 306.2h0.6v0.6h-0.6zM153.9 310.6h0.6v0.6h-0.6zM159.0 305.7h0.6v0.6h-0.6zM150.0 307.2h0.6v0.6h-0.6zM164.0 307.3h0.6v0.6h-0.6zM149.9 308.1h0.6v0.6h-0.6zM160.6 310.5h0.6v0.6h-0.6zM157.9 308.9h0.6v0.6h-0.6zM165.1 307.7h0.6v0.6h-0.6zM154.4 308.4h0.6v0.6h-0.6zM150.9 306.1h0.6v0.6h-0.6zM151.9 310.8h0.6v0.6h-0.6zM160.1 310.6h0.6v0.6h-0.6zM160.4 308.6h0.6v0.6h-0.6zM156.5 302.8h0.6v0.6h-0.6zM153.8 306.3h0.6v0.6h-0.6zM164.3 309.1h0.6v0.6h-0.6zM164.3 308.1h0.6v0.6h-0.6zM160.8 309.2h0.6v0.6h-0.6zM156.8 307.9h0.6v0.6h-0.6zM153.5 310.0h0.6v0.6h-0.6zM161.0 309.3h0.6v0.6h-0.6zM152.7 309.7h0.6v0.6h-0.6zM151.5 303.3h0.6v0.6h-0.6zM156.1 308.7h0.6v0.6h-0.6zM163.6 310.4h0.6v0.6h-0.6zM160.8 307.5h0.6v0.6h-0.6zM150.6 308.4h0.6v0.6h-0.6zM159.9 310.3h0.6v0.6h-0.6zM156.8 309.6h0.6v0.6h-0.6zM157.3 306.5h0.6v0.6h-0.6zM152.6 304.1h0.6v0.6h-0.6zM163.0 310.2h0.6v0.6h-0.6zM155.9 305.2h0.6v0.6h-0.6zM158.0 306.5h0.6v0.6h-0.6zM156.2 310.2h0.6v0.6h-0.6zM154.5 302.5h0.6v0.6h-0.6zM149.3 304.9h0.6v0.6h-0.6zM160.3 305.9h0.6v0.6h-0.6zM153.7 310.8h0.6v0.6h-0.6zM157.8 309.6h0.6v0.6h-0.6zM149.7 309.8h0.6v0.6h-0.6zM157.3 308.0h0.6v0.6h-0.6zM152.5 310.7h0.6v0.6h-0.6zM158.3 310.9h0.6v0.6h-0.6zM153.3 307.9h0.6v0.6h-0.6zM157.4 308.1h0.6v0.6h-0.6zM157.7 308.8h0.6v0.6h-0.6zM162.6 306.0h0.6v0.6h-0.6zM148.8 298.8h0.6v0.6h-0.6zM157.3 307.2h0.6v0.6h-0.6zM152.9 309.2h0.6v0.6h-0.6zM160.1 307.9h0.6v0.6h-0.6zM161.9 306.4h0.6v0.6h-0.6zM164.6 308.7h0.6v0.6h-0.6z" fill="#777" opacity="1.0"/>
<path d="M185.9 309.6h0.6v0.6h-0.6zM179.0 306.7h0.6v0.6h-0.6zM177.3 303.9h0.6v0.6h-0.6zM168.5 308.0h0.6v0.6h-0.6zM168.9 307.8h0.6v0.6h-0.6zM167.3 303.0h0.6v0.6h-0.6zM173.6 307.3h0.6v0.6h-0.6zM174.1 308.9h0.6v0.6h-0.6zM174.0 306.3h0.6v0.6h-0.6zM176.9 310.2h0.6v0.6h-0.6zM173.9 310.3h0.6v0.6h-0.6zM184.5 307.4h0.6v0.6h-0.6zM178.1 310.3h0.6v0.6h-0.6zM174.9 310.8h0.6v0.6h-0.6zM173.4 304.3h0.6v0.6h-0.6zM170.2 308.2h0.6v0.6h-0.6zM184.9 309.2h0.6v0.6h-0.6zM182.9 307.5h0.6v0.6h-0.6zM169.3 303.0h0.6v0.6h-0.6zM167.1 304.6h0.6v0.6h-0.6zM168.4 306.2h0.6v0.6h-0.6zM179.9 309.8h0.6v0.6h-0.6zM176.3 310.2h0.6v0.6h-0.6zM176.9 301.6h0.6v0.6h-0.6zM172.8 310.8h0.6v0.6h-0.6zM179.0 310.3h0.6v0.6h-0.6zM177.8 310.8h0.6v0.6h-0.6zM179.9 308.2h0.6v0.6h-0.6zM168.7 310.4h0.6v0.6h-0.6zM172.4 309.3h0.6v0.6h-0.6zM185.2 308.7h0.6v0.6h-0.6zM170.6 308.6h0.6v0.6h-0.6zM185.9 309.9h0.6v0.6h-0.6zM167.3 307.6h0.6v0.6h-0.6zM177.9 305.1h0.6v0.6h-0.6zM170.5 310.2h0.6v0.6h-0.6zM175.7 304.3h0.6v0.6h-0.6zM182.1 306.9h0.6v0.6h-0.6zM186.8 309.6h0.6v0.6h-0.6zM180.3 310.0h0.6v0.6h-0.6zM177.5 308.0h0.6v0.6h-0.6zM169.7 309.2h0.6v0.6h-0.6zM183.6 308.8h0.6v0.6h-0.6zM175.5 307.9h0.6v0.6h-0.6zM175.5 309.9h0.6v0.6h-0.6zM175.8 309.9h0.6v0.6h-0.6zM171.6 309.8h0.6v0.6h-0.6zM166.9 305.0h0.6v0.6h-0.6zM168.0 306.8h0.6v0.6h-0.6zM184.8 309.3h0.6v0.6h-0.6zM183.3 308.9h0.6v0.6h-0.6zM179.9 310.1h0.6v0.6h-0.6zM179.0 309.6h0.6v0.6h-0.6zM168.6 306.6h0.6v0.6h-0.6zM175.4 310.1h0.6v0.6h-0.6zM169.3 307.2h0.6v0.6h-0.6zM183.5 306.4h0.6v0.6h-0.6zM181.3 310.3h0.6v0.6h-0.6zM168.6 307.7h0.6v0.6h-0.6zM168.1 310.4h0.6v0.6h-0.6zM170.8 310.0h0.6v0.6h-0.6zM170.1 309.2h0.6v0.6h-0.6zM178.7 309.8h0.6v0.6h-0.6zM168.4 310.9h0.6v0.6h-0.6zM170.0 309.1h0.6v0.6h-0.6zM177.9 307.9h0.6v0.6h-0.6zM177.2 304.7h0.6v0.6h-0.6zM173.1 307.0h0.6v0.6h-0.6zM182.0 306.9h0.6v0.6h-0.6zM168.9 309.9h0.6v0.6h-0.6zM182.5 307.6h0.6v0.6h-0.6zM169.9 306.1h0.6v0.6h-0.6zM172.4 309.4h0.6v0.6h-0.6zM177.8 309.0h0.6v0.6h-0.6zM183.5 310.8h0.6v0.6h-0.6zM173.9 310.8h0.6v0.6h-0.6zM171.1 308.7h0.6v0.6h-0.6zM181.3 307.9h0.6v0.6h-0.6zM175.4 309.5h0.6v0.6h-0.6zM177.7 309.0h0.6v0.6h-0.6zM185.5 309.3h0.6v0.6h-0.6zM171.6 307.6h0.6v0.6h-0.6zM175.7 309.7h0.6v0.6h-0.6zM173.5 309.5h0.6v0.6h-0.6zM169.5 304.9h0.6v0.6h-0.6zM179.5 305.4h0.6v0.6h-0.6zM169.8 310.6h0.6v0.6h-0.6zM174.2 309.9h0.6v0.6h-0.6zM172.6 309.3h0.6v0.6h-0.6zM176.3 310.6h0.6v0.6h-0.6zM179.5 308.4h0.6v0.6h-0.6zM182.9 308.7h0.6v0.6h-0.6zM172.4 306.3h0.6v0.6h-0.6zM171.5 310.4h0.6v0.6h-0.6zM174.8 308.1h0.6v0.6h-0.6zM169.8 306.7h0.6v0.6h-0.6zM166.9 310.7h0.6v0.6h-0.6zM186.0 310.4h0.6v0.6h-0.6zM168.4 310.6h0.6v0.6h-0.6zM171.3 306.3h0.6v0.6h-0.6zM186.7 308.6h0.6v0.6h-0.6zM168.6 307.8h0.6v0.6h-0.6zM178.7 304.9h0.6v0.6h-0.6zM169.6 306.0h0.6v0.6h-0.6zM187.1 306.7h0.6v0.6h-0.6zM180.4 309.0h0.6v0.6h-0.6zM177.1 309.4h0.6v0.6h-0.6zM178.3 310.5h0.6v0.6h-0.6zM173.0 308.6h0.6v0.6h-0.6zM173.2 309.2h0.6v0.6h-0.6zM172.6 310.3h0.6v0.6h-0.6zM179.3 305.7h0.6v0.6h-0.6zM169.9 303.6h0.6v0.6h-0.6zM181.5 304.3h0.6v0.6h-0.6zM177.0 310.5h0.6v0.6h-0.6zM169.6 310.0h0.6v0.6h-0.6zM178.6 308.8h0.6v0.6h-0.6zM177.1 310.7h0.6v0.6h-0.6zM167.5 310.4h0.6v0.6h-0.6zM186.9 306.3h0.6v0.6h-0.6zM167.1 308.0h0.6v0.6h-0.6zM167.3 306.5h0.6v0.6h-0.6zM186.7 310.3h0.6v0.6h-0.6zM167.6 310.1h0.6v0.6h-0.6zM172.1 305.9h0.6v0.6h-0.6zM172.4 309.0h0.6v0.6h-0.6zM169.2 310.5h0.6v0.6h-0.6zM185.7 307.2h0.6v0.6h-0.6zM186.8 306.7h0.6v0.6h-0.6zM171.2 308.4h0.6v0.6h-0.6zM177.4 306.4h0.6v0.6h-0.6zM175.2 309.2h0.6v0.6h-0.6zM177.5 308.3h0.6v0.6h-0.6zM172.6 308.3h0.6v0.6h-0.6zM175.0 309.2h0.6v0.6h-0.6zM185.6 308.4h0.6v0.6h-0.6zM167.1 307.3h0.6v0.6h-0.6zM170.5 309.1h0.6v0.6h-0.6zM179.9 307.4h0.6v0.6h-0.6zM173.0 308.1h0.6v0.6h-0.6zM168.3 306.4h0.6v0.6h-0.6zM183.3 306.7h0.6v0.6h-0.6zM179.5 308.9h0.6v0.6h-0.6zM173.9 309.2h0.6v0.6h-0.6zM184.3 307.9h0.6v0.6h-0.6zM182.4 307.6h0.6v0.6h-0.6zM177.2 310.1h0.6v0.6h-0.6zM176.3 310.4h0.6v0.6h-0.6zM173.3 304.8h0.6v0.6h-0.6zM179.2 307.5h0.6v0.6h-0.6zM187.1 306.9h0.6v0.6h-0.6zM176.7 303.6h0.6v0.6h-0.6zM177.8 306.6h0.6v0.6h-0.6zM185.5 310.1h0.6v0.6h-0.6zM180.1 309.2h0.6v0.6h-0.6zM178.0 307.6h0.6v0.6h-0.6zM179.4 308.6h0.6v0.6h-0.6zM173.5 309.9h0.6v0.6h-0.6zM186.5 308.1h0.6v0.6h-0.6zM178.3 310.8h0.6v0.6h-0.6z" fill="#999" opacity="1.0"/>
<path d="M153.0 310.4h0.7v0.7h-0.7zM154.8 310.7h0.7v0.7h-0.7zM170.0 308.0h0.7v0.7h-0.7zM149.0 308.2h0.7v0.7h-0.7zM176.2 310.5h0.7v0.7h-0.7zM172.3 310.2h0.7v0.7h-0.7zM185.5 307.5h0.7v0.7h-0.7zM179.6 310.2h0.7v0.7h-0.7zM172.2 310.4h0.7v0.7h-0.7zM149.8 310.1h0.7v0.7h-0.7zM167.6 309.9h0.7v0.7h-0.7zM172.3 310.1h0.7v0.7h-0.7zM186.1 309.8h0.7v0.7h-0.7zM167.5 308.7h0.7v0.7h-0.7zM175.4 309.6h0.7v0.7h-0.7zM170.4 309.4h0.7v0.7h-0.7zM178.7 308.0h0.7v0.7h-0.7zM151.8 310.8h0.7v0.7h-0.7zM177.9 309.5h0.7v0.7h-0.7zM150.1 309.5h0.7v0.7h-0.7zM173.1 310.4h0.7v0.7h-0.7zM175.8 309.7h0.7v0.7h-0.7zM181.7 310.6h0.7v0.7h-0.7zM180.4 310.5h0.7v0.7h-0.7zM178.8 308.2h0.7v0.7h-0.7zM168.7 310.6h0.7v0.7h-0.7zM168.8 309.5h0.7v0.7h-0.7zM164.5 307.8h0.7v0.7h-0.7zM160.4 310.2h0.7v0.7h-0.7zM172.5 309.1h0.7v0.7h-0.7zM166.2 310.0h0.7v0.7h-0.7zM169.5 310.5h0.7v0.7h-0.7zM185.0 309.6h0.7v0.7h-0.7zM179.0 309.9h0.7v0.7h-0.7zM177.5 309.1h0.7v0.7h-0.7zM175.8 310.0h0.7v0.7h-0.7zM160.3 310.3h0.7v0.7h-0.7zM164.2 308.7h0.7v0.7h-0.7zM167.8 310.5h0.7v0.7h-0.7zM175.7 307.9h0.7v0.7h-0.7zM149.6 310.7h0.7v0.7h-0.7zM151.5 310.3h0.7v0.7h-0.7zM157.6 308.8h0.7v0.7h-0.7zM150.3 308.5h0.7v0.7h-0.7zM181.1 310.6h0.7v0.7h-0.7zM157.7 307.5h0.7v0.7h-0.7zM174.0 309.3h0.7v0.7h-0.7zM172.3 306.7h0.7v0.7h-0.7zM178.8 310.5h0.7v0.7h-0.7zM158.0 310.0h0.7v0.7h-0.7zM149.5 310.6h0.7v0.7h-0.7zM181.2 309.7h0.7v0.7h-0.7zM183.6 309.5h0.7v0.7h-0.7zM159.1 310.3h0.7v0.7h-0.7zM164.8 307.7h0.7v0.7h-0.7zM162.9 307.6h0.7v0.7h-0.7zM163.2 309.0h0.7v0.7h-0.7zM182.3 308.3h0.7v0.7h-0.7zM170.2 309.6h0.7v0.7h-0.7zM184.5 310.6h0.7v0.7h-0.7zM165.6 310.7h0.7v0.7h-0.7zM155.4 308.8h0.7v0.7h-0.7zM153.5 307.5h0.7v0.7h-0.7zM186.4 309.8h0.7v0.7h-0.7zM161.5 309.9h0.7v0.7h-0.7zM166.4 308.7h0.7v0.7h-0.7zM159.7 307.7h0.7v0.7h-0.7zM181.3 310.5h0.7v0.7h-0.7zM164.2 309.7h0.7v0.7h-0.7zM151.8 310.5h0.7v0.7h-0.7zM164.9 310.8h0.7v0.7h-0.7zM153.9 309.7h0.7v0.7h-0.7zM152.3 308.7h0.7v0.7h-0.7zM149.4 310.7h0.7v0.7h-0.7zM176.2 308.2h0.7v0.7h-0.7zM176.5 310.0h0.7v0.7h-0.7zM170.3 309.4h0.7v0.7h-0.7zM158.4 309.0h0.7v0.7h-0.7zM160.0 309.8h0.7v0.7h-0.7zM180.0 310.8h0.7v0.7h-0.7zM159.3 310.3h0.7v0.7h-0.7zM178.8 309.8h0.7v0.7h-0.7zM168.2 308.9h0.7v0.7h-0.7zM177.7 308.4h0.7v0.7h-0.7zM176.4 310.7h0.7v0.7h-0.7zM167.5 310.2h0.7v0.7h-0.7zM171.9 308.7h0.7v0.7h-0.7zM178.9 310.3h0.7v0.7h-0.7zM155.0 308.9h0.7v0.7h-0.7zM185.1 309.8h0.7v0.7h-0.7zM177.5 310.1h0.7v0.7h-0.7zM179.7 308.9h0.7v0.7h-0.7zM183.3 308.1h0.7v0.7h-0.7zM171.3 310.7h0.7v0.7h-0.7zM185.6 310.0h0.7v0.7h-0.7zM181.3 309.7h0.7v0.7h-0.7zM160.4 310.7h0.7v0.7h-0.7zM187.0 310.3h0.7v0.7h-0.7zM167.2 310.1h0.7v0.7h-0.7zM149.9 310.5h0.7v0.7h-0.7zM149.8 309.6h0.7v0.7h-0.7zM155.6 310.0h0.7v0.7h-0.7zM169.1 310.7h0.7v0.7h-0.7zM175.5 310.7h0.7v0.7h-0.7zM183.9 310.8h0.7v0.7h-0.7zM185.4 310.5h0.7v0.7h-0.7zM172.7 310.2h0.7v0.7h-0.7zM153.6 309.2h0.7v0.7h-0.7zM157.1 310.0h0.7v0.7h-0.7zM158.9 308.7h0.7v0.7h-0.7zM153.2 309.5h0.7v0.7h-0.7zM175.5 309.7h0.7v0.7h-0.7zM160.9 308.7h0.7v0.7h-0.7zM164.8 310.6h0.7v0.7h-0.7zM183.3 310.2h0.7v0.7h-0.7zM157.7 310.1h0.7v0.7h-0.7zM171.9 310.5h0.7v0.7h-0.7zM163.2 310.3h0.7v0.7h-0.7zM149.6 310.2h0.7v0.7h-0.7zM180.3 310.7h0.7v0.7h-0.7zM176.9 309.8h0.7v0.7h-0.7zM158.0 308.3h0.7v0.7h-0.7zM164.8 310.6h0.7v0.7h-0.7zM187.1 309.2h0.7v0.7h-0.7zM184.2 309.1h0.7v0.7h-0.7zM151.2 308.8h0.7v0.7h-0.7zM181.8 310.2h0.7v0.7h-0.7zM183.4 307.1h0.7v0.7h-0.7zM157.2 309.9h0.7v0.7h-0.7zM164.1 306.8h0.7v0.7h-0.7zM165.2 309.4h0.7v0.7h-0.7zM182.2 310.8h0.7v0.7h-0.7zM155.4 309.2h0.7v0.7h-0.7zM184.4 309.0h0.7v0.7h-0.7zM176.3 308.9h0.7v0.7h-0.7zM184.3 309.7h0.7v0.7h-0.7zM156.2 310.6h0.7v0.7h-0.7zM169.9 309.8h0.7v0.7h-0.7zM181.0 309.1h0.7v0.7h-0.7zM166.6 307.2h0.7v0.7h-0.7zM164.0 307.9h0.7v0.7h-0.7zM169.7 310.4h0.7v0.7h-0.7zM185.9 310.3h0.7v0.7h-0.7zM168.0 310.7h0.7v0.7h-0.7zM158.7 309.9h0.7v0.7h-0.7zM153.3 308.6h0.7v0.7h-0.7zM156.9 310.5h0.7v0.7h-0.7zM180.5 309.4h0.7v0.7h-0.7zM176.9 310.8h0.7v0.7h-0.7zM156.5 310.6h0.7v0.7h-0.7zM185.1 309.5h0.7v0.7h-0.7zM157.8 310.7h0.7v0.7h-0.7zM187.1 308.5h0.7v0.7h-0.7zM179.2 309.3h0.7v0.7h-0.7zM177.3 309.5h0.7v0.7h-0.7zM167.7 309.4h0.7v0.7h-0.7zM182.1 308.5h0.7v0.7h-0.7zM172.4 309.4h0.7v0.7h-0.7zM186.4 309.0h0.7v0.7h-0.7zM181.1 308.0h0.7v0.7h-0.7zM175.1 310.0h0.7v0.7h-0.7zM172.8 306.8h0.7v0.7h-0.7zM155.4 310.5h0.7v0.7h-0.7zM165.4 310.3h0.7v0.7h-0.7zM148.9 310.1h0.7v0.7h-0.7zM185.5 310.4h0.7v0.7h-0.7zM159.7 310.3h0.7v0.7h-0.7zM174.7 310.0h0.7v0.7h-0.7zM154.4 310.5h0.7v0.7h-0.7zM183.0 309.1h0.7v0.7h-0.7zM163.4 309.0h0.7v0.7h-0.7zM161.4 309.7h0.7v0.7h-0.7zM152.5 308.9h0.7v0.7h-0.7zM153.0 310.1h0.7v0.7h-0.7zM169.6 309.8h0.7v0.7h-0.7zM177.2 310.1h0.7v0.7h-0.7zM185.1 308.7h0.7v0.7h-0.7zM157.0 308.9h0.7v0.7h-0.7zM166.6 308.0h0.7v0.7h-0.7zM163.9 310.2h0.7v0.7h-0.7zM167.3 310.6h0.7v0.7h-0.7zM180.8 308.0h0.7v0.7h-0.7zM154.0 310.7h0.7v0.7h-0.7zM157.7 309.8h0.7v0.7h-0.7zM175.4 310.6h0.7v0.7h-0.7zM186.9 310.7h0.7v0.7h-0.7zM172.0 308.6h0.7v0.7h-0.7zM159.8 310.4h0.7v0.7h-0.7zM169.8 310.6h0.7v0.7h-0.7zM186.9 307.7h0.7v0.7h-0.7zM176.2 309.0h0.7v0.7h-0.7zM174.4 309.3h0.7v0.7h-0.7zM166.8 309.5h0.7v0.7h-0.7zM161.9 310.0h0.7v0.7h-0.7zM171.0 308.7h0.7v0.7h-0.7zM166.3 310.6h0.7v0.7h-0.7zM183.2 310.4h0.7v0.7h-0.7zM183.2 309.3h0.7v0.7h-0.7zM175.2 310.5h0.7v0.7h-0.7zM180.0 310.7h0.7v0.7h-0.7zM167.1 310.7h0.7v0.7h-0.7zM170.6 309.6h0.7v0.7h-0.7zM178.8 309.0h0.7v0.7h-0.7zM178.9 308.5h0.7v0.7h-0.7zM159.2 307.7h0.7v0.7h-0.7zM182.8 308.7h0.7v0.7h-0.7zM170.4 310.0h0.7v0.7h-0.7zM149.8 310.3h0.7v0.7h-0.7zM183.7 310.3h0.7v0.7h-0.7zM182.2 310.7h0.7v0.7h-0.7zM171.8 310.8h0.7v0.7h-0.7zM156.8 307.7h0.7v0.7h-0.7zM157.9 310.3h0.7v0.7h-0.7zM182.3 308.1h0.7v0.7h-0.7zM155.0 308.4h0.7v0.7h-0.7zM183.9 310.3h0.7v0.7h-0.7zM178.7 310.2h0.7v0.7h-0.7zM161.9 308.5h0.7v0.7h-0.7zM182.1 310.1h0.7v0.7h-0.7zM182.4 309.8h0.7v0.7h-0.7zM169.8 309.7h0.7v0.7h-0.7zM176.3 308.8h0.7v0.7h-0.7zM157.8 310.7h0.7v0.7h-0.7zM158.1 310.7h0.7v0.7h-0.7zM165.8 310.3h0.7v0.7h-0.7zM175.0 309.4h0.7v0.7h-0.7zM167.8 310.7h0.7v0.7h-0.7zM161.2 310.2h0.7v0.7h-0.7zM153.7 310.7h0.7v0.7h-0.7zM174.7 306.3h0.7v0.7h-0.7zM170.6 308.1h0.7v0.7h-0.7zM181.5 310.0h0.7v0.7h-0.7zM162.1 309.8h0.7v0.7h-0.7zM154.4 310.3h0.7v0.7h-0.7zM153.7 309.7h0.7v0.7h-0.7zM153.3 309.8h0.7v0.7h-0.7zM173.8 309.3h0.7v0.7h-0.7zM186.1 310.6h0.7v0.7h-0.7zM174.3 307.9h0.7v0.7h-0.7zM179.4 308.5h0.7v0.7h-0.7zM179.2 309.0h0.7v0.7h-0.7zM181.2 309.2h0.7v0.7h-0.7zM160.8 310.2h0.7v0.7h-0.7zM173.9 309.4h0.7v0.7h-0.7zM167.1 309.0h0.7v0.7h-0.7zM181.2 309.3h0.7v0.7h-0.7zM177.1 310.5h0.7v0.7h-0.7zM150.8 310.5h0.7v0.7h-0.7zM184.7 310.2h0.7v0.7h-0.7zM184.5 310.4h0.7v0.7h-0.7zM157.5 310.5h0.7v0.7h-0.7zM151.1 310.0h0.7v0.7h-0.7zM160.8 308.3h0.7v0.7h-0.7zM187.2 309.5h0.7v0.7h-0.7zM149.5 308.0h0.7v0.7h-0.7zM152.0 309.0h0.7v0.7h-0.7zM183.4 310.5h0.7v0.7h-0.7zM167.8 309.3h0.7v0.7h-0.7zM175.1 308.1h0.7v0.7h-0.7zM159.4 308.8h0.7v0.7h-0.7z" fill="#333" opacity="1.0"/>
</g><g filter="url(#bl)" clip-path="url(#p3c)">
<rect x="148" y="310" width="41" height="21" fill="#555"/>
<path d="M160.2 322 Q161 319.5 165 319.8 Q168 318.5 172 319.8 Q175.5 319.5 176 322 L176.5 331 L159.8 331 Z" fill="#a8a8a8"/>
<path d="M152.9 317.1h0.8v0.8h-0.8zM149.0 323.4h0.8v0.8h-0.8zM155.8 320.5h0.8v0.8h-0.8zM156.8 320.8h0.8v0.8h-0.8zM153.4 326.7h0.8v0.8h-0.8zM152.9 325.4h0.8v0.8h-0.8zM155.9 315.0h0.8v0.8h-0.8zM152.2 319.5h0.8v0.8h-0.8zM155.1 319.2h0.8v0.8h-0.8zM154.2 319.3h0.8v0.8h-0.8zM154.2 327.4h0.8v0.8h-0.8zM149.7 323.6h0.8v0.8h-0.8zM153.4 329.8h0.8v0.8h-0.8zM151.6 318.8h0.8v0.8h-0.8zM159.2 319.3h0.8v0.8h-0.8zM152.2 319.1h0.8v0.8h-0.8zM158.6 328.7h0.8v0.8h-0.8zM151.8 313.4h0.8v0.8h-0.8zM150.3 319.2h0.8v0.8h-0.8zM152.5 328.0h0.8v0.8h-0.8zM153.0 329.0h0.8v0.8h-0.8zM150.7 323.8h0.8v0.8h-0.8zM154.9 315.7h0.8v0.8h-0.8zM153.4 324.4h0.8v0.8h-0.8zM157.6 320.8h0.8v0.8h-0.8zM152.6 312.8h0.8v0.8h-0.8zM156.0 325.4h0.8v0.8h-0.8zM149.0 328.1h0.8v0.8h-0.8zM151.5 325.5h0.8v0.8h-0.8zM154.0 319.5h0.8v0.8h-0.8zM152.8 328.1h0.8v0.8h-0.8zM149.9 323.9h0.8v0.8h-0.8zM158.9 311.9h0.8v0.8h-0.8zM152.7 311.1h0.8v0.8h-0.8zM155.5 324.1h0.8v0.8h-0.8zM157.4 321.2h0.8v0.8h-0.8zM152.5 322.4h0.8v0.8h-0.8zM153.9 321.9h0.8v0.8h-0.8zM148.7 322.7h0.8v0.8h-0.8zM156.8 319.0h0.8v0.8h-0.8zM150.1 315.6h0.8v0.8h-0.8zM148.5 318.7h0.8v0.8h-0.8zM150.3 323.1h0.8v0.8h-0.8zM157.9 321.6h0.8v0.8h-0.8zM153.9 320.5h0.8v0.8h-0.8zM151.3 323.8h0.8v0.8h-0.8zM158.5 325.8h0.8v0.8h-0.8zM156.2 316.3h0.8v0.8h-0.8zM156.2 327.3h0.8v0.8h-0.8zM151.2 315.2h0.8v0.8h-0.8zM157.5 323.5h0.8v0.8h-0.8zM149.7 317.0h0.8v0.8h-0.8zM152.5 311.1h0.8v0.8h-0.8zM159.5 318.6h0.8v0.8h-0.8zM156.0 315.5h0.8v0.8h-0.8zM152.2 326.8h0.8v0.8h-0.8zM156.2 323.9h0.8v0.8h-0.8zM154.9 327.2h0.8v0.8h-0.8zM148.5 327.3h0.8v0.8h-0.8zM158.1 326.6h0.8v0.8h-0.8zM149.1 324.0h0.8v0.8h-0.8zM159.2 314.6h0.8v0.8h-0.8zM155.9 313.0h0.8v0.8h-0.8zM149.1 313.6h0.8v0.8h-0.8zM159.7 329.0h0.8v0.8h-0.8zM148.4 314.9h0.8v0.8h-0.8zM153.4 315.6h0.8v0.8h-0.8zM151.0 312.5h0.8v0.8h-0.8zM152.9 322.5h0.8v0.8h-0.8zM154.8 314.0h0.8v0.8h-0.8zM155.0 324.3h0.8v0.8h-0.8zM153.0 327.0h0.8v0.8h-0.8zM159.3 315.0h0.8v0.8h-0.8zM154.4 313.1h0.8v0.8h-0.8zM157.0 317.9h0.8v0.8h-0.8zM155.5 314.1h0.8v0.8h-0.8zM150.9 317.5h0.8v0.8h-0.8zM158.1 325.5h0.8v0.8h-0.8zM149.0 325.1h0.8v0.8h-0.8zM150.2 326.7h0.8v0.8h-0.8zM150.0 314.5h0.8v0.8h-0.8zM155.6 314.0h0.8v0.8h-0.8zM151.5 317.4h0.8v0.8h-0.8zM154.4 322.9h0.8v0.8h-0.8zM151.3 315.0h0.8v0.8h-0.8zM157.7 328.9h0.8v0.8h-0.8zM156.6 328.9h0.8v0.8h-0.8zM152.5 317.8h0.8v0.8h-0.8zM150.1 315.1h0.8v0.8h-0.8zM157.1 324.7h0.8v0.8h-0.8zM149.0 327.7h0.8v0.8h-0.8zM159.7 326.9h0.8v0.8h-0.8zM155.8 311.1h0.8v0.8h-0.8zM149.8 312.5h0.8v0.8h-0.8zM149.6 319.8h0.8v0.8h-0.8zM148.8 314.8h0.8v0.8h-0.8zM149.5 323.5h0.8v0.8h-0.8zM152.7 326.8h0.8v0.8h-0.8zM151.4 325.8h0.8v0.8h-0.8zM150.7 313.6h0.8v0.8h-0.8zM155.6 316.3h0.8v0.8h-0.8zM157.0 322.6h0.8v0.8h-0.8zM149.3 328.3h0.8v0.8h-0.8zM159.5 317.4h0.8v0.8h-0.8zM156.1 315.5h0.8v0.8h-0.8zM152.2 328.4h0.8v0.8h-0.8zM153.3 316.4h0.8v0.8h-0.8zM157.5 329.3h0.8v0.8h-0.8zM151.3 317.3h0.8v0.8h-0.8zM149.9 327.7h0.8v0.8h-0.8zM152.2 329.2h0.8v0.8h-0.8zM157.8 325.2h0.8v0.8h-0.8zM152.8 324.0h0.8v0.8h-0.8zM148.8 315.3h0.8v0.8h-0.8zM159.6 320.4h0.8v0.8h-0.8zM149.0 321.8h0.8v0.8h-0.8zM151.6 323.5h0.8v0.8h-0.8zM158.1 327.5h0.8v0.8h-0.8zM149.4 329.2h0.8v0.8h-0.8zM157.5 311.6h0.8v0.8h-0.8zM155.5 315.3h0.8v0.8h-0.8zM154.7 312.9h0.8v0.8h-0.8zM157.9 327.5h0.8v0.8h-0.8zM152.8 315.3h0.8v0.8h-0.8zM157.8 322.4h0.8v0.8h-0.8zM158.2 320.3h0.8v0.8h-0.8zM149.0 317.1h0.8v0.8h-0.8zM152.7 318.6h0.8v0.8h-0.8zM149.1 319.4h0.8v0.8h-0.8zM158.0 313.2h0.8v0.8h-0.8zM158.3 319.2h0.8v0.8h-0.8zM153.2 321.7h0.8v0.8h-0.8zM158.9 313.2h0.8v0.8h-0.8zM159.7 316.0h0.8v0.8h-0.8zM149.4 314.9h0.8v0.8h-0.8zM149.9 323.1h0.8v0.8h-0.8zM158.7 311.7h0.8v0.8h-0.8zM158.4 321.2h0.8v0.8h-0.8zM152.1 312.0h0.8v0.8h-0.8zM155.8 318.8h0.8v0.8h-0.8zM152.3 314.1h0.8v0.8h-0.8zM155.4 311.2h0.8v0.8h-0.8zM157.4 311.7h0.8v0.8h-0.8zM158.1 328.6h0.8v0.8h-0.8zM148.4 324.7h0.8v0.8h-0.8zM152.1 319.4h0.8v0.8h-0.8zM154.5 311.6h0.8v0.8h-0.8zM159.3 315.2h0.8v0.8h-0.8zM160.0 312.8h0.8v0.8h-0.8zM153.9 311.7h0.8v0.8h-0.8zM159.3 325.3h0.8v0.8h-0.8zM149.9 324.5h0.8v0.8h-0.8zM153.8 327.0h0.8v0.8h-0.8zM157.2 327.4h0.8v0.8h-0.8zM151.5 316.3h0.8v0.8h-0.8zM151.8 319.0h0.8v0.8h-0.8zM150.1 317.3h0.8v0.8h-0.8zM150.8 317.3h0.8v0.8h-0.8zM157.4 329.8h0.8v0.8h-0.8zM153.9 312.6h0.8v0.8h-0.8zM158.3 321.7h0.8v0.8h-0.8zM151.8 319.0h0.8v0.8h-0.8zM153.1 311.9h0.8v0.8h-0.8zM153.8 313.8h0.8v0.8h-0.8zM153.6 320.3h0.8v0.8h-0.8zM148.5 312.6h0.8v0.8h-0.8zM158.1 325.1h0.8v0.8h-0.8zM153.9 326.3h0.8v0.8h-0.8zM153.6 322.6h0.8v0.8h-0.8zM159.3 324.4h0.8v0.8h-0.8zM152.7 322.8h0.8v0.8h-0.8zM157.3 328.1h0.8v0.8h-0.8zM149.0 318.7h0.8v0.8h-0.8zM158.3 312.8h0.8v0.8h-0.8zM159.8 323.9h0.8v0.8h-0.8zM159.9 327.3h0.8v0.8h-0.8zM154.2 318.1h0.8v0.8h-0.8zM159.4 318.8h0.8v0.8h-0.8zM151.5 313.7h0.8v0.8h-0.8zM155.5 327.2h0.8v0.8h-0.8zM159.0 323.4h0.8v0.8h-0.8zM156.2 323.9h0.8v0.8h-0.8zM158.2 323.6h0.8v0.8h-0.8zM154.9 319.8h0.8v0.8h-0.8zM153.5 314.0h0.8v0.8h-0.8zM151.4 327.3h0.8v0.8h-0.8zM158.9 325.3h0.8v0.8h-0.8zM149.7 323.3h0.8v0.8h-0.8zM148.7 312.6h0.8v0.8h-0.8zM159.1 325.5h0.8v0.8h-0.8zM149.3 326.9h0.8v0.8h-0.8zM159.2 321.4h0.8v0.8h-0.8zM154.8 317.2h0.8v0.8h-0.8zM155.1 320.4h0.8v0.8h-0.8zM158.8 320.0h0.8v0.8h-0.8zM158.6 324.2h0.8v0.8h-0.8zM155.3 322.2h0.8v0.8h-0.8zM148.4 323.1h0.8v0.8h-0.8zM159.7 312.3h0.8v0.8h-0.8zM156.8 314.5h0.8v0.8h-0.8zM156.9 323.8h0.8v0.8h-0.8zM149.5 324.5h0.8v0.8h-0.8zM154.6 324.9h0.8v0.8h-0.8zM156.1 313.8h0.8v0.8h-0.8zM158.5 313.4h0.8v0.8h-0.8zM156.0 326.3h0.8v0.8h-0.8zM157.2 328.8h0.8v0.8h-0.8zM151.9 329.4h0.8v0.8h-0.8zM152.5 318.4h0.8v0.8h-0.8zM156.7 316.4h0.8v0.8h-0.8zM150.4 315.2h0.8v0.8h-0.8zM158.4 326.0h0.8v0.8h-0.8zM159.3 317.7h0.8v0.8h-0.8zM152.5 315.3h0.8v0.8h-0.8zM150.2 318.7h0.8v0.8h-0.8zM148.7 314.4h0.8v0.8h-0.8zM159.7 315.3h0.8v0.8h-0.8zM154.0 327.9h0.8v0.8h-0.8zM157.4 325.5h0.8v0.8h-0.8zM151.9 312.6h0.8v0.8h-0.8zM151.8 328.9h0.8v0.8h-0.8zM158.4 324.7h0.8v0.8h-0.8zM158.0 312.4h0.8v0.8h-0.8zM152.0 314.9h0.8v0.8h-0.8zM159.5 327.1h0.8v0.8h-0.8zM148.9 312.0h0.8v0.8h-0.8zM159.2 318.2h0.8v0.8h-0.8zM150.7 325.9h0.8v0.8h-0.8zM152.0 320.4h0.8v0.8h-0.8zM154.9 325.2h0.8v0.8h-0.8zM150.0 313.8h0.8v0.8h-0.8zM156.9 317.8h0.8v0.8h-0.8zM155.8 326.5h0.8v0.8h-0.8zM156.3 319.7h0.8v0.8h-0.8zM153.2 329.6h0.8v0.8h-0.8zM149.9 316.8h0.8v0.8h-0.8zM151.3 313.0h0.8v0.8h-0.8zM152.5 316.2h0.8v0.8h-0.8zM149.6 329.6h0.8v0.8h-0.8zM152.5 312.5h0.8v0.8h-0.8zM158.7 319.8h0.8v0.8h-0.8zM156.3 323.8h0.8v0.8h-0.8zM151.9 323.7h0.8v0.8h-0.8zM151.5 329.9h0.8v0.8h-0.8zM159.5 326.6h0.8v0.8h-0.8zM159.7 318.0h0.8v0.8h-0.8zM158.0 313.9h0.8v0.8h-0.8zM158.3 323.7h0.8v0.8h-0.8zM152.4 320.3h0.8v0.8h-0.8zM148.4 326.4h0.8v0.8h-0.8zM155.9 328.9h0.8v0.8h-0.8zM153.8 317.7h0.8v0.8h-0.8zM148.8 312.0h0.8v0.8h-0.8zM159.3 326.5h0.8v0.8h-0.8zM156.5 312.9h0.8v0.8h-0.8zM156.6 313.4h0.8v0.8h-0.8zM158.0 315.5h0.8v0.8h-0.8zM154.6 326.0h0.8v0.8h-0.8zM149.7 312.5h0.8v0.8h-0.8zM152.5 312.7h0.8v0.8h-0.8z" fill="#1a1a1a" opacity="1.0"/>
<path d="M183.5 319.6h0.8v0.8h-0.8zM181.0 328.6h0.8v0.8h-0.8zM182.4 328.1h0.8v0.8h-0.8zM177.6 324.1h0.8v0.8h-0.8zM177.7 322.7h0.8v0.8h-0.8zM181.7 321.3h0.8v0.8h-0.8zM180.8 313.8h0.8v0.8h-0.8zM185.1 323.4h0.8v0.8h-0.8zM184.4 311.6h0.8v0.8h-0.8zM177.6 328.6h0.8v0.8h-0.8zM182.6 312.9h0.8v0.8h-0.8zM185.8 328.7h0.8v0.8h-0.8zM183.3 320.1h0.8v0.8h-0.8zM179.2 312.5h0.8v0.8h-0.8zM179.5 329.9h0.8v0.8h-0.8zM182.6 317.2h0.8v0.8h-0.8zM180.6 321.4h0.8v0.8h-0.8zM177.2 329.5h0.8v0.8h-0.8zM179.3 328.5h0.8v0.8h-0.8zM180.4 318.0h0.8v0.8h-0.8zM181.3 321.5h0.8v0.8h-0.8zM175.9 325.5h0.8v0.8h-0.8zM186.6 321.6h0.8v0.8h-0.8zM176.0 312.1h0.8v0.8h-0.8zM185.0 311.2h0.8v0.8h-0.8zM180.7 327.1h0.8v0.8h-0.8zM180.5 316.2h0.8v0.8h-0.8zM181.5 322.6h0.8v0.8h-0.8zM178.5 327.9h0.8v0.8h-0.8zM176.0 313.1h0.8v0.8h-0.8zM182.1 319.6h0.8v0.8h-0.8zM184.9 315.0h0.8v0.8h-0.8zM183.1 318.5h0.8v0.8h-0.8zM178.4 322.0h0.8v0.8h-0.8zM185.3 323.4h0.8v0.8h-0.8zM177.1 327.8h0.8v0.8h-0.8zM183.0 326.4h0.8v0.8h-0.8zM178.8 321.4h0.8v0.8h-0.8zM175.2 324.2h0.8v0.8h-0.8zM182.5 319.6h0.8v0.8h-0.8zM180.3 322.6h0.8v0.8h-0.8zM185.0 314.7h0.8v0.8h-0.8zM186.8 317.9h0.8v0.8h-0.8zM181.8 319.5h0.8v0.8h-0.8zM184.7 320.7h0.8v0.8h-0.8zM179.0 312.3h0.8v0.8h-0.8zM182.1 328.3h0.8v0.8h-0.8zM186.6 314.5h0.8v0.8h-0.8zM183.2 328.6h0.8v0.8h-0.8zM186.2 312.8h0.8v0.8h-0.8zM183.9 327.4h0.8v0.8h-0.8zM175.6 315.8h0.8v0.8h-0.8zM180.2 311.8h0.8v0.8h-0.8zM184.8 322.8h0.8v0.8h-0.8zM182.6 323.3h0.8v0.8h-0.8zM179.9 316.8h0.8v0.8h-0.8zM175.4 320.6h0.8v0.8h-0.8zM176.3 316.0h0.8v0.8h-0.8zM185.1 318.3h0.8v0.8h-0.8zM177.1 321.2h0.8v0.8h-0.8zM180.7 326.9h0.8v0.8h-0.8zM176.6 313.4h0.8v0.8h-0.8zM181.3 318.0h0.8v0.8h-0.8zM177.5 321.9h0.8v0.8h-0.8zM185.5 328.0h0.8v0.8h-0.8zM176.2 326.7h0.8v0.8h-0.8zM176.8 328.1h0.8v0.8h-0.8zM178.3 317.0h0.8v0.8h-0.8zM181.8 322.8h0.8v0.8h-0.8zM175.3 313.2h0.8v0.8h-0.8zM185.1 320.3h0.8v0.8h-0.8zM179.9 322.3h0.8v0.8h-0.8zM185.1 314.2h0.8v0.8h-0.8zM176.7 325.2h0.8v0.8h-0.8zM178.2 327.2h0.8v0.8h-0.8zM184.8 317.5h0.8v0.8h-0.8zM186.1 328.8h0.8v0.8h-0.8zM178.9 312.4h0.8v0.8h-0.8zM179.0 322.7h0.8v0.8h-0.8zM178.0 319.7h0.8v0.8h-0.8zM184.2 313.8h0.8v0.8h-0.8zM178.7 317.2h0.8v0.8h-0.8zM176.2 317.8h0.8v0.8h-0.8zM175.6 326.6h0.8v0.8h-0.8zM178.4 327.2h0.8v0.8h-0.8zM177.4 325.3h0.8v0.8h-0.8zM179.3 315.3h0.8v0.8h-0.8zM175.4 323.4h0.8v0.8h-0.8zM178.2 321.3h0.8v0.8h-0.8zM180.9 313.0h0.8v0.8h-0.8zM182.7 312.1h0.8v0.8h-0.8zM179.5 325.8h0.8v0.8h-0.8zM180.4 324.9h0.8v0.8h-0.8zM182.9 315.3h0.8v0.8h-0.8zM182.0 327.1h0.8v0.8h-0.8zM184.3 326.7h0.8v0.8h-0.8zM184.5 324.8h0.8v0.8h-0.8zM176.9 315.5h0.8v0.8h-0.8zM176.4 326.6h0.8v0.8h-0.8zM179.8 320.9h0.8v0.8h-0.8zM183.7 323.2h0.8v0.8h-0.8zM186.9 319.6h0.8v0.8h-0.8zM177.4 313.8h0.8v0.8h-0.8zM179.4 321.7h0.8v0.8h-0.8zM185.4 319.6h0.8v0.8h-0.8zM182.9 319.8h0.8v0.8h-0.8zM184.7 319.6h0.8v0.8h-0.8zM175.9 329.0h0.8v0.8h-0.8zM178.6 314.4h0.8v0.8h-0.8zM177.7 313.1h0.8v0.8h-0.8zM181.2 323.8h0.8v0.8h-0.8zM183.3 311.8h0.8v0.8h-0.8zM179.3 316.1h0.8v0.8h-0.8zM179.4 328.5h0.8v0.8h-0.8zM179.2 326.9h0.8v0.8h-0.8zM184.0 324.5h0.8v0.8h-0.8zM180.0 324.1h0.8v0.8h-0.8zM185.3 327.9h0.8v0.8h-0.8zM179.5 320.6h0.8v0.8h-0.8zM183.4 318.7h0.8v0.8h-0.8zM175.3 321.5h0.8v0.8h-0.8zM182.5 327.6h0.8v0.8h-0.8zM185.1 318.7h0.8v0.8h-0.8zM186.3 326.7h0.8v0.8h-0.8zM177.3 314.5h0.8v0.8h-0.8zM186.6 313.9h0.8v0.8h-0.8zM181.1 317.6h0.8v0.8h-0.8zM180.4 329.9h0.8v0.8h-0.8zM176.9 322.7h0.8v0.8h-0.8zM185.9 321.3h0.8v0.8h-0.8zM178.6 325.2h0.8v0.8h-0.8zM186.2 316.0h0.8v0.8h-0.8zM185.3 329.3h0.8v0.8h-0.8zM177.9 321.4h0.8v0.8h-0.8zM186.0 312.6h0.8v0.8h-0.8zM186.1 326.9h0.8v0.8h-0.8zM177.6 317.5h0.8v0.8h-0.8zM182.6 324.9h0.8v0.8h-0.8zM186.5 317.1h0.8v0.8h-0.8zM184.3 319.4h0.8v0.8h-0.8zM179.9 329.5h0.8v0.8h-0.8zM175.2 318.6h0.8v0.8h-0.8zM180.4 324.2h0.8v0.8h-0.8zM176.1 326.2h0.8v0.8h-0.8zM183.0 312.4h0.8v0.8h-0.8zM182.3 312.7h0.8v0.8h-0.8zM177.1 312.5h0.8v0.8h-0.8zM179.3 321.4h0.8v0.8h-0.8zM183.4 328.7h0.8v0.8h-0.8zM183.6 323.3h0.8v0.8h-0.8zM185.3 311.0h0.8v0.8h-0.8zM177.6 321.6h0.8v0.8h-0.8zM176.4 320.9h0.8v0.8h-0.8zM175.6 318.9h0.8v0.8h-0.8zM183.5 328.9h0.8v0.8h-0.8zM176.2 323.7h0.8v0.8h-0.8zM183.9 316.4h0.8v0.8h-0.8zM181.3 323.5h0.8v0.8h-0.8zM186.5 311.6h0.8v0.8h-0.8zM185.9 314.2h0.8v0.8h-0.8zM179.9 323.7h0.8v0.8h-0.8zM183.3 322.1h0.8v0.8h-0.8zM178.4 316.5h0.8v0.8h-0.8zM178.1 328.2h0.8v0.8h-0.8zM179.4 328.3h0.8v0.8h-0.8zM177.2 321.8h0.8v0.8h-0.8zM176.7 313.7h0.8v0.8h-0.8zM176.7 318.4h0.8v0.8h-0.8zM187.0 318.8h0.8v0.8h-0.8zM177.1 312.3h0.8v0.8h-0.8zM181.4 314.8h0.8v0.8h-0.8zM183.9 326.8h0.8v0.8h-0.8zM182.2 314.3h0.8v0.8h-0.8zM179.8 319.1h0.8v0.8h-0.8zM184.8 317.4h0.8v0.8h-0.8zM177.9 325.2h0.8v0.8h-0.8zM182.5 325.3h0.8v0.8h-0.8zM185.3 317.9h0.8v0.8h-0.8zM183.4 312.7h0.8v0.8h-0.8zM179.9 311.5h0.8v0.8h-0.8zM178.1 318.9h0.8v0.8h-0.8zM184.5 315.6h0.8v0.8h-0.8zM186.7 318.4h0.8v0.8h-0.8zM185.1 313.3h0.8v0.8h-0.8zM178.9 317.4h0.8v0.8h-0.8zM186.1 324.3h0.8v0.8h-0.8zM180.1 318.4h0.8v0.8h-0.8zM182.5 327.2h0.8v0.8h-0.8zM186.3 312.8h0.8v0.8h-0.8zM180.2 315.0h0.8v0.8h-0.8zM180.0 329.1h0.8v0.8h-0.8zM180.5 314.5h0.8v0.8h-0.8zM176.6 313.2h0.8v0.8h-0.8zM186.5 317.2h0.8v0.8h-0.8zM186.6 329.5h0.8v0.8h-0.8zM183.6 324.8h0.8v0.8h-0.8zM182.7 314.4h0.8v0.8h-0.8zM175.5 315.5h0.8v0.8h-0.8zM176.7 317.0h0.8v0.8h-0.8zM186.4 322.7h0.8v0.8h-0.8zM178.3 316.8h0.8v0.8h-0.8zM179.0 312.2h0.8v0.8h-0.8zM183.4 318.6h0.8v0.8h-0.8zM179.9 314.0h0.8v0.8h-0.8zM177.6 316.2h0.8v0.8h-0.8zM186.1 319.1h0.8v0.8h-0.8zM183.2 319.1h0.8v0.8h-0.8zM181.2 325.1h0.8v0.8h-0.8zM184.9 311.4h0.8v0.8h-0.8zM185.5 318.3h0.8v0.8h-0.8zM180.3 326.5h0.8v0.8h-0.8zM184.7 325.1h0.8v0.8h-0.8zM177.7 322.5h0.8v0.8h-0.8zM176.1 321.1h0.8v0.8h-0.8zM183.3 320.6h0.8v0.8h-0.8zM182.2 314.9h0.8v0.8h-0.8zM182.1 313.4h0.8v0.8h-0.8zM176.5 325.4h0.8v0.8h-0.8zM179.7 315.5h0.8v0.8h-0.8zM184.4 325.2h0.8v0.8h-0.8zM185.2 320.3h0.8v0.8h-0.8zM180.1 313.6h0.8v0.8h-0.8zM182.2 322.8h0.8v0.8h-0.8zM178.7 318.1h0.8v0.8h-0.8zM186.4 314.0h0.8v0.8h-0.8zM178.2 312.5h0.8v0.8h-0.8zM175.8 325.2h0.8v0.8h-0.8zM178.0 318.0h0.8v0.8h-0.8zM186.3 314.4h0.8v0.8h-0.8zM179.3 321.0h0.8v0.8h-0.8zM182.6 322.9h0.8v0.8h-0.8zM184.9 314.0h0.8v0.8h-0.8zM176.3 311.3h0.8v0.8h-0.8zM178.6 319.4h0.8v0.8h-0.8zM177.2 327.8h0.8v0.8h-0.8zM180.2 322.2h0.8v0.8h-0.8zM182.9 314.4h0.8v0.8h-0.8zM182.0 317.9h0.8v0.8h-0.8zM183.0 325.5h0.8v0.8h-0.8zM180.0 315.5h0.8v0.8h-0.8z" fill="#1a1a1a" opacity="1.0"/>
<path d="M163.9 317.6h0.8v0.8h-0.8zM171.0 311.6h0.8v0.8h-0.8zM166.2 318.9h0.8v0.8h-0.8zM164.0 316.4h0.8v0.8h-0.8zM170.8 317.0h0.8v0.8h-0.8zM162.5 317.2h0.8v0.8h-0.8zM162.1 317.8h0.8v0.8h-0.8zM168.7 316.8h0.8v0.8h-0.8zM164.5 317.1h0.8v0.8h-0.8zM165.6 315.2h0.8v0.8h-0.8zM161.5 319.2h0.8v0.8h-0.8zM163.3 316.0h0.8v0.8h-0.8zM165.1 312.2h0.8v0.8h-0.8zM170.6 311.6h0.8v0.8h-0.8zM165.9 317.7h0.8v0.8h-0.8zM164.9 316.5h0.8v0.8h-0.8zM161.7 316.2h0.8v0.8h-0.8zM168.9 315.0h0.8v0.8h-0.8zM170.7 317.8h0.8v0.8h-0.8zM169.4 313.6h0.8v0.8h-0.8zM173.3 317.7h0.8v0.8h-0.8zM172.5 317.2h0.8v0.8h-0.8zM170.8 312.4h0.8v0.8h-0.8zM173.7 314.1h0.8v0.8h-0.8zM161.0 311.5h0.8v0.8h-0.8zM162.7 311.2h0.8v0.8h-0.8zM163.0 313.6h0.8v0.8h-0.8zM162.8 314.2h0.8v0.8h-0.8zM162.6 311.5h0.8v0.8h-0.8zM166.3 315.0h0.8v0.8h-0.8zM168.4 312.4h0.8v0.8h-0.8zM172.1 312.5h0.8v0.8h-0.8zM167.5 315.5h0.8v0.8h-0.8zM171.2 315.0h0.8v0.8h-0.8zM171.6 316.4h0.8v0.8h-0.8zM167.7 317.4h0.8v0.8h-0.8zM173.1 316.7h0.8v0.8h-0.8zM163.4 311.3h0.8v0.8h-0.8zM173.5 318.6h0.8v0.8h-0.8zM166.3 318.6h0.8v0.8h-0.8zM173.9 313.3h0.8v0.8h-0.8zM170.4 315.1h0.8v0.8h-0.8zM161.1 311.7h0.8v0.8h-0.8zM170.9 315.6h0.8v0.8h-0.8zM166.2 311.8h0.8v0.8h-0.8zM162.4 312.1h0.8v0.8h-0.8zM170.0 316.0h0.8v0.8h-0.8zM164.2 314.5h0.8v0.8h-0.8zM171.0 315.1h0.8v0.8h-0.8zM164.9 315.5h0.8v0.8h-0.8zM170.4 316.4h0.8v0.8h-0.8zM163.1 318.6h0.8v0.8h-0.8zM165.4 317.7h0.8v0.8h-0.8zM170.4 314.5h0.8v0.8h-0.8zM163.9 318.2h0.8v0.8h-0.8zM170.1 312.7h0.8v0.8h-0.8zM169.1 312.1h0.8v0.8h-0.8zM172.4 317.4h0.8v0.8h-0.8zM170.2 317.4h0.8v0.8h-0.8zM173.3 314.3h0.8v0.8h-0.8zM166.4 316.4h0.8v0.8h-0.8zM165.7 315.8h0.8v0.8h-0.8zM170.8 318.8h0.8v0.8h-0.8zM172.5 318.5h0.8v0.8h-0.8zM172.3 312.4h0.8v0.8h-0.8zM173.4 313.7h0.8v0.8h-0.8zM171.2 313.0h0.8v0.8h-0.8zM167.1 314.2h0.8v0.8h-0.8zM170.4 314.1h0.8v0.8h-0.8zM172.6 311.4h0.8v0.8h-0.8zM163.2 315.3h0.8v0.8h-0.8zM167.1 315.2h0.8v0.8h-0.8zM164.3 314.0h0.8v0.8h-0.8zM173.8 317.0h0.8v0.8h-0.8zM165.7 319.0h0.8v0.8h-0.8zM173.8 313.2h0.8v0.8h-0.8zM165.7 313.2h0.8v0.8h-0.8zM174.0 314.9h0.8v0.8h-0.8zM160.9 317.5h0.8v0.8h-0.8zM173.7 315.3h0.8v0.8h-0.8zM171.8 318.4h0.8v0.8h-0.8zM162.6 316.6h0.8v0.8h-0.8zM172.3 316.7h0.8v0.8h-0.8zM164.9 318.8h0.8v0.8h-0.8zM164.7 314.4h0.8v0.8h-0.8zM161.1 312.0h0.8v0.8h-0.8zM164.9 311.2h0.8v0.8h-0.8zM162.5 312.6h0.8v0.8h-0.8zM172.6 319.2h0.8v0.8h-0.8zM169.0 312.8h0.8v0.8h-0.8zM171.0 316.2h0.8v0.8h-0.8zM170.2 317.9h0.8v0.8h-0.8zM166.4 318.4h0.8v0.8h-0.8zM168.1 313.8h0.8v0.8h-0.8zM165.1 318.7h0.8v0.8h-0.8zM163.3 318.0h0.8v0.8h-0.8zM170.1 311.0h0.8v0.8h-0.8zM172.3 312.2h0.8v0.8h-0.8zM163.0 316.1h0.8v0.8h-0.8zM172.1 314.6h0.8v0.8h-0.8zM172.5 317.7h0.8v0.8h-0.8zM164.9 317.3h0.8v0.8h-0.8zM171.3 315.3h0.8v0.8h-0.8zM169.5 315.6h0.8v0.8h-0.8zM162.1 314.8h0.8v0.8h-0.8zM171.3 311.5h0.8v0.8h-0.8zM164.4 314.7h0.8v0.8h-0.8zM163.4 317.6h0.8v0.8h-0.8zM165.6 313.0h0.8v0.8h-0.8zM171.4 316.8h0.8v0.8h-0.8zM162.0 317.4h0.8v0.8h-0.8zM161.2 311.9h0.8v0.8h-0.8zM168.3 317.1h0.8v0.8h-0.8zM164.0 318.6h0.8v0.8h-0.8zM172.4 317.6h0.8v0.8h-0.8zM164.2 313.4h0.8v0.8h-0.8zM170.2 316.4h0.8v0.8h-0.8zM170.2 318.3h0.8v0.8h-0.8zM172.3 312.4h0.8v0.8h-0.8zM160.8 315.7h0.8v0.8h-0.8z" fill="#222" opacity="1.0"/>
<path d="M177.5 312.9h0.7v0.7h-0.7zM159.0 326.6h0.7v0.7h-0.7zM181.2 322.9h0.7v0.7h-0.7zM184.2 316.4h0.7v0.7h-0.7zM165.1 313.2h0.7v0.7h-0.7zM184.4 322.6h0.7v0.7h-0.7zM178.3 315.8h0.7v0.7h-0.7zM175.7 329.7h0.7v0.7h-0.7zM187.0 323.7h0.7v0.7h-0.7zM167.0 328.6h0.7v0.7h-0.7zM162.5 314.4h0.7v0.7h-0.7zM159.1 321.9h0.7v0.7h-0.7zM148.8 322.4h0.7v0.7h-0.7zM174.0 329.9h0.7v0.7h-0.7zM157.0 312.9h0.7v0.7h-0.7zM160.8 314.5h0.7v0.7h-0.7zM156.7 311.1h0.7v0.7h-0.7zM159.4 314.4h0.7v0.7h-0.7zM165.7 324.7h0.7v0.7h-0.7zM173.6 322.5h0.7v0.7h-0.7zM154.3 318.7h0.7v0.7h-0.7zM175.9 326.4h0.7v0.7h-0.7zM152.7 322.8h0.7v0.7h-0.7zM184.7 327.6h0.7v0.7h-0.7zM159.8 328.8h0.7v0.7h-0.7zM183.2 325.7h0.7v0.7h-0.7zM177.6 328.0h0.7v0.7h-0.7zM157.7 317.1h0.7v0.7h-0.7zM163.1 318.4h0.7v0.7h-0.7zM153.3 318.1h0.7v0.7h-0.7zM179.5 329.4h0.7v0.7h-0.7zM175.8 320.3h0.7v0.7h-0.7zM155.4 325.7h0.7v0.7h-0.7zM156.6 329.7h0.7v0.7h-0.7zM179.3 328.4h0.7v0.7h-0.7zM166.6 311.4h0.7v0.7h-0.7zM155.1 316.9h0.7v0.7h-0.7zM168.4 320.9h0.7v0.7h-0.7zM182.9 315.4h0.7v0.7h-0.7zM174.3 319.4h0.7v0.7h-0.7zM168.3 329.8h0.7v0.7h-0.7zM163.4 320.9h0.7v0.7h-0.7zM163.8 327.0h0.7v0.7h-0.7zM161.4 318.1h0.7v0.7h-0.7zM149.5 320.4h0.7v0.7h-0.7zM159.8 326.7h0.7v0.7h-0.7zM178.1 324.3h0.7v0.7h-0.7zM181.6 324.4h0.7v0.7h-0.7zM170.8 316.6h0.7v0.7h-0.7zM148.8 311.5h0.7v0.7h-0.7zM172.8 326.4h0.7v0.7h-0.7zM155.2 320.9h0.7v0.7h-0.7zM160.0 327.7h0.7v0.7h-0.7zM176.2 313.4h0.7v0.7h-0.7zM161.1 325.2h0.7v0.7h-0.7zM180.1 315.8h0.7v0.7h-0.7zM173.8 325.7h0.7v0.7h-0.7zM178.7 314.6h0.7v0.7h-0.7zM155.6 325.4h0.7v0.7h-0.7zM163.2 326.7h0.7v0.7h-0.7zM181.5 323.6h0.7v0.7h-0.7zM172.6 315.9h0.7v0.7h-0.7zM180.6 324.2h0.7v0.7h-0.7zM153.1 327.2h0.7v0.7h-0.7zM182.9 318.3h0.7v0.7h-0.7zM149.1 323.7h0.7v0.7h-0.7zM150.1 324.2h0.7v0.7h-0.7zM160.4 311.0h0.7v0.7h-0.7zM153.2 322.9h0.7v0.7h-0.7zM158.7 328.3h0.7v0.7h-0.7zM156.0 314.6h0.7v0.7h-0.7zM155.2 327.2h0.7v0.7h-0.7zM174.8 328.3h0.7v0.7h-0.7zM174.8 319.4h0.7v0.7h-0.7zM151.4 320.1h0.7v0.7h-0.7zM177.9 321.4h0.7v0.7h-0.7zM148.7 312.1h0.7v0.7h-0.7zM175.8 314.0h0.7v0.7h-0.7zM150.5 312.5h0.7v0.7h-0.7zM150.7 317.6h0.7v0.7h-0.7zM154.6 329.0h0.7v0.7h-0.7zM151.9 326.4h0.7v0.7h-0.7zM168.6 315.7h0.7v0.7h-0.7zM152.3 328.0h0.7v0.7h-0.7zM149.4 311.6h0.7v0.7h-0.7zM169.2 322.4h0.7v0.7h-0.7zM167.4 313.9h0.7v0.7h-0.7zM159.3 320.5h0.7v0.7h-0.7zM181.1 313.4h0.7v0.7h-0.7zM167.2 326.4h0.7v0.7h-0.7zM178.4 315.2h0.7v0.7h-0.7zM153.0 322.0h0.7v0.7h-0.7zM182.8 317.4h0.7v0.7h-0.7zM160.8 328.9h0.7v0.7h-0.7zM182.2 322.0h0.7v0.7h-0.7zM178.8 325.1h0.7v0.7h-0.7zM166.4 329.6h0.7v0.7h-0.7zM181.7 318.3h0.7v0.7h-0.7zM150.9 326.0h0.7v0.7h-0.7zM167.9 313.3h0.7v0.7h-0.7zM170.7 321.8h0.7v0.7h-0.7zM155.1 316.7h0.7v0.7h-0.7zM181.4 313.7h0.7v0.7h-0.7zM171.5 327.1h0.7v0.7h-0.7zM151.8 322.6h0.7v0.7h-0.7zM167.4 317.4h0.7v0.7h-0.7zM172.7 318.7h0.7v0.7h-0.7zM155.8 319.6h0.7v0.7h-0.7zM161.7 319.4h0.7v0.7h-0.7zM178.9 315.1h0.7v0.7h-0.7zM185.3 325.5h0.7v0.7h-0.7zM182.9 313.9h0.7v0.7h-0.7zM186.1 318.0h0.7v0.7h-0.7zM161.1 316.8h0.7v0.7h-0.7zM183.2 315.4h0.7v0.7h-0.7zM154.9 324.0h0.7v0.7h-0.7zM175.7 328.3h0.7v0.7h-0.7zM171.7 320.6h0.7v0.7h-0.7zM184.1 327.3h0.7v0.7h-0.7zM166.7 317.7h0.7v0.7h-0.7zM170.2 322.4h0.7v0.7h-0.7zM185.7 320.9h0.7v0.7h-0.7zM161.8 314.5h0.7v0.7h-0.7zM176.8 323.3h0.7v0.7h-0.7zM181.3 326.4h0.7v0.7h-0.7zM174.3 325.3h0.7v0.7h-0.7zM168.4 314.6h0.7v0.7h-0.7zM186.2 325.1h0.7v0.7h-0.7zM187.0 327.2h0.7v0.7h-0.7zM164.8 323.7h0.7v0.7h-0.7zM182.2 326.5h0.7v0.7h-0.7zM175.9 319.6h0.7v0.7h-0.7zM184.3 321.2h0.7v0.7h-0.7zM169.6 320.7h0.7v0.7h-0.7zM152.2 322.8h0.7v0.7h-0.7zM178.8 318.8h0.7v0.7h-0.7zM153.8 320.6h0.7v0.7h-0.7zM171.2 315.5h0.7v0.7h-0.7zM154.3 318.5h0.7v0.7h-0.7zM154.7 320.0h0.7v0.7h-0.7zM151.1 322.2h0.7v0.7h-0.7zM179.6 324.4h0.7v0.7h-0.7zM177.6 318.9h0.7v0.7h-0.7zM158.3 314.6h0.7v0.7h-0.7zM178.3 317.3h0.7v0.7h-0.7zM153.0 327.1h0.7v0.7h-0.7zM156.5 317.5h0.7v0.7h-0.7zM169.1 323.2h0.7v0.7h-0.7zM153.0 328.6h0.7v0.7h-0.7zM180.6 328.1h0.7v0.7h-0.7zM180.0 322.9h0.7v0.7h-0.7zM157.6 320.1h0.7v0.7h-0.7zM156.0 314.0h0.7v0.7h-0.7zM177.6 324.7h0.7v0.7h-0.7zM170.5 317.3h0.7v0.7h-0.7zM163.3 321.2h0.7v0.7h-0.7zM179.6 315.1h0.7v0.7h-0.7zM154.2 328.7h0.7v0.7h-0.7zM151.1 323.0h0.7v0.7h-0.7zM150.1 324.6h0.7v0.7h-0.7zM164.3 317.4h0.7v0.7h-0.7zM164.1 311.6h0.7v0.7h-0.7zM168.4 327.6h0.7v0.7h-0.7zM187.3 327.4h0.7v0.7h-0.7zM172.5 315.0h0.7v0.7h-0.7zM157.8 328.9h0.7v0.7h-0.7zM156.5 323.4h0.7v0.7h-0.7zM161.8 315.2h0.7v0.7h-0.7zM161.5 327.4h0.7v0.7h-0.7zM173.9 312.0h0.7v0.7h-0.7zM157.5 328.3h0.7v0.7h-0.7zM164.0 320.9h0.7v0.7h-0.7zM165.6 317.6h0.7v0.7h-0.7zM162.1 325.4h0.7v0.7h-0.7zM185.8 326.5h0.7v0.7h-0.7zM171.9 329.0h0.7v0.7h-0.7zM164.5 322.6h0.7v0.7h-0.7zM176.1 313.4h0.7v0.7h-0.7zM162.2 314.5h0.7v0.7h-0.7zM151.6 319.9h0.7v0.7h-0.7zM154.7 313.0h0.7v0.7h-0.7zM172.9 321.5h0.7v0.7h-0.7zM170.5 312.5h0.7v0.7h-0.7zM179.2 315.6h0.7v0.7h-0.7zM155.2 311.3h0.7v0.7h-0.7zM152.6 317.8h0.7v0.7h-0.7zM151.6 313.2h0.7v0.7h-0.7zM170.1 325.3h0.7v0.7h-0.7zM153.6 311.2h0.7v0.7h-0.7zM161.8 326.6h0.7v0.7h-0.7zM185.3 321.0h0.7v0.7h-0.7zM181.7 328.4h0.7v0.7h-0.7zM149.5 319.9h0.7v0.7h-0.7zM174.8 319.1h0.7v0.7h-0.7zM180.1 317.1h0.7v0.7h-0.7zM177.7 313.3h0.7v0.7h-0.7zM180.9 328.6h0.7v0.7h-0.7zM187.3 314.6h0.7v0.7h-0.7zM153.5 321.5h0.7v0.7h-0.7zM167.7 329.6h0.7v0.7h-0.7zM168.9 317.8h0.7v0.7h-0.7zM158.4 315.0h0.7v0.7h-0.7zM182.5 321.9h0.7v0.7h-0.7zM149.1 327.9h0.7v0.7h-0.7zM182.1 314.5h0.7v0.7h-0.7zM159.5 325.9h0.7v0.7h-0.7zM163.5 322.5h0.7v0.7h-0.7zM152.6 323.0h0.7v0.7h-0.7zM149.7 311.9h0.7v0.7h-0.7zM171.1 326.9h0.7v0.7h-0.7zM156.1 313.3h0.7v0.7h-0.7zM153.0 321.3h0.7v0.7h-0.7zM148.5 313.8h0.7v0.7h-0.7zM149.7 325.0h0.7v0.7h-0.7zM156.3 327.3h0.7v0.7h-0.7zM175.8 316.0h0.7v0.7h-0.7zM148.4 315.8h0.7v0.7h-0.7zM183.0 323.0h0.7v0.7h-0.7zM162.5 317.3h0.7v0.7h-0.7zM180.4 314.7h0.7v0.7h-0.7zM186.5 317.3h0.7v0.7h-0.7zM157.6 314.1h0.7v0.7h-0.7zM152.0 326.4h0.7v0.7h-0.7zM172.9 324.1h0.7v0.7h-0.7zM177.5 324.9h0.7v0.7h-0.7zM167.3 311.1h0.7v0.7h-0.7zM184.3 314.4h0.7v0.7h-0.7zM170.0 316.5h0.7v0.7h-0.7zM158.5 328.8h0.7v0.7h-0.7zM186.0 329.5h0.7v0.7h-0.7zM150.6 316.7h0.7v0.7h-0.7zM152.2 312.6h0.7v0.7h-0.7zM167.1 317.7h0.7v0.7h-0.7zM169.4 311.4h0.7v0.7h-0.7zM161.9 319.3h0.7v0.7h-0.7zM176.9 320.9h0.7v0.7h-0.7zM150.2 315.6h0.7v0.7h-0.7zM172.1 315.6h0.7v0.7h-0.7zM158.2 323.1h0.7v0.7h-0.7zM181.9 324.5h0.7v0.7h-0.7zM174.6 326.4h0.7v0.7h-0.7zM184.4 312.5h0.7v0.7h-0.7zM163.5 315.2h0.7v0.7h-0.7zM158.6 328.7h0.7v0.7h-0.7zM150.1 317.8h0.7v0.7h-0.7zM187.0 327.5h0.7v0.7h-0.7zM174.2 329.4h0.7v0.7h-0.7zM148.7 329.2h0.7v0.7h-0.7zM149.5 320.3h0.7v0.7h-0.7zM169.2 313.0h0.7v0.7h-0.7zM177.6 327.9h0.7v0.7h-0.7zM170.4 325.9h0.7v0.7h-0.7zM156.6 315.5h0.7v0.7h-0.7zM155.4 326.4h0.7v0.7h-0.7zM176.2 327.0h0.7v0.7h-0.7zM150.0 311.8h0.7v0.7h-0.7zM149.5 324.2h0.7v0.7h-0.7zM181.6 314.3h0.7v0.7h-0.7zM159.6 325.5h0.7v0.7h-0.7zM176.4 327.8h0.7v0.7h-0.7z" fill="#999" opacity="1.0"/>
<path d="M168.0 325.9h0.7v0.7h-0.7zM162.8 321.8h0.7v0.7h-0.7zM166.1 320.2h0.7v0.7h-0.7zM167.4 325.4h0.7v0.7h-0.7zM164.5 323.5h0.7v0.7h-0.7zM164.3 325.9h0.7v0.7h-0.7zM169.3 324.1h0.7v0.7h-0.7zM163.5 325.5h0.7v0.7h-0.7zM160.4 328.7h0.7v0.7h-0.7zM168.3 326.5h0.7v0.7h-0.7zM175.2 326.9h0.7v0.7h-0.7zM169.2 323.6h0.7v0.7h-0.7zM168.7 327.4h0.7v0.7h-0.7zM167.5 328.7h0.7v0.7h-0.7zM165.7 323.4h0.7v0.7h-0.7zM161.2 325.2h0.7v0.7h-0.7zM167.5 325.3h0.7v0.7h-0.7zM170.3 327.2h0.7v0.7h-0.7zM165.1 325.2h0.7v0.7h-0.7zM170.3 324.4h0.7v0.7h-0.7zM164.3 328.8h0.7v0.7h-0.7zM165.3 322.5h0.7v0.7h-0.7zM170.7 327.6h0.7v0.7h-0.7zM174.7 323.7h0.7v0.7h-0.7zM167.7 324.0h0.7v0.7h-0.7zM167.0 329.3h0.7v0.7h-0.7zM169.4 328.4h0.7v0.7h-0.7zM167.0 326.4h0.7v0.7h-0.7zM170.1 321.2h0.7v0.7h-0.7zM160.6 323.9h0.7v0.7h-0.7zM173.3 323.4h0.7v0.7h-0.7zM174.7 329.8h0.7v0.7h-0.7zM163.5 326.1h0.7v0.7h-0.7zM165.9 324.0h0.7v0.7h-0.7zM168.9 325.3h0.7v0.7h-0.7zM167.8 328.3h0.7v0.7h-0.7zM167.5 320.3h0.7v0.7h-0.7zM168.8 327.9h0.7v0.7h-0.7zM161.8 327.8h0.7v0.7h-0.7zM174.7 326.7h0.7v0.7h-0.7zM165.5 328.6h0.7v0.7h-0.7zM171.8 328.6h0.7v0.7h-0.7zM172.4 324.0h0.7v0.7h-0.7zM174.4 323.9h0.7v0.7h-0.7zM166.8 327.2h0.7v0.7h-0.7zM167.8 329.0h0.7v0.7h-0.7zM168.3 325.4h0.7v0.7h-0.7zM162.0 322.6h0.7v0.7h-0.7zM163.0 321.0h0.7v0.7h-0.7zM175.0 327.4h0.7v0.7h-0.7zM160.2 324.7h0.7v0.7h-0.7zM165.4 323.1h0.7v0.7h-0.7zM172.2 329.3h0.7v0.7h-0.7zM175.0 324.6h0.7v0.7h-0.7zM169.0 327.6h0.7v0.7h-0.7zM166.4 329.2h0.7v0.7h-0.7zM164.4 321.2h0.7v0.7h-0.7zM168.7 321.7h0.7v0.7h-0.7zM170.1 324.0h0.7v0.7h-0.7zM161.7 325.1h0.7v0.7h-0.7zM165.9 325.2h0.7v0.7h-0.7zM161.9 324.4h0.7v0.7h-0.7zM169.5 328.5h0.7v0.7h-0.7zM168.5 325.8h0.7v0.7h-0.7zM165.2 324.4h0.7v0.7h-0.7zM161.7 327.7h0.7v0.7h-0.7zM164.4 326.1h0.7v0.7h-0.7zM163.8 324.9h0.7v0.7h-0.7zM168.0 329.2h0.7v0.7h-0.7zM171.7 325.0h0.7v0.7h-0.7zM170.5 328.1h0.7v0.7h-0.7zM169.4 326.9h0.7v0.7h-0.7zM160.4 327.6h0.7v0.7h-0.7zM164.6 322.9h0.7v0.7h-0.7zM170.8 330.0h0.7v0.7h-0.7zM169.5 326.0h0.7v0.7h-0.7zM166.9 324.5h0.7v0.7h-0.7zM167.4 328.1h0.7v0.7h-0.7zM170.7 324.0h0.7v0.7h-0.7zM162.4 327.5h0.7v0.7h-0.7zM174.5 328.4h0.7v0.7h-0.7zM167.0 326.7h0.7v0.7h-0.7zM165.9 329.3h0.7v0.7h-0.7zM168.4 328.4h0.7v0.7h-0.7zM170.7 325.0h0.7v0.7h-0.7zM169.5 321.3h0.7v0.7h-0.7zM170.0 329.3h0.7v0.7h-0.7zM165.0 328.4h0.7v0.7h-0.7zM163.6 326.5h0.7v0.7h-0.7zM162.2 328.7h0.7v0.7h-0.7zM169.6 327.4h0.7v0.7h-0.7zM162.0 325.7h0.7v0.7h-0.7zM166.7 324.3h0.7v0.7h-0.7zM170.8 323.3h0.7v0.7h-0.7zM172.9 328.5h0.7v0.7h-0.7zM162.9 320.7h0.7v0.7h-0.7zM164.7 328.9h0.7v0.7h-0.7zM168.2 324.6h0.7v0.7h-0.7zM167.5 320.2h0.7v0.7h-0.7zM169.7 325.6h0.7v0.7h-0.7zM167.2 323.6h0.7v0.7h-0.7zM171.6 323.5h0.7v0.7h-0.7zM166.3 325.9h0.7v0.7h-0.7zM167.2 321.2h0.7v0.7h-0.7zM164.1 327.5h0.7v0.7h-0.7zM169.3 325.1h0.7v0.7h-0.7zM168.9 322.1h0.7v0.7h-0.7zM169.2 326.0h0.7v0.7h-0.7zM172.1 327.3h0.7v0.7h-0.7zM169.6 328.2h0.7v0.7h-0.7zM166.5 325.6h0.7v0.7h-0.7zM172.8 328.0h0.7v0.7h-0.7zM163.8 325.9h0.7v0.7h-0.7zM165.5 322.2h0.7v0.7h-0.7zM161.0 322.4h0.7v0.7h-0.7zM161.0 324.6h0.7v0.7h-0.7zM173.5 322.4h0.7v0.7h-0.7zM163.3 325.6h0.7v0.7h-0.7zM170.4 327.1h0.7v0.7h-0.7zM167.1 329.2h0.7v0.7h-0.7zM164.7 324.6h0.7v0.7h-0.7zM173.5 326.0h0.7v0.7h-0.7zM170.2 328.8h0.7v0.7h-0.7zM170.2 325.5h0.7v0.7h-0.7zM166.1 327.2h0.7v0.7h-0.7zM171.9 327.6h0.7v0.7h-0.7zM169.4 322.9h0.7v0.7h-0.7zM165.7 328.6h0.7v0.7h-0.7zM170.7 321.8h0.7v0.7h-0.7zM172.7 327.7h0.7v0.7h-0.7zM161.7 326.8h0.7v0.7h-0.7z" fill="#5a5a5a" opacity="0.8"/>
</g></g>
<text x="234.70" y="285.30" font-size="7.3" font-weight="normal" text-anchor="middle" fill="#111" stroke="#111" stroke-width="0.2">Normal BMPC</text>
<rect x="211.7" y="289.7" width="45.80000000000001" height="40.60000000000002" fill="none" stroke="#444" stroke-width="0.7"/>
<line x1="228.50" y1="289.70" x2="228.50" y2="330.30" stroke="#444" stroke-width="0.7"/>
<line x1="211.70" y1="313.90" x2="257.50" y2="313.90" stroke="#444" stroke-width="0.7"/>
<rect x="206.50" y="288.70" width="2.60" height="1.80" fill="#8c8c8c"/>
<line x1="210.20" y1="289.70" x2="211.70" y2="289.70" stroke="#555" stroke-width="0.5"/>
<rect x="206.50" y="298.85" width="2.60" height="1.80" fill="#8c8c8c"/>
<line x1="210.20" y1="299.85" x2="211.70" y2="299.85" stroke="#555" stroke-width="0.5"/>
<rect x="206.50" y="309.00" width="2.60" height="1.80" fill="#8c8c8c"/>
<line x1="210.20" y1="310.00" x2="211.70" y2="310.00" stroke="#555" stroke-width="0.5"/>
<rect x="206.50" y="319.15" width="2.60" height="1.80" fill="#8c8c8c"/>
<line x1="210.20" y1="320.15" x2="211.70" y2="320.15" stroke="#555" stroke-width="0.5"/>
<rect x="206.50" y="329.30" width="2.60" height="1.80" fill="#8c8c8c"/>
<line x1="210.20" y1="330.30" x2="211.70" y2="330.30" stroke="#555" stroke-width="0.5"/>
<rect x="210.40" y="331.90" width="2.80" height="1.60" fill="#8c8c8c"/>
<line x1="211.70" y1="330.30" x2="211.70" y2="331.50" stroke="#555" stroke-width="0.5"/>
<rect x="221.85" y="331.90" width="2.80" height="1.60" fill="#8c8c8c"/>
<line x1="223.15" y1="330.30" x2="223.15" y2="331.50" stroke="#555" stroke-width="0.5"/>
<rect x="233.30" y="331.90" width="2.80" height="1.60" fill="#8c8c8c"/>
<line x1="234.60" y1="330.30" x2="234.60" y2="331.50" stroke="#555" stroke-width="0.5"/>
<rect x="244.75" y="331.90" width="2.80" height="1.60" fill="#8c8c8c"/>
<line x1="246.05" y1="330.30" x2="246.05" y2="331.50" stroke="#555" stroke-width="0.5"/>
<rect x="256.20" y="331.90" width="2.80" height="1.60" fill="#8c8c8c"/>
<line x1="257.50" y1="330.30" x2="257.50" y2="331.50" stroke="#555" stroke-width="0.5"/>
<rect x="204.50" y="307.70" width="1.40" height="9.50" fill="#a0a0a0"/>
<rect x="230.60" y="335.70" width="8.00" height="1.40" fill="#a0a0a0"/>
<g clip-path="url(#c4)"><g filter="url(#bl)">
<path d="M239.2 328.8h0.6v0.6h-0.6zM237.0 300.3h0.6v0.6h-0.6zM231.2 291.2h0.6v0.6h-0.6zM224.1 299.5h0.6v0.6h-0.6zM230.5 290.2h0.6v0.6h-0.6zM219.1 298.5h0.6v0.6h-0.6zM220.2 326.2h0.6v0.6h-0.6zM254.8 294.2h0.6v0.6h-0.6zM226.0 308.3h0.6v0.6h-0.6zM246.2 305.8h0.6v0.6h-0.6zM235.4 325.3h0.6v0.6h-0.6zM248.6 291.0h0.6v0.6h-0.6zM253.3 291.7h0.6v0.6h-0.6zM239.5 311.3h0.6v0.6h-0.6zM232.2 307.6h0.6v0.6h-0.6zM253.3 316.4h0.6v0.6h-0.6zM234.4 313.6h0.6v0.6h-0.6zM212.5 312.5h0.6v0.6h-0.6z" fill="#ccc" opacity="1.0"/>
<path d="M214.9 305.8h0.6v0.6h-0.6zM226.2 311.8h0.6v0.6h-0.6zM219.0 311.0h0.6v0.6h-0.6zM227.1 309.4h0.6v0.6h-0.6zM218.1 310.1h0.6v0.6h-0.6zM213.4 313.0h0.6v0.6h-0.6zM211.7 309.8h0.6v0.6h-0.6zM213.5 312.3h0.6v0.6h-0.6zM217.8 313.2h0.6v0.6h-0.6zM217.4 309.5h0.6v0.6h-0.6zM220.5 312.6h0.6v0.6h-0.6zM222.9 312.5h0.6v0.6h-0.6zM226.1 311.8h0.6v0.6h-0.6zM218.8 310.2h0.6v0.6h-0.6zM226.4 310.4h0.6v0.6h-0.6zM217.0 313.0h0.6v0.6h-0.6zM227.2 309.3h0.6v0.6h-0.6zM213.8 311.2h0.6v0.6h-0.6zM225.6 311.6h0.6v0.6h-0.6zM217.5 309.9h0.6v0.6h-0.6zM214.0 309.8h0.6v0.6h-0.6zM219.5 312.8h0.6v0.6h-0.6zM221.0 308.6h0.6v0.6h-0.6zM218.5 312.5h0.6v0.6h-0.6zM215.5 312.2h0.6v0.6h-0.6zM221.7 312.4h0.6v0.6h-0.6zM218.1 313.0h0.6v0.6h-0.6zM222.6 312.2h0.6v0.6h-0.6zM221.5 312.7h0.6v0.6h-0.6zM222.1 312.4h0.6v0.6h-0.6zM214.1 310.3h0.6v0.6h-0.6zM213.7 312.5h0.6v0.6h-0.6zM218.4 304.6h0.6v0.6h-0.6zM226.4 310.5h0.6v0.6h-0.6zM217.3 310.6h0.6v0.6h-0.6zM221.0 310.0h0.6v0.6h-0.6zM217.3 313.4h0.6v0.6h-0.6zM219.0 309.3h0.6v0.6h-0.6zM219.3 313.3h0.6v0.6h-0.6zM218.0 307.5h0.6v0.6h-0.6zM214.2 312.0h0.6v0.6h-0.6zM228.2 312.0h0.6v0.6h-0.6zM221.6 309.9h0.6v0.6h-0.6zM219.7 305.1h0.6v0.6h-0.6zM213.1 311.5h0.6v0.6h-0.6zM224.9 312.9h0.6v0.6h-0.6zM224.1 309.8h0.6v0.6h-0.6zM218.7 306.3h0.6v0.6h-0.6zM226.6 311.3h0.6v0.6h-0.6zM225.9 311.2h0.6v0.6h-0.6zM214.0 308.8h0.6v0.6h-0.6zM220.8 311.8h0.6v0.6h-0.6zM225.2 312.8h0.6v0.6h-0.6zM226.8 306.1h0.6v0.6h-0.6zM223.9 310.7h0.6v0.6h-0.6zM221.3 307.5h0.6v0.6h-0.6zM219.1 311.5h0.6v0.6h-0.6zM222.0 312.7h0.6v0.6h-0.6zM212.5 303.6h0.6v0.6h-0.6zM217.4 312.8h0.6v0.6h-0.6zM213.3 312.0h0.6v0.6h-0.6zM225.6 309.5h0.6v0.6h-0.6zM228.0 310.9h0.6v0.6h-0.6zM218.4 313.3h0.6v0.6h-0.6zM222.7 311.6h0.6v0.6h-0.6zM218.3 305.0h0.6v0.6h-0.6zM214.4 312.0h0.6v0.6h-0.6zM218.0 309.8h0.6v0.6h-0.6zM219.7 306.4h0.6v0.6h-0.6zM223.8 312.8h0.6v0.6h-0.6zM225.0 313.4h0.6v0.6h-0.6zM223.7 303.9h0.6v0.6h-0.6zM213.4 307.1h0.6v0.6h-0.6zM223.9 312.3h0.6v0.6h-0.6zM215.8 309.9h0.6v0.6h-0.6zM222.9 310.8h0.6v0.6h-0.6zM216.4 311.3h0.6v0.6h-0.6zM216.7 312.7h0.6v0.6h-0.6zM219.8 311.8h0.6v0.6h-0.6zM213.8 311.3h0.6v0.6h-0.6zM222.5 310.2h0.6v0.6h-0.6zM214.4 313.1h0.6v0.6h-0.6zM226.9 313.2h0.6v0.6h-0.6zM218.4 312.1h0.6v0.6h-0.6zM215.8 312.8h0.6v0.6h-0.6zM213.1 309.0h0.6v0.6h-0.6zM215.3 307.9h0.6v0.6h-0.6zM221.8 309.3h0.6v0.6h-0.6zM223.2 312.4h0.6v0.6h-0.6zM217.0 307.1h0.6v0.6h-0.6z" fill="#999" opacity="1.0"/>
<path d="M224.1 322.2h0.6v0.6h-0.6zM226.0 321.9h0.6v0.6h-0.6zM228.6 317.5h0.6v0.6h-0.6zM232.6 326.1h0.6v0.6h-0.6zM228.2 323.0h0.6v0.6h-0.6zM235.7 317.5h0.6v0.6h-0.6zM235.3 321.2h0.6v0.6h-0.6zM233.5 327.4h0.6v0.6h-0.6zM234.1 318.3h0.6v0.6h-0.6zM230.0 323.6h0.6v0.6h-0.6zM227.8 322.8h0.6v0.6h-0.6zM238.6 326.7h0.6v0.6h-0.6zM229.1 319.8h0.6v0.6h-0.6zM233.9 323.3h0.6v0.6h-0.6zM226.3 326.2h0.6v0.6h-0.6zM231.0 323.8h0.6v0.6h-0.6zM238.5 321.4h0.6v0.6h-0.6zM228.8 322.2h0.6v0.6h-0.6zM234.7 323.8h0.6v0.6h-0.6zM236.2 321.6h0.6v0.6h-0.6zM229.2 323.7h0.6v0.6h-0.6zM228.3 328.8h0.6v0.6h-0.6zM228.0 327.4h0.6v0.6h-0.6zM229.3 320.5h0.6v0.6h-0.6zM234.8 321.1h0.6v0.6h-0.6zM231.7 322.4h0.6v0.6h-0.6zM237.8 318.5h0.6v0.6h-0.6zM224.4 318.7h0.6v0.6h-0.6zM241.5 328.0h0.6v0.6h-0.6zM232.0 318.7h0.6v0.6h-0.6zM230.9 321.4h0.6v0.6h-0.6zM228.1 316.5h0.6v0.6h-0.6zM227.2 323.6h0.6v0.6h-0.6zM233.2 326.5h0.6v0.6h-0.6zM231.7 323.3h0.6v0.6h-0.6zM231.0 324.2h0.6v0.6h-0.6zM233.6 321.5h0.6v0.6h-0.6zM235.5 325.0h0.6v0.6h-0.6zM239.0 326.8h0.6v0.6h-0.6zM232.4 320.5h0.6v0.6h-0.6zM225.6 325.3h0.6v0.6h-0.6zM229.2 321.5h0.6v0.6h-0.6zM238.7 317.9h0.6v0.6h-0.6zM224.5 322.0h0.6v0.6h-0.6zM233.9 328.3h0.6v0.6h-0.6zM233.2 320.8h0.6v0.6h-0.6zM229.1 329.3h0.6v0.6h-0.6zM228.9 316.9h0.6v0.6h-0.6zM235.3 316.4h0.6v0.6h-0.6zM230.4 326.4h0.6v0.6h-0.6zM228.9 321.2h0.6v0.6h-0.6zM225.1 322.5h0.6v0.6h-0.6zM238.8 327.7h0.6v0.6h-0.6zM228.5 322.3h0.6v0.6h-0.6zM236.3 324.6h0.6v0.6h-0.6zM234.5 321.0h0.6v0.6h-0.6zM232.6 324.7h0.6v0.6h-0.6zM237.7 324.3h0.6v0.6h-0.6zM225.6 319.5h0.6v0.6h-0.6zM225.6 326.9h0.6v0.6h-0.6zM226.1 327.2h0.6v0.6h-0.6zM230.1 323.4h0.6v0.6h-0.6zM233.0 322.6h0.6v0.6h-0.6zM227.2 324.3h0.6v0.6h-0.6zM231.9 321.4h0.6v0.6h-0.6zM230.5 324.0h0.6v0.6h-0.6zM229.5 320.9h0.6v0.6h-0.6zM229.7 319.4h0.6v0.6h-0.6zM229.9 316.6h0.6v0.6h-0.6zM233.5 320.2h0.6v0.6h-0.6zM226.9 324.4h0.6v0.6h-0.6zM229.9 317.9h0.6v0.6h-0.6zM229.5 319.6h0.6v0.6h-0.6zM228.1 323.3h0.6v0.6h-0.6zM230.0 328.8h0.6v0.6h-0.6zM224.7 317.4h0.6v0.6h-0.6zM229.1 324.4h0.6v0.6h-0.6zM227.3 323.9h0.6v0.6h-0.6zM237.2 317.1h0.6v0.6h-0.6zM231.6 320.4h0.6v0.6h-0.6zM227.2 323.6h0.6v0.6h-0.6zM237.7 317.9h0.6v0.6h-0.6zM230.2 318.5h0.6v0.6h-0.6zM237.3 319.6h0.6v0.6h-0.6zM225.9 317.9h0.6v0.6h-0.6zM232.0 320.2h0.6v0.6h-0.6zM236.0 326.2h0.6v0.6h-0.6zM230.7 318.6h0.6v0.6h-0.6zM235.9 327.1h0.6v0.6h-0.6zM235.1 319.0h0.6v0.6h-0.6zM235.3 319.8h0.6v0.6h-0.6zM224.4 321.1h0.6v0.6h-0.6zM233.6 323.9h0.6v0.6h-0.6zM223.9 322.3h0.6v0.6h-0.6zM230.3 323.6h0.6v0.6h-0.6zM228.5 328.4h0.6v0.6h-0.6zM234.5 328.1h0.6v0.6h-0.6zM237.8 329.4h0.6v0.6h-0.6zM236.3 322.8h0.6v0.6h-0.6zM230.6 317.8h0.6v0.6h-0.6zM235.6 319.0h0.6v0.6h-0.6zM231.0 322.7h0.6v0.6h-0.6zM238.8 318.8h0.6v0.6h-0.6zM226.4 326.1h0.6v0.6h-0.6zM229.0 318.9h0.6v0.6h-0.6zM227.9 320.5h0.6v0.6h-0.6zM228.1 321.4h0.6v0.6h-0.6zM232.2 324.6h0.6v0.6h-0.6zM228.4 324.3h0.6v0.6h-0.6zM232.1 322.8h0.6v0.6h-0.6zM231.7 319.2h0.6v0.6h-0.6zM230.0 326.0h0.6v0.6h-0.6zM236.1 326.5h0.6v0.6h-0.6zM230.4 323.0h0.6v0.6h-0.6zM227.6 322.9h0.6v0.6h-0.6zM231.0 325.3h0.6v0.6h-0.6zM228.1 315.9h0.6v0.6h-0.6zM235.5 318.2h0.6v0.6h-0.6zM238.7 322.7h0.6v0.6h-0.6zM226.4 320.0h0.6v0.6h-0.6zM234.0 326.8h0.6v0.6h-0.6zM222.9 325.2h0.6v0.6h-0.6zM226.9 320.1h0.6v0.6h-0.6zM232.0 327.1h0.6v0.6h-0.6zM225.8 315.1h0.6v0.6h-0.6zM228.3 322.1h0.6v0.6h-0.6zM235.2 327.1h0.6v0.6h-0.6zM230.6 324.2h0.6v0.6h-0.6zM231.7 326.3h0.6v0.6h-0.6zM229.8 320.7h0.6v0.6h-0.6zM233.0 326.6h0.6v0.6h-0.6zM232.6 326.2h0.6v0.6h-0.6zM233.7 318.3h0.6v0.6h-0.6zM232.9 319.1h0.6v0.6h-0.6zM235.3 317.7h0.6v0.6h-0.6zM226.7 326.1h0.6v0.6h-0.6zM229.2 314.5h0.6v0.6h-0.6zM233.8 319.5h0.6v0.6h-0.6zM242.4 322.6h0.6v0.6h-0.6zM235.0 325.5h0.6v0.6h-0.6zM225.3 323.4h0.6v0.6h-0.6zM232.8 327.3h0.6v0.6h-0.6zM229.9 322.8h0.6v0.6h-0.6zM234.0 323.5h0.6v0.6h-0.6zM226.9 327.7h0.6v0.6h-0.6zM227.8 324.5h0.6v0.6h-0.6zM237.7 317.8h0.6v0.6h-0.6zM231.0 326.2h0.6v0.6h-0.6zM231.9 322.0h0.6v0.6h-0.6zM229.7 321.0h0.6v0.6h-0.6zM229.8 322.9h0.6v0.6h-0.6zM232.7 321.8h0.6v0.6h-0.6zM222.5 320.0h0.6v0.6h-0.6zM231.0 322.4h0.6v0.6h-0.6zM228.1 324.1h0.6v0.6h-0.6zM226.6 324.0h0.6v0.6h-0.6zM230.4 322.9h0.6v0.6h-0.6zM233.7 323.7h0.6v0.6h-0.6zM229.1 318.8h0.6v0.6h-0.6zM236.8 317.8h0.6v0.6h-0.6zM230.9 324.0h0.6v0.6h-0.6zM229.6 320.7h0.6v0.6h-0.6zM227.5 325.5h0.6v0.6h-0.6zM232.0 327.4h0.6v0.6h-0.6zM227.1 321.7h0.6v0.6h-0.6zM226.7 318.2h0.6v0.6h-0.6zM232.6 326.7h0.6v0.6h-0.6zM227.2 319.3h0.6v0.6h-0.6zM225.1 326.2h0.6v0.6h-0.6zM241.1 327.1h0.6v0.6h-0.6zM232.2 324.2h0.6v0.6h-0.6zM225.5 319.2h0.6v0.6h-0.6zM226.5 326.2h0.6v0.6h-0.6zM234.3 322.2h0.6v0.6h-0.6zM237.1 326.2h0.6v0.6h-0.6zM241.1 322.6h0.6v0.6h-0.6zM226.1 326.2h0.6v0.6h-0.6zM229.0 321.3h0.6v0.6h-0.6zM237.3 321.4h0.6v0.6h-0.6zM232.4 322.7h0.6v0.6h-0.6zM236.2 325.3h0.6v0.6h-0.6zM232.1 323.5h0.6v0.6h-0.6zM230.5 329.2h0.6v0.6h-0.6zM227.3 328.0h0.6v0.6h-0.6zM238.0 317.2h0.6v0.6h-0.6zM227.1 329.1h0.6v0.6h-0.6zM237.6 317.0h0.6v0.6h-0.6zM232.2 318.8h0.6v0.6h-0.6zM232.9 325.5h0.6v0.6h-0.6zM228.3 324.3h0.6v0.6h-0.6zM229.3 323.6h0.6v0.6h-0.6zM232.7 320.8h0.6v0.6h-0.6zM231.5 316.0h0.6v0.6h-0.6zM229.9 321.0h0.6v0.6h-0.6zM231.0 319.8h0.6v0.6h-0.6zM236.6 321.2h0.6v0.6h-0.6zM233.6 325.3h0.6v0.6h-0.6zM232.2 316.3h0.6v0.6h-0.6zM233.1 325.0h0.6v0.6h-0.6zM226.0 321.7h0.6v0.6h-0.6zM233.1 320.0h0.6v0.6h-0.6zM236.2 321.1h0.6v0.6h-0.6zM227.5 321.3h0.6v0.6h-0.6zM230.8 327.6h0.6v0.6h-0.6zM235.0 318.5h0.6v0.6h-0.6zM228.5 325.3h0.6v0.6h-0.6zM231.1 328.5h0.6v0.6h-0.6zM236.9 324.7h0.6v0.6h-0.6zM233.6 322.5h0.6v0.6h-0.6zM237.5 319.8h0.6v0.6h-0.6zM223.5 325.0h0.6v0.6h-0.6zM238.5 322.7h0.6v0.6h-0.6zM235.4 325.6h0.6v0.6h-0.6zM238.8 322.6h0.6v0.6h-0.6zM230.4 324.1h0.6v0.6h-0.6zM233.4 320.9h0.6v0.6h-0.6zM231.4 322.7h0.6v0.6h-0.6zM236.5 328.1h0.6v0.6h-0.6zM229.3 322.0h0.6v0.6h-0.6zM240.6 324.2h0.6v0.6h-0.6zM231.5 319.7h0.6v0.6h-0.6zM233.9 324.0h0.6v0.6h-0.6zM234.5 320.0h0.6v0.6h-0.6zM230.7 317.5h0.6v0.6h-0.6zM227.6 322.9h0.6v0.6h-0.6zM240.2 328.5h0.6v0.6h-0.6zM230.5 322.9h0.6v0.6h-0.6zM225.4 321.4h0.6v0.6h-0.6zM232.1 321.0h0.6v0.6h-0.6zM233.1 326.1h0.6v0.6h-0.6zM233.1 318.3h0.6v0.6h-0.6zM229.5 322.9h0.6v0.6h-0.6zM234.3 316.7h0.6v0.6h-0.6zM232.6 324.8h0.6v0.6h-0.6zM222.9 314.9h0.6v0.6h-0.6zM238.2 326.7h0.6v0.6h-0.6zM233.8 324.5h0.6v0.6h-0.6zM231.8 323.3h0.6v0.6h-0.6zM230.3 325.0h0.6v0.6h-0.6zM229.1 322.5h0.6v0.6h-0.6zM236.7 323.1h0.6v0.6h-0.6zM230.8 329.3h0.6v0.6h-0.6zM230.6 320.9h0.6v0.6h-0.6zM234.2 325.0h0.6v0.6h-0.6zM229.5 320.3h0.6v0.6h-0.6zM227.0 319.7h0.6v0.6h-0.6zM230.6 324.0h0.6v0.6h-0.6zM222.5 321.2h0.6v0.6h-0.6zM231.6 322.1h0.6v0.6h-0.6zM235.8 316.8h0.6v0.6h-0.6zM232.7 321.1h0.6v0.6h-0.6zM228.6 327.8h0.6v0.6h-0.6zM231.1 322.8h0.6v0.6h-0.6zM229.3 325.0h0.6v0.6h-0.6zM226.3 326.7h0.6v0.6h-0.6zM224.2 318.7h0.6v0.6h-0.6zM226.7 318.3h0.6v0.6h-0.6zM228.7 323.4h0.6v0.6h-0.6zM234.3 319.3h0.6v0.6h-0.6zM226.2 326.7h0.6v0.6h-0.6zM231.6 324.8h0.6v0.6h-0.6zM229.9 322.0h0.6v0.6h-0.6zM226.7 323.2h0.6v0.6h-0.6zM229.5 322.1h0.6v0.6h-0.6zM228.3 323.5h0.6v0.6h-0.6zM225.0 324.6h0.6v0.6h-0.6zM240.5 324.1h0.6v0.6h-0.6zM232.7 319.6h0.6v0.6h-0.6zM230.8 329.4h0.6v0.6h-0.6zM230.4 326.4h0.6v0.6h-0.6zM227.9 325.8h0.6v0.6h-0.6zM231.2 325.9h0.6v0.6h-0.6zM232.0 318.3h0.6v0.6h-0.6zM227.2 315.1h0.6v0.6h-0.6zM228.9 320.9h0.6v0.6h-0.6zM238.0 319.8h0.6v0.6h-0.6zM234.6 324.7h0.6v0.6h-0.6zM234.0 317.8h0.6v0.6h-0.6zM231.3 322.2h0.6v0.6h-0.6zM229.5 325.9h0.6v0.6h-0.6zM238.1 325.2h0.6v0.6h-0.6zM232.5 317.6h0.6v0.6h-0.6zM230.4 318.6h0.6v0.6h-0.6zM238.9 322.8h0.6v0.6h-0.6zM233.1 324.3h0.6v0.6h-0.6zM238.8 318.0h0.6v0.6h-0.6zM231.3 320.3h0.6v0.6h-0.6zM231.2 317.2h0.6v0.6h-0.6zM234.5 319.0h0.6v0.6h-0.6zM238.8 322.3h0.6v0.6h-0.6zM230.8 321.2h0.6v0.6h-0.6zM230.6 326.5h0.6v0.6h-0.6zM237.3 325.1h0.6v0.6h-0.6zM236.9 326.1h0.6v0.6h-0.6zM238.5 320.1h0.6v0.6h-0.6zM227.4 327.9h0.6v0.6h-0.6zM233.9 325.0h0.6v0.6h-0.6zM234.5 323.8h0.6v0.6h-0.6zM232.8 316.0h0.6v0.6h-0.6zM231.6 321.2h0.6v0.6h-0.6zM240.5 327.9h0.6v0.6h-0.6zM234.2 320.1h0.6v0.6h-0.6zM229.7 320.7h0.6v0.6h-0.6zM225.9 324.8h0.6v0.6h-0.6zM234.3 328.3h0.6v0.6h-0.6zM238.4 316.5h0.6v0.6h-0.6zM230.9 326.2h0.6v0.6h-0.6zM237.0 321.3h0.6v0.6h-0.6zM231.3 318.1h0.6v0.6h-0.6zM234.0 324.3h0.6v0.6h-0.6zM230.8 319.6h0.6v0.6h-0.6zM229.2 316.5h0.6v0.6h-0.6zM232.1 322.6h0.6v0.6h-0.6zM226.7 326.2h0.6v0.6h-0.6zM233.4 325.1h0.6v0.6h-0.6zM233.4 326.6h0.6v0.6h-0.6zM229.1 324.6h0.6v0.6h-0.6zM228.0 320.1h0.6v0.6h-0.6zM239.3 324.7h0.6v0.6h-0.6zM229.2 320.3h0.6v0.6h-0.6zM226.7 318.6h0.6v0.6h-0.6zM240.5 322.3h0.6v0.6h-0.6zM227.2 329.0h0.6v0.6h-0.6zM230.4 323.3h0.6v0.6h-0.6zM227.6 319.2h0.6v0.6h-0.6zM230.0 324.7h0.6v0.6h-0.6zM228.4 319.1h0.6v0.6h-0.6zM227.4 320.1h0.6v0.6h-0.6zM229.3 320.1h0.6v0.6h-0.6zM232.8 322.5h0.6v0.6h-0.6zM233.5 316.8h0.6v0.6h-0.6zM236.3 320.4h0.6v0.6h-0.6zM236.1 326.5h0.6v0.6h-0.6zM230.2 321.0h0.6v0.6h-0.6zM235.1 321.1h0.6v0.6h-0.6zM223.2 321.9h0.6v0.6h-0.6zM233.9 319.2h0.6v0.6h-0.6zM227.2 321.5h0.6v0.6h-0.6zM231.0 328.0h0.6v0.6h-0.6zM233.5 322.7h0.6v0.6h-0.6zM232.8 328.8h0.6v0.6h-0.6zM234.2 318.3h0.6v0.6h-0.6zM238.0 322.2h0.6v0.6h-0.6zM226.5 324.7h0.6v0.6h-0.6zM236.3 321.9h0.6v0.6h-0.6zM229.1 319.4h0.6v0.6h-0.6zM227.7 328.1h0.6v0.6h-0.6zM231.4 324.2h0.6v0.6h-0.6zM230.8 317.8h0.6v0.6h-0.6zM230.9 319.9h0.6v0.6h-0.6zM229.8 320.0h0.6v0.6h-0.6zM226.8 329.5h0.6v0.6h-0.6zM233.1 323.0h0.6v0.6h-0.6zM235.2 321.3h0.6v0.6h-0.6zM232.7 322.9h0.6v0.6h-0.6zM230.9 326.8h0.6v0.6h-0.6zM236.6 320.5h0.6v0.6h-0.6zM236.4 327.0h0.6v0.6h-0.6zM224.2 323.8h0.6v0.6h-0.6zM231.7 321.3h0.6v0.6h-0.6zM227.0 323.8h0.6v0.6h-0.6zM231.4 321.7h0.6v0.6h-0.6zM227.3 320.3h0.6v0.6h-0.6zM231.2 327.7h0.6v0.6h-0.6zM238.3 327.0h0.6v0.6h-0.6zM227.2 316.3h0.6v0.6h-0.6zM237.3 321.2h0.6v0.6h-0.6zM235.5 318.9h0.6v0.6h-0.6zM226.1 322.3h0.6v0.6h-0.6zM230.3 327.7h0.6v0.6h-0.6zM239.0 318.2h0.6v0.6h-0.6zM226.9 319.6h0.6v0.6h-0.6zM236.9 324.7h0.6v0.6h-0.6zM227.7 326.7h0.6v0.6h-0.6zM232.4 323.0h0.6v0.6h-0.6zM236.4 327.6h0.6v0.6h-0.6zM232.6 317.4h0.6v0.6h-0.6zM230.7 328.5h0.6v0.6h-0.6zM228.9 324.9h0.6v0.6h-0.6zM231.2 323.3h0.6v0.6h-0.6zM234.4 318.4h0.6v0.6h-0.6zM226.6 323.8h0.6v0.6h-0.6zM229.5 320.4h0.6v0.6h-0.6zM228.3 329.2h0.6v0.6h-0.6zM230.5 323.6h0.6v0.6h-0.6zM229.6 316.9h0.6v0.6h-0.6zM236.0 315.5h0.6v0.6h-0.6zM231.6 315.7h0.6v0.6h-0.6zM240.5 325.2h0.6v0.6h-0.6zM233.2 329.6h0.6v0.6h-0.6zM228.2 323.2h0.6v0.6h-0.6zM233.3 319.9h0.6v0.6h-0.6zM225.3 322.3h0.6v0.6h-0.6zM226.9 321.0h0.6v0.6h-0.6zM230.8 322.4h0.6v0.6h-0.6zM223.5 324.3h0.6v0.6h-0.6zM227.6 322.3h0.6v0.6h-0.6zM236.5 329.4h0.6v0.6h-0.6zM230.6 323.5h0.6v0.6h-0.6zM229.7 326.4h0.6v0.6h-0.6zM223.1 319.6h0.6v0.6h-0.6zM232.0 316.2h0.6v0.6h-0.6zM224.3 322.5h0.6v0.6h-0.6zM233.1 318.9h0.6v0.6h-0.6zM226.8 324.7h0.6v0.6h-0.6zM229.8 317.3h0.6v0.6h-0.6zM226.5 319.1h0.6v0.6h-0.6zM231.0 324.3h0.6v0.6h-0.6zM226.9 320.9h0.6v0.6h-0.6zM229.8 323.3h0.6v0.6h-0.6zM238.5 317.0h0.6v0.6h-0.6zM234.0 316.3h0.6v0.6h-0.6zM233.5 317.2h0.6v0.6h-0.6zM239.8 326.6h0.6v0.6h-0.6zM234.5 323.9h0.6v0.6h-0.6zM231.5 324.7h0.6v0.6h-0.6zM236.5 326.0h0.6v0.6h-0.6zM237.7 326.9h0.6v0.6h-0.6zM231.4 322.9h0.6v0.6h-0.6zM225.4 324.7h0.6v0.6h-0.6zM226.7 322.0h0.6v0.6h-0.6zM227.7 321.4h0.6v0.6h-0.6zM231.3 327.5h0.6v0.6h-0.6zM228.5 323.4h0.6v0.6h-0.6zM232.1 317.5h0.6v0.6h-0.6zM229.4 326.6h0.6v0.6h-0.6zM230.9 316.6h0.6v0.6h-0.6zM235.6 328.7h0.6v0.6h-0.6zM234.2 317.7h0.6v0.6h-0.6zM232.5 325.4h0.6v0.6h-0.6zM231.3 317.9h0.6v0.6h-0.6zM229.9 322.3h0.6v0.6h-0.6zM236.3 324.6h0.6v0.6h-0.6zM234.0 323.4h0.6v0.6h-0.6zM233.0 322.9h0.6v0.6h-0.6zM223.6 327.9h0.6v0.6h-0.6zM234.3 315.9h0.6v0.6h-0.6zM229.6 320.9h0.6v0.6h-0.6zM230.5 327.5h0.6v0.6h-0.6zM232.6 321.2h0.6v0.6h-0.6zM234.1 317.9h0.6v0.6h-0.6zM226.7 327.4h0.6v0.6h-0.6zM235.1 325.5h0.6v0.6h-0.6zM234.8 323.1h0.6v0.6h-0.6zM229.6 326.7h0.6v0.6h-0.6zM237.4 315.8h0.6v0.6h-0.6zM230.0 329.2h0.6v0.6h-0.6zM229.2 322.3h0.6v0.6h-0.6zM230.8 323.1h0.6v0.6h-0.6zM228.4 317.9h0.6v0.6h-0.6zM227.6 320.5h0.6v0.6h-0.6zM235.9 325.4h0.6v0.6h-0.6zM234.9 328.9h0.6v0.6h-0.6zM229.0 318.1h0.6v0.6h-0.6zM234.1 315.0h0.6v0.6h-0.6zM237.3 318.0h0.6v0.6h-0.6zM230.2 324.8h0.6v0.6h-0.6zM227.1 317.6h0.6v0.6h-0.6zM229.4 321.1h0.6v0.6h-0.6zM236.5 328.3h0.6v0.6h-0.6zM235.3 316.9h0.6v0.6h-0.6zM229.4 317.9h0.6v0.6h-0.6zM232.1 321.7h0.6v0.6h-0.6zM229.1 316.9h0.6v0.6h-0.6zM232.8 317.2h0.6v0.6h-0.6zM236.0 326.8h0.6v0.6h-0.6zM231.2 325.0h0.6v0.6h-0.6zM233.1 326.4h0.6v0.6h-0.6zM231.7 326.7h0.6v0.6h-0.6zM228.0 321.1h0.6v0.6h-0.6zM224.6 319.8h0.6v0.6h-0.6zM223.6 321.7h0.6v0.6h-0.6zM225.4 321.8h0.6v0.6h-0.6zM232.5 325.9h0.6v0.6h-0.6zM225.4 325.4h0.6v0.6h-0.6zM224.1 324.0h0.6v0.6h-0.6zM232.8 321.2h0.6v0.6h-0.6zM231.7 322.5h0.6v0.6h-0.6zM228.2 321.7h0.6v0.6h-0.6zM231.2 324.9h0.6v0.6h-0.6zM237.5 325.3h0.6v0.6h-0.6zM230.9 320.6h0.6v0.6h-0.6zM225.0 320.9h0.6v0.6h-0.6zM230.1 323.9h0.6v0.6h-0.6zM232.9 316.0h0.6v0.6h-0.6zM228.3 326.3h0.6v0.6h-0.6zM225.2 324.0h0.6v0.6h-0.6zM235.4 318.4h0.6v0.6h-0.6zM228.5 321.3h0.6v0.6h-0.6zM229.2 315.6h0.6v0.6h-0.6zM225.1 319.2h0.6v0.6h-0.6zM224.5 322.2h0.6v0.6h-0.6zM231.0 319.6h0.6v0.6h-0.6zM233.3 319.7h0.6v0.6h-0.6zM225.9 324.8h0.6v0.6h-0.6zM237.0 323.8h0.6v0.6h-0.6zM233.8 319.4h0.6v0.6h-0.6zM235.7 327.0h0.6v0.6h-0.6zM232.4 325.7h0.6v0.6h-0.6zM232.1 327.3h0.6v0.6h-0.6zM234.6 326.9h0.6v0.6h-0.6zM233.4 319.1h0.6v0.6h-0.6zM230.9 319.4h0.6v0.6h-0.6zM232.7 322.2h0.6v0.6h-0.6zM224.5 316.8h0.6v0.6h-0.6zM224.8 325.9h0.6v0.6h-0.6zM231.4 315.3h0.6v0.6h-0.6zM225.8 319.7h0.6v0.6h-0.6zM234.2 321.4h0.6v0.6h-0.6zM230.9 321.0h0.6v0.6h-0.6zM222.3 321.0h0.6v0.6h-0.6zM236.0 322.9h0.6v0.6h-0.6zM241.2 319.1h0.6v0.6h-0.6zM227.7 321.5h0.6v0.6h-0.6zM224.9 322.2h0.6v0.6h-0.6zM230.7 322.6h0.6v0.6h-0.6zM227.2 320.9h0.6v0.6h-0.6zM229.2 323.5h0.6v0.6h-0.6zM233.7 321.9h0.6v0.6h-0.6zM231.7 322.9h0.6v0.6h-0.6zM231.1 320.7h0.6v0.6h-0.6zM228.9 323.6h0.6v0.6h-0.6zM236.9 323.9h0.6v0.6h-0.6zM229.1 316.2h0.6v0.6h-0.6zM232.1 328.7h0.6v0.6h-0.6zM230.6 327.9h0.6v0.6h-0.6zM232.2 321.1h0.6v0.6h-0.6zM230.5 319.5h0.6v0.6h-0.6zM231.1 318.6h0.6v0.6h-0.6zM237.0 325.3h0.6v0.6h-0.6zM226.0 321.6h0.6v0.6h-0.6zM230.0 327.4h0.6v0.6h-0.6zM235.7 322.0h0.6v0.6h-0.6zM223.1 322.7h0.6v0.6h-0.6zM231.1 319.5h0.6v0.6h-0.6zM229.9 320.7h0.6v0.6h-0.6zM234.5 316.1h0.6v0.6h-0.6zM232.4 316.0h0.6v0.6h-0.6zM228.3 325.8h0.6v0.6h-0.6zM234.5 324.5h0.6v0.6h-0.6zM231.1 328.8h0.6v0.6h-0.6zM230.7 325.2h0.6v0.6h-0.6zM234.0 323.9h0.6v0.6h-0.6zM233.4 322.4h0.6v0.6h-0.6zM238.1 319.1h0.6v0.6h-0.6zM223.8 327.4h0.6v0.6h-0.6zM232.8 320.0h0.6v0.6h-0.6zM234.9 321.9h0.6v0.6h-0.6zM229.8 320.3h0.6v0.6h-0.6zM230.7 319.1h0.6v0.6h-0.6zM235.6 329.2h0.6v0.6h-0.6zM230.4 322.3h0.6v0.6h-0.6zM233.2 318.5h0.6v0.6h-0.6zM237.8 324.0h0.6v0.6h-0.6zM228.7 318.1h0.6v0.6h-0.6zM228.9 325.3h0.6v0.6h-0.6zM229.8 316.3h0.6v0.6h-0.6zM233.3 319.8h0.6v0.6h-0.6zM232.0 319.4h0.6v0.6h-0.6zM238.1 328.1h0.6v0.6h-0.6zM228.9 328.4h0.6v0.6h-0.6zM239.9 318.4h0.6v0.6h-0.6zM231.0 323.5h0.6v0.6h-0.6zM239.0 323.7h0.6v0.6h-0.6zM229.9 324.8h0.6v0.6h-0.6zM233.1 317.8h0.6v0.6h-0.6zM235.8 319.0h0.6v0.6h-0.6zM237.3 322.7h0.6v0.6h-0.6zM231.2 325.2h0.6v0.6h-0.6zM229.5 327.7h0.6v0.6h-0.6zM227.1 328.7h0.6v0.6h-0.6zM229.7 324.6h0.6v0.6h-0.6zM225.7 327.4h0.6v0.6h-0.6zM234.5 321.2h0.6v0.6h-0.6zM232.6 324.9h0.6v0.6h-0.6zM229.5 325.6h0.6v0.6h-0.6zM230.1 323.1h0.6v0.6h-0.6zM226.8 320.2h0.6v0.6h-0.6zM233.9 320.9h0.6v0.6h-0.6zM233.2 322.7h0.6v0.6h-0.6zM232.4 323.3h0.6v0.6h-0.6zM238.7 317.7h0.6v0.6h-0.6zM232.4 323.4h0.6v0.6h-0.6zM232.4 324.2h0.6v0.6h-0.6zM236.8 322.3h0.6v0.6h-0.6zM227.1 320.4h0.6v0.6h-0.6zM236.9 328.6h0.6v0.6h-0.6zM231.3 321.9h0.6v0.6h-0.6zM236.9 320.0h0.6v0.6h-0.6zM232.2 322.1h0.6v0.6h-0.6zM230.8 325.8h0.6v0.6h-0.6z" fill="#6a6a6a" opacity="0.8"/>
<path d="M227.3 319.9h0.6v0.6h-0.6zM225.8 323.1h0.6v0.6h-0.6zM228.9 326.6h0.6v0.6h-0.6zM227.5 325.6h0.6v0.6h-0.6zM230.1 328.1h0.6v0.6h-0.6zM233.3 321.6h0.6v0.6h-0.6zM229.8 326.7h0.6v0.6h-0.6zM229.8 327.0h0.6v0.6h-0.6zM232.5 323.8h0.6v0.6h-0.6zM229.7 323.5h0.6v0.6h-0.6zM227.1 325.0h0.6v0.6h-0.6zM232.7 327.4h0.6v0.6h-0.6zM230.7 328.6h0.6v0.6h-0.6zM229.2 326.8h0.6v0.6h-0.6zM226.7 325.5h0.6v0.6h-0.6zM230.6 326.0h0.6v0.6h-0.6zM231.6 326.2h0.6v0.6h-0.6zM228.8 324.2h0.6v0.6h-0.6zM226.0 327.9h0.6v0.6h-0.6zM233.2 323.7h0.6v0.6h-0.6zM233.3 314.9h0.6v0.6h-0.6zM232.0 324.1h0.6v0.6h-0.6zM229.4 320.6h0.6v0.6h-0.6zM230.2 325.0h0.6v0.6h-0.6zM230.8 325.8h0.6v0.6h-0.6zM230.8 324.8h0.6v0.6h-0.6zM227.5 327.8h0.6v0.6h-0.6zM228.2 319.3h0.6v0.6h-0.6zM229.8 320.9h0.6v0.6h-0.6zM232.3 325.3h0.6v0.6h-0.6zM232.0 328.6h0.6v0.6h-0.6zM227.8 324.8h0.6v0.6h-0.6zM231.5 322.6h0.6v0.6h-0.6zM230.4 323.6h0.6v0.6h-0.6zM231.5 320.4h0.6v0.6h-0.6zM232.6 325.7h0.6v0.6h-0.6zM233.8 326.2h0.6v0.6h-0.6zM231.1 321.1h0.6v0.6h-0.6zM226.4 324.2h0.6v0.6h-0.6zM232.1 320.8h0.6v0.6h-0.6zM228.3 323.6h0.6v0.6h-0.6zM230.5 327.4h0.6v0.6h-0.6zM230.4 323.9h0.6v0.6h-0.6zM231.8 326.5h0.6v0.6h-0.6zM233.0 321.7h0.6v0.6h-0.6zM231.3 321.8h0.6v0.6h-0.6zM229.1 327.7h0.6v0.6h-0.6zM228.9 327.3h0.6v0.6h-0.6zM232.4 322.2h0.6v0.6h-0.6zM229.8 326.5h0.6v0.6h-0.6zM226.6 326.8h0.6v0.6h-0.6zM226.1 321.5h0.6v0.6h-0.6zM230.5 321.4h0.6v0.6h-0.6zM229.5 324.9h0.6v0.6h-0.6zM228.8 321.4h0.6v0.6h-0.6zM231.6 323.3h0.6v0.6h-0.6zM229.8 322.0h0.6v0.6h-0.6zM230.5 325.8h0.6v0.6h-0.6zM233.1 329.2h0.6v0.6h-0.6zM231.3 326.1h0.6v0.6h-0.6zM228.4 317.5h0.6v0.6h-0.6zM227.6 323.0h0.6v0.6h-0.6zM229.7 325.4h0.6v0.6h-0.6zM231.7 326.3h0.6v0.6h-0.6zM228.4 321.2h0.6v0.6h-0.6zM229.8 326.8h0.6v0.6h-0.6zM226.3 326.5h0.6v0.6h-0.6zM227.2 328.7h0.6v0.6h-0.6zM232.4 327.9h0.6v0.6h-0.6zM229.1 327.4h0.6v0.6h-0.6zM233.0 325.6h0.6v0.6h-0.6zM228.2 322.2h0.6v0.6h-0.6zM226.6 323.3h0.6v0.6h-0.6zM230.0 328.2h0.6v0.6h-0.6zM226.4 328.7h0.6v0.6h-0.6zM234.7 320.9h0.6v0.6h-0.6zM229.4 328.3h0.6v0.6h-0.6zM230.7 324.2h0.6v0.6h-0.6zM226.5 326.8h0.6v0.6h-0.6zM232.4 323.7h0.6v0.6h-0.6zM229.6 326.1h0.6v0.6h-0.6zM229.2 318.2h0.6v0.6h-0.6zM231.5 320.7h0.6v0.6h-0.6zM232.7 327.4h0.6v0.6h-0.6zM230.6 323.1h0.6v0.6h-0.6zM232.6 321.8h0.6v0.6h-0.6zM231.3 321.9h0.6v0.6h-0.6zM231.3 326.0h0.6v0.6h-0.6zM230.0 324.6h0.6v0.6h-0.6zM229.7 325.1h0.6v0.6h-0.6zM231.3 323.6h0.6v0.6h-0.6zM227.7 325.8h0.6v0.6h-0.6zM227.8 325.9h0.6v0.6h-0.6zM228.4 325.1h0.6v0.6h-0.6zM233.5 324.3h0.6v0.6h-0.6zM228.5 320.6h0.6v0.6h-0.6zM229.7 328.3h0.6v0.6h-0.6zM230.8 321.4h0.6v0.6h-0.6zM232.9 320.2h0.6v0.6h-0.6zM229.1 322.3h0.6v0.6h-0.6zM231.4 323.9h0.6v0.6h-0.6zM230.2 324.6h0.6v0.6h-0.6zM229.3 327.4h0.6v0.6h-0.6zM223.9 322.1h0.6v0.6h-0.6zM229.0 326.5h0.6v0.6h-0.6zM231.2 326.8h0.6v0.6h-0.6zM231.4 322.8h0.6v0.6h-0.6zM229.8 324.4h0.6v0.6h-0.6zM227.2 324.6h0.6v0.6h-0.6zM231.1 324.4h0.6v0.6h-0.6zM229.2 324.1h0.6v0.6h-0.6zM234.2 321.8h0.6v0.6h-0.6zM227.4 322.3h0.6v0.6h-0.6zM230.5 321.0h0.6v0.6h-0.6zM222.9 325.9h0.6v0.6h-0.6zM226.9 321.9h0.6v0.6h-0.6zM227.1 320.6h0.6v0.6h-0.6zM230.3 324.0h0.6v0.6h-0.6zM231.5 324.1h0.6v0.6h-0.6zM236.1 327.7h0.6v0.6h-0.6zM230.7 325.6h0.6v0.6h-0.6zM233.9 322.0h0.6v0.6h-0.6zM230.5 325.0h0.6v0.6h-0.6zM226.6 321.5h0.6v0.6h-0.6zM229.6 326.1h0.6v0.6h-0.6zM227.8 326.3h0.6v0.6h-0.6zM229.0 324.4h0.6v0.6h-0.6zM228.3 326.5h0.6v0.6h-0.6zM225.2 323.3h0.6v0.6h-0.6zM228.1 322.2h0.6v0.6h-0.6zM231.1 323.7h0.6v0.6h-0.6zM232.4 329.3h0.6v0.6h-0.6zM231.6 328.1h0.6v0.6h-0.6zM234.0 321.1h0.6v0.6h-0.6zM228.0 323.4h0.6v0.6h-0.6zM230.7 323.8h0.6v0.6h-0.6zM229.3 326.5h0.6v0.6h-0.6zM232.9 326.6h0.6v0.6h-0.6zM230.0 321.5h0.6v0.6h-0.6zM229.3 323.9h0.6v0.6h-0.6zM227.0 327.6h0.6v0.6h-0.6zM228.9 323.9h0.6v0.6h-0.6zM228.9 326.2h0.6v0.6h-0.6zM233.2 319.0h0.6v0.6h-0.6zM232.3 323.6h0.6v0.6h-0.6zM226.6 325.3h0.6v0.6h-0.6zM232.4 324.6h0.6v0.6h-0.6zM229.5 321.3h0.6v0.6h-0.6zM227.9 325.4h0.6v0.6h-0.6zM228.8 325.7h0.6v0.6h-0.6zM226.6 328.7h0.6v0.6h-0.6zM228.3 327.7h0.6v0.6h-0.6zM229.6 321.9h0.6v0.6h-0.6zM228.7 329.4h0.6v0.6h-0.6zM230.8 326.3h0.6v0.6h-0.6zM227.5 321.7h0.6v0.6h-0.6zM226.1 327.2h0.6v0.6h-0.6zM230.4 322.4h0.6v0.6h-0.6zM227.5 328.0h0.6v0.6h-0.6zM229.5 321.4h0.6v0.6h-0.6zM226.9 323.2h0.6v0.6h-0.6zM229.3 319.7h0.6v0.6h-0.6zM229.2 320.2h0.6v0.6h-0.6zM230.1 320.9h0.6v0.6h-0.6zM230.1 324.8h0.6v0.6h-0.6zM232.5 325.0h0.6v0.6h-0.6zM228.9 326.0h0.6v0.6h-0.6zM229.7 319.4h0.6v0.6h-0.6zM228.7 325.8h0.6v0.6h-0.6zM228.6 326.4h0.6v0.6h-0.6zM232.6 322.1h0.6v0.6h-0.6zM228.2 326.2h0.6v0.6h-0.6zM232.3 326.3h0.6v0.6h-0.6zM224.5 324.6h0.6v0.6h-0.6zM228.2 324.8h0.6v0.6h-0.6zM227.0 323.2h0.6v0.6h-0.6zM231.7 317.2h0.6v0.6h-0.6zM231.4 328.5h0.6v0.6h-0.6zM230.0 328.6h0.6v0.6h-0.6zM228.6 324.7h0.6v0.6h-0.6zM226.2 323.4h0.6v0.6h-0.6zM229.9 321.4h0.6v0.6h-0.6zM230.7 322.4h0.6v0.6h-0.6zM233.9 322.8h0.6v0.6h-0.6zM230.2 321.5h0.6v0.6h-0.6zM233.3 325.8h0.6v0.6h-0.6zM230.8 328.0h0.6v0.6h-0.6zM230.1 324.9h0.6v0.6h-0.6zM233.3 321.1h0.6v0.6h-0.6zM230.7 324.8h0.6v0.6h-0.6zM229.6 317.6h0.6v0.6h-0.6zM232.9 324.9h0.6v0.6h-0.6zM228.0 322.7h0.6v0.6h-0.6zM227.9 323.0h0.6v0.6h-0.6zM225.9 328.4h0.6v0.6h-0.6zM235.0 321.3h0.6v0.6h-0.6zM228.3 323.4h0.6v0.6h-0.6zM226.6 322.0h0.6v0.6h-0.6zM229.6 327.2h0.6v0.6h-0.6zM228.2 322.1h0.6v0.6h-0.6zM226.8 325.5h0.6v0.6h-0.6zM226.6 326.7h0.6v0.6h-0.6zM230.7 328.0h0.6v0.6h-0.6zM228.5 323.1h0.6v0.6h-0.6zM229.9 322.6h0.6v0.6h-0.6zM227.1 321.5h0.6v0.6h-0.6zM230.6 325.4h0.6v0.6h-0.6zM232.5 325.7h0.6v0.6h-0.6zM227.1 323.9h0.6v0.6h-0.6zM232.8 327.0h0.6v0.6h-0.6zM228.3 320.0h0.6v0.6h-0.6zM231.9 320.4h0.6v0.6h-0.6zM230.4 327.3h0.6v0.6h-0.6zM227.4 326.4h0.6v0.6h-0.6zM229.0 320.8h0.6v0.6h-0.6zM233.9 317.7h0.6v0.6h-0.6zM230.4 325.9h0.6v0.6h-0.6zM231.7 324.3h0.6v0.6h-0.6zM230.8 325.0h0.6v0.6h-0.6zM230.4 323.1h0.6v0.6h-0.6zM228.4 324.3h0.6v0.6h-0.6zM228.2 322.2h0.6v0.6h-0.6zM228.4 326.4h0.6v0.6h-0.6zM231.8 321.1h0.6v0.6h-0.6zM230.4 326.0h0.6v0.6h-0.6zM230.3 325.4h0.6v0.6h-0.6zM234.2 323.0h0.6v0.6h-0.6zM230.4 327.9h0.6v0.6h-0.6zM231.6 322.5h0.6v0.6h-0.6zM231.9 326.5h0.6v0.6h-0.6zM232.0 322.1h0.6v0.6h-0.6zM230.1 323.0h0.6v0.6h-0.6zM232.6 321.8h0.6v0.6h-0.6zM230.9 325.6h0.6v0.6h-0.6zM226.0 326.5h0.6v0.6h-0.6zM229.5 324.0h0.6v0.6h-0.6zM231.9 323.6h0.6v0.6h-0.6zM230.5 322.0h0.6v0.6h-0.6zM229.3 325.0h0.6v0.6h-0.6zM228.4 323.7h0.6v0.6h-0.6zM230.6 324.8h0.6v0.6h-0.6zM233.9 322.6h0.6v0.6h-0.6zM230.0 324.9h0.6v0.6h-0.6zM233.9 324.2h0.6v0.6h-0.6z" fill="#3a3a3a" opacity="0.8"/>
<path d="M211.7 314.2 L222.5 314.4 L224.5 318 L225 330.3 L211.7 330.3 Z" fill="#202020"/>
<path d="M212.2 312.9h0.7v0.7h-0.7zM218.2 321.2h0.7v0.7h-0.7zM221.9 326.9h0.7v0.7h-0.7zM217.2 328.3h0.7v0.7h-0.7zM213.5 328.8h0.7v0.7h-0.7zM218.0 320.3h0.7v0.7h-0.7zM214.1 320.1h0.7v0.7h-0.7zM217.5 327.8h0.7v0.7h-0.7zM214.6 316.5h0.7v0.7h-0.7zM218.0 316.2h0.7v0.7h-0.7zM216.8 324.2h0.7v0.7h-0.7zM217.0 316.4h0.7v0.7h-0.7zM214.6 314.7h0.7v0.7h-0.7zM214.1 325.7h0.7v0.7h-0.7zM218.4 320.0h0.7v0.7h-0.7zM217.1 318.7h0.7v0.7h-0.7zM215.2 317.1h0.7v0.7h-0.7zM223.5 315.3h0.7v0.7h-0.7zM222.0 314.5h0.7v0.7h-0.7zM221.0 322.0h0.7v0.7h-0.7zM220.1 318.8h0.7v0.7h-0.7zM214.4 327.5h0.7v0.7h-0.7zM221.1 326.2h0.7v0.7h-0.7zM223.2 319.0h0.7v0.7h-0.7zM221.4 317.4h0.7v0.7h-0.7zM220.1 329.3h0.7v0.7h-0.7zM221.9 319.3h0.7v0.7h-0.7zM219.6 318.6h0.7v0.7h-0.7zM217.4 324.6h0.7v0.7h-0.7zM213.7 320.4h0.7v0.7h-0.7zM212.5 328.2h0.7v0.7h-0.7zM216.1 329.1h0.7v0.7h-0.7zM219.8 317.0h0.7v0.7h-0.7zM211.8 322.7h0.7v0.7h-0.7zM223.8 314.3h0.7v0.7h-0.7zM223.4 328.7h0.7v0.7h-0.7zM212.0 313.0h0.7v0.7h-0.7zM216.1 320.0h0.7v0.7h-0.7zM220.5 316.5h0.7v0.7h-0.7zM218.5 329.6h0.7v0.7h-0.7zM214.5 329.1h0.7v0.7h-0.7zM214.3 321.3h0.7v0.7h-0.7zM217.2 324.4h0.7v0.7h-0.7zM212.5 312.3h0.7v0.7h-0.7zM215.4 314.0h0.7v0.7h-0.7zM219.6 312.7h0.7v0.7h-0.7zM221.0 329.0h0.7v0.7h-0.7zM220.6 327.1h0.7v0.7h-0.7zM216.3 325.7h0.7v0.7h-0.7zM220.9 320.8h0.7v0.7h-0.7zM220.5 315.0h0.7v0.7h-0.7zM221.2 315.3h0.7v0.7h-0.7zM224.1 326.0h0.7v0.7h-0.7zM220.4 323.2h0.7v0.7h-0.7zM223.9 325.4h0.7v0.7h-0.7zM222.1 328.2h0.7v0.7h-0.7zM220.4 320.0h0.7v0.7h-0.7zM212.4 320.8h0.7v0.7h-0.7zM224.9 322.6h0.7v0.7h-0.7zM219.9 321.9h0.7v0.7h-0.7zM216.6 321.8h0.7v0.7h-0.7zM223.0 328.2h0.7v0.7h-0.7zM212.6 314.5h0.7v0.7h-0.7zM216.9 313.4h0.7v0.7h-0.7zM223.5 315.3h0.7v0.7h-0.7zM219.5 325.4h0.7v0.7h-0.7zM213.4 325.7h0.7v0.7h-0.7zM214.7 328.3h0.7v0.7h-0.7zM224.3 327.9h0.7v0.7h-0.7zM212.3 319.3h0.7v0.7h-0.7zM214.7 315.6h0.7v0.7h-0.7zM212.6 321.9h0.7v0.7h-0.7zM215.5 316.1h0.7v0.7h-0.7zM219.0 325.1h0.7v0.7h-0.7zM221.9 324.7h0.7v0.7h-0.7zM214.6 320.1h0.7v0.7h-0.7zM216.6 322.2h0.7v0.7h-0.7zM212.6 324.8h0.7v0.7h-0.7zM224.7 317.9h0.7v0.7h-0.7zM212.3 327.6h0.7v0.7h-0.7zM214.1 323.4h0.7v0.7h-0.7zM218.7 317.3h0.7v0.7h-0.7zM224.4 325.0h0.7v0.7h-0.7zM215.2 316.0h0.7v0.7h-0.7zM223.1 314.8h0.7v0.7h-0.7zM213.1 316.7h0.7v0.7h-0.7zM218.9 325.9h0.7v0.7h-0.7zM212.8 325.2h0.7v0.7h-0.7zM211.9 326.8h0.7v0.7h-0.7zM220.1 314.6h0.7v0.7h-0.7zM213.9 325.0h0.7v0.7h-0.7zM218.0 329.4h0.7v0.7h-0.7zM219.6 312.7h0.7v0.7h-0.7zM220.6 315.3h0.7v0.7h-0.7zM215.9 323.7h0.7v0.7h-0.7zM221.5 314.1h0.7v0.7h-0.7zM217.0 321.0h0.7v0.7h-0.7zM212.0 319.2h0.7v0.7h-0.7zM218.0 313.5h0.7v0.7h-0.7zM218.0 325.7h0.7v0.7h-0.7zM212.1 323.7h0.7v0.7h-0.7zM219.4 329.0h0.7v0.7h-0.7zM216.1 316.3h0.7v0.7h-0.7zM211.7 326.0h0.7v0.7h-0.7zM223.2 319.2h0.7v0.7h-0.7zM224.4 323.7h0.7v0.7h-0.7zM219.7 316.6h0.7v0.7h-0.7zM216.1 327.3h0.7v0.7h-0.7zM222.8 321.9h0.7v0.7h-0.7zM225.8 317.5h0.7v0.7h-0.7zM218.2 315.9h0.7v0.7h-0.7zM213.9 314.8h0.7v0.7h-0.7zM218.5 320.6h0.7v0.7h-0.7zM221.1 314.5h0.7v0.7h-0.7zM223.7 327.6h0.7v0.7h-0.7zM212.0 329.2h0.7v0.7h-0.7zM212.9 326.4h0.7v0.7h-0.7zM213.7 326.6h0.7v0.7h-0.7zM215.2 328.5h0.7v0.7h-0.7zM220.3 315.7h0.7v0.7h-0.7zM213.3 312.2h0.7v0.7h-0.7zM220.2 315.4h0.7v0.7h-0.7zM213.6 319.6h0.7v0.7h-0.7zM215.3 318.5h0.7v0.7h-0.7zM222.5 314.3h0.7v0.7h-0.7zM222.5 326.3h0.7v0.7h-0.7zM215.8 324.7h0.7v0.7h-0.7zM221.2 329.4h0.7v0.7h-0.7zM222.7 328.0h0.7v0.7h-0.7zM215.9 321.3h0.7v0.7h-0.7zM219.7 315.6h0.7v0.7h-0.7zM217.0 325.7h0.7v0.7h-0.7zM219.7 323.2h0.7v0.7h-0.7zM218.9 313.0h0.7v0.7h-0.7zM224.3 323.3h0.7v0.7h-0.7zM222.0 328.1h0.7v0.7h-0.7zM216.1 320.7h0.7v0.7h-0.7zM213.7 323.1h0.7v0.7h-0.7zM218.4 328.9h0.7v0.7h-0.7zM220.3 315.5h0.7v0.7h-0.7zM218.0 321.9h0.7v0.7h-0.7zM214.9 315.9h0.7v0.7h-0.7zM223.3 318.2h0.7v0.7h-0.7zM216.7 314.3h0.7v0.7h-0.7zM215.0 313.0h0.7v0.7h-0.7zM218.7 315.1h0.7v0.7h-0.7zM219.4 315.2h0.7v0.7h-0.7zM220.1 319.9h0.7v0.7h-0.7zM214.7 321.0h0.7v0.7h-0.7zM214.2 322.9h0.7v0.7h-0.7zM219.9 321.9h0.7v0.7h-0.7zM219.9 327.8h0.7v0.7h-0.7zM215.2 326.2h0.7v0.7h-0.7zM220.7 313.8h0.7v0.7h-0.7zM211.9 321.4h0.7v0.7h-0.7zM220.9 328.5h0.7v0.7h-0.7zM215.2 322.6h0.7v0.7h-0.7zM224.9 318.1h0.7v0.7h-0.7zM223.7 322.6h0.7v0.7h-0.7zM215.7 325.3h0.7v0.7h-0.7zM212.0 321.8h0.7v0.7h-0.7zM219.9 322.7h0.7v0.7h-0.7zM212.9 329.1h0.7v0.7h-0.7zM219.2 327.6h0.7v0.7h-0.7zM216.9 316.2h0.7v0.7h-0.7zM220.5 322.6h0.7v0.7h-0.7zM223.5 316.7h0.7v0.7h-0.7zM214.1 317.6h0.7v0.7h-0.7zM212.2 320.6h0.7v0.7h-0.7zM215.6 325.9h0.7v0.7h-0.7zM212.9 312.7h0.7v0.7h-0.7zM219.3 315.0h0.7v0.7h-0.7zM216.6 320.8h0.7v0.7h-0.7zM213.7 320.6h0.7v0.7h-0.7zM212.1 319.4h0.7v0.7h-0.7zM216.6 316.3h0.7v0.7h-0.7zM215.7 326.3h0.7v0.7h-0.7zM217.1 318.5h0.7v0.7h-0.7zM222.9 324.7h0.7v0.7h-0.7zM219.5 328.6h0.7v0.7h-0.7zM222.6 323.0h0.7v0.7h-0.7zM221.7 314.9h0.7v0.7h-0.7zM216.8 318.2h0.7v0.7h-0.7zM213.1 314.9h0.7v0.7h-0.7zM220.3 320.6h0.7v0.7h-0.7zM211.8 323.6h0.7v0.7h-0.7zM215.9 316.7h0.7v0.7h-0.7zM217.2 327.1h0.7v0.7h-0.7zM221.0 320.7h0.7v0.7h-0.7zM223.2 314.0h0.7v0.7h-0.7zM222.9 326.6h0.7v0.7h-0.7zM219.5 316.1h0.7v0.7h-0.7zM221.5 316.2h0.7v0.7h-0.7zM221.0 317.6h0.7v0.7h-0.7zM215.1 312.6h0.7v0.7h-0.7zM215.5 325.5h0.7v0.7h-0.7zM215.5 328.7h0.7v0.7h-0.7zM212.7 321.2h0.7v0.7h-0.7zM216.1 321.5h0.7v0.7h-0.7zM225.4 315.1h0.7v0.7h-0.7zM221.2 320.9h0.7v0.7h-0.7zM218.2 319.1h0.7v0.7h-0.7zM215.3 320.1h0.7v0.7h-0.7zM219.0 323.3h0.7v0.7h-0.7zM217.7 318.2h0.7v0.7h-0.7zM212.7 322.0h0.7v0.7h-0.7zM222.5 318.6h0.7v0.7h-0.7zM221.3 327.7h0.7v0.7h-0.7zM222.0 328.0h0.7v0.7h-0.7zM213.0 320.8h0.7v0.7h-0.7zM224.2 318.9h0.7v0.7h-0.7zM222.4 328.9h0.7v0.7h-0.7zM222.5 327.9h0.7v0.7h-0.7zM216.6 321.9h0.7v0.7h-0.7zM219.2 318.7h0.7v0.7h-0.7zM216.0 324.3h0.7v0.7h-0.7zM221.3 324.0h0.7v0.7h-0.7zM211.9 323.5h0.7v0.7h-0.7zM217.6 314.7h0.7v0.7h-0.7zM214.1 326.7h0.7v0.7h-0.7zM212.4 328.2h0.7v0.7h-0.7zM221.8 316.7h0.7v0.7h-0.7zM213.0 324.7h0.7v0.7h-0.7zM222.3 324.9h0.7v0.7h-0.7zM214.5 327.0h0.7v0.7h-0.7zM218.7 315.2h0.7v0.7h-0.7zM224.5 320.8h0.7v0.7h-0.7zM213.0 313.8h0.7v0.7h-0.7zM222.1 327.4h0.7v0.7h-0.7zM219.7 329.1h0.7v0.7h-0.7zM218.4 320.2h0.7v0.7h-0.7zM220.8 317.2h0.7v0.7h-0.7zM221.3 324.6h0.7v0.7h-0.7zM219.3 317.6h0.7v0.7h-0.7zM224.0 329.2h0.7v0.7h-0.7zM214.4 313.4h0.7v0.7h-0.7zM221.9 327.8h0.7v0.7h-0.7zM219.8 314.6h0.7v0.7h-0.7zM226.1 323.6h0.7v0.7h-0.7zM218.6 323.4h0.7v0.7h-0.7zM218.1 323.7h0.7v0.7h-0.7zM220.2 317.3h0.7v0.7h-0.7zM223.0 327.7h0.7v0.7h-0.7zM216.9 315.5h0.7v0.7h-0.7zM219.7 319.4h0.7v0.7h-0.7zM220.6 329.5h0.7v0.7h-0.7zM213.9 317.7h0.7v0.7h-0.7zM218.9 321.8h0.7v0.7h-0.7zM222.8 329.2h0.7v0.7h-0.7zM218.9 313.5h0.7v0.7h-0.7zM219.1 320.6h0.7v0.7h-0.7zM218.2 316.2h0.7v0.7h-0.7zM216.2 313.3h0.7v0.7h-0.7zM226.9 326.7h0.7v0.7h-0.7zM221.5 328.1h0.7v0.7h-0.7zM220.1 326.8h0.7v0.7h-0.7zM216.3 320.3h0.7v0.7h-0.7zM222.2 321.9h0.7v0.7h-0.7zM221.1 314.5h0.7v0.7h-0.7zM218.5 317.3h0.7v0.7h-0.7zM221.5 325.3h0.7v0.7h-0.7zM221.5 321.6h0.7v0.7h-0.7zM218.9 314.0h0.7v0.7h-0.7zM219.0 322.9h0.7v0.7h-0.7zM224.3 324.6h0.7v0.7h-0.7zM219.9 315.5h0.7v0.7h-0.7zM222.6 329.4h0.7v0.7h-0.7zM215.7 321.5h0.7v0.7h-0.7zM213.8 317.6h0.7v0.7h-0.7zM216.1 328.8h0.7v0.7h-0.7zM219.5 314.2h0.7v0.7h-0.7zM216.2 328.6h0.7v0.7h-0.7zM219.5 324.6h0.7v0.7h-0.7zM213.5 318.2h0.7v0.7h-0.7zM220.7 329.6h0.7v0.7h-0.7zM215.1 317.7h0.7v0.7h-0.7zM215.6 324.7h0.7v0.7h-0.7zM215.5 323.4h0.7v0.7h-0.7zM222.8 318.4h0.7v0.7h-0.7zM220.0 315.2h0.7v0.7h-0.7zM213.7 319.3h0.7v0.7h-0.7zM219.3 324.7h0.7v0.7h-0.7zM222.5 314.2h0.7v0.7h-0.7zM214.6 315.8h0.7v0.7h-0.7zM217.4 329.2h0.7v0.7h-0.7zM217.6 315.7h0.7v0.7h-0.7zM217.3 320.4h0.7v0.7h-0.7zM225.0 327.5h0.7v0.7h-0.7zM220.6 316.9h0.7v0.7h-0.7zM217.5 312.9h0.7v0.7h-0.7zM220.6 314.3h0.7v0.7h-0.7zM212.9 327.8h0.7v0.7h-0.7zM226.0 328.5h0.7v0.7h-0.7zM215.3 322.3h0.7v0.7h-0.7zM214.9 316.4h0.7v0.7h-0.7zM220.6 324.0h0.7v0.7h-0.7zM222.7 325.6h0.7v0.7h-0.7zM213.7 314.5h0.7v0.7h-0.7zM224.8 325.8h0.7v0.7h-0.7zM218.2 328.1h0.7v0.7h-0.7zM215.6 316.3h0.7v0.7h-0.7zM223.0 326.6h0.7v0.7h-0.7zM219.6 321.0h0.7v0.7h-0.7zM219.8 315.2h0.7v0.7h-0.7zM211.7 315.3h0.7v0.7h-0.7zM225.4 320.1h0.7v0.7h-0.7zM218.5 321.4h0.7v0.7h-0.7zM220.8 319.2h0.7v0.7h-0.7zM220.5 325.3h0.7v0.7h-0.7zM218.7 329.4h0.7v0.7h-0.7zM223.0 318.9h0.7v0.7h-0.7zM216.6 313.9h0.7v0.7h-0.7zM224.3 317.1h0.7v0.7h-0.7zM214.6 325.0h0.7v0.7h-0.7zM215.5 315.7h0.7v0.7h-0.7zM221.1 317.0h0.7v0.7h-0.7zM222.3 317.2h0.7v0.7h-0.7zM215.0 322.4h0.7v0.7h-0.7zM220.0 316.8h0.7v0.7h-0.7zM217.0 321.2h0.7v0.7h-0.7zM219.5 315.6h0.7v0.7h-0.7zM222.8 329.2h0.7v0.7h-0.7zM226.4 321.6h0.7v0.7h-0.7zM216.5 322.4h0.7v0.7h-0.7zM214.6 315.7h0.7v0.7h-0.7zM212.8 321.0h0.7v0.7h-0.7zM222.2 326.2h0.7v0.7h-0.7zM219.1 314.2h0.7v0.7h-0.7zM215.3 314.0h0.7v0.7h-0.7zM216.3 320.1h0.7v0.7h-0.7zM217.9 323.0h0.7v0.7h-0.7zM219.5 323.6h0.7v0.7h-0.7zM212.3 316.9h0.7v0.7h-0.7zM214.5 323.3h0.7v0.7h-0.7zM212.1 315.3h0.7v0.7h-0.7zM214.2 313.5h0.7v0.7h-0.7zM219.6 317.3h0.7v0.7h-0.7zM220.7 327.4h0.7v0.7h-0.7zM218.6 328.4h0.7v0.7h-0.7zM214.2 312.1h0.7v0.7h-0.7zM217.3 326.4h0.7v0.7h-0.7zM216.0 319.7h0.7v0.7h-0.7zM223.3 323.0h0.7v0.7h-0.7zM222.3 327.5h0.7v0.7h-0.7zM214.1 327.0h0.7v0.7h-0.7zM223.0 317.6h0.7v0.7h-0.7zM217.9 316.9h0.7v0.7h-0.7zM216.3 318.0h0.7v0.7h-0.7zM224.1 325.7h0.7v0.7h-0.7zM219.1 318.7h0.7v0.7h-0.7zM212.1 326.0h0.7v0.7h-0.7zM215.1 320.9h0.7v0.7h-0.7zM215.0 316.1h0.7v0.7h-0.7zM212.1 326.6h0.7v0.7h-0.7zM212.2 316.4h0.7v0.7h-0.7zM213.4 324.2h0.7v0.7h-0.7zM213.0 314.7h0.7v0.7h-0.7zM215.7 316.0h0.7v0.7h-0.7zM212.4 320.7h0.7v0.7h-0.7zM212.1 317.9h0.7v0.7h-0.7zM221.3 316.1h0.7v0.7h-0.7zM212.3 321.6h0.7v0.7h-0.7zM214.3 312.2h0.7v0.7h-0.7zM217.8 313.8h0.7v0.7h-0.7zM215.8 323.4h0.7v0.7h-0.7zM214.5 316.4h0.7v0.7h-0.7zM219.1 322.9h0.7v0.7h-0.7zM214.4 322.7h0.7v0.7h-0.7zM215.5 323.2h0.7v0.7h-0.7zM217.6 317.2h0.7v0.7h-0.7zM219.8 318.0h0.7v0.7h-0.7zM225.1 316.8h0.7v0.7h-0.7zM222.8 327.5h0.7v0.7h-0.7zM217.6 322.0h0.7v0.7h-0.7zM215.1 318.3h0.7v0.7h-0.7zM215.5 319.8h0.7v0.7h-0.7zM214.8 320.3h0.7v0.7h-0.7zM213.5 317.5h0.7v0.7h-0.7zM222.7 319.1h0.7v0.7h-0.7zM220.5 324.1h0.7v0.7h-0.7z" fill="#222" opacity="1.0"/>
</g></g>
<text x="381.40" y="10.50" font-size="13.7" font-weight="bold" text-anchor="start" fill="#111" stroke="#111" stroke-width="0.22">C</text>
<rect x="411.2" y="6.8" width="100.80000000000001" height="122.00000000000001" fill="none" stroke="#111" stroke-width="0.8"/>
<line x1="411.20" y1="6.40" x2="411.20" y2="129.30" stroke="#000" stroke-width="1.2"/>
<line x1="410.70" y1="128.80" x2="512.00" y2="128.80" stroke="#000" stroke-width="1.1"/>
<line x1="409.00" y1="6.80" x2="411.20" y2="6.80" stroke="#111" stroke-width="0.8"/>
<text x="406.60" y="9.40" font-size="6.2" font-weight="normal" text-anchor="end" fill="#111" letter-spacing="0.4" stroke="#111" stroke-width="0.1">1.0</text>
<line x1="409.00" y1="31.20" x2="411.20" y2="31.20" stroke="#111" stroke-width="0.8"/>
<text x="406.60" y="33.80" font-size="6.2" font-weight="normal" text-anchor="end" fill="#111" letter-spacing="0.4" stroke="#111" stroke-width="0.1">0.8</text>
<line x1="409.00" y1="55.60" x2="411.20" y2="55.60" stroke="#111" stroke-width="0.8"/>
<text x="406.60" y="58.20" font-size="6.2" font-weight="normal" text-anchor="end" fill="#111" letter-spacing="0.4" stroke="#111" stroke-width="0.1">0.6</text>
<line x1="409.00" y1="80.00" x2="411.20" y2="80.00" stroke="#111" stroke-width="0.8"/>
<text x="406.60" y="82.60" font-size="6.2" font-weight="normal" text-anchor="end" fill="#111" letter-spacing="0.4" stroke="#111" stroke-width="0.1">0.4</text>
<line x1="409.00" y1="104.40" x2="411.20" y2="104.40" stroke="#111" stroke-width="0.8"/>
<text x="406.60" y="107.00" font-size="6.2" font-weight="normal" text-anchor="end" fill="#111" letter-spacing="0.4" stroke="#111" stroke-width="0.1">0.2</text>
<line x1="409.00" y1="128.80" x2="411.20" y2="128.80" stroke="#111" stroke-width="0.8"/>
<text x="406.60" y="131.40" font-size="6.2" font-weight="normal" text-anchor="end" fill="#111" letter-spacing="0.4" stroke="#111" stroke-width="0.1">0.0</text>
<line x1="411.20" y1="128.80" x2="411.20" y2="130.80" stroke="#111" stroke-width="0.8"/>
<text x="410.60" y="136.00" font-size="6.2" font-weight="normal" text-anchor="middle" fill="#111" letter-spacing="0.4" stroke="#111" stroke-width="0.1">0</text>
<line x1="425.60" y1="128.80" x2="425.60" y2="130.80" stroke="#111" stroke-width="0.8"/>
<text x="425.00" y="142.10" font-size="6.2" font-weight="normal" text-anchor="middle" fill="#111" letter-spacing="0.4" stroke="#111" stroke-width="0.1">200</text>
<line x1="440.00" y1="128.80" x2="440.00" y2="130.80" stroke="#111" stroke-width="0.8"/>
<text x="439.40" y="136.00" font-size="6.2" font-weight="normal" text-anchor="middle" fill="#111" letter-spacing="0.4" stroke="#111" stroke-width="0.1">400</text>
<line x1="454.40" y1="128.80" x2="454.40" y2="130.80" stroke="#111" stroke-width="0.8"/>
<text x="453.80" y="142.10" font-size="6.2" font-weight="normal" text-anchor="middle" fill="#111" letter-spacing="0.4" stroke="#111" stroke-width="0.1">600</text>
<line x1="468.80" y1="128.80" x2="468.80" y2="130.80" stroke="#111" stroke-width="0.8"/>
<text x="468.20" y="136.00" font-size="6.2" font-weight="normal" text-anchor="middle" fill="#111" letter-spacing="0.4" stroke="#111" stroke-width="0.1">800</text>
<line x1="483.20" y1="128.80" x2="483.20" y2="130.80" stroke="#111" stroke-width="0.8"/>
<text x="482.60" y="142.10" font-size="6.2" font-weight="normal" text-anchor="middle" fill="#111" letter-spacing="0.4" stroke="#111" stroke-width="0.1">1000</text>
<line x1="497.60" y1="128.80" x2="497.60" y2="130.80" stroke="#111" stroke-width="0.8"/>
<text x="497.00" y="136.00" font-size="6.2" font-weight="normal" text-anchor="middle" fill="#111" letter-spacing="0.4" stroke="#111" stroke-width="0.1">1200</text>
<line x1="512.00" y1="128.80" x2="512.00" y2="130.80" stroke="#111" stroke-width="0.8"/>
<text x="511.40" y="142.10" font-size="6.2" font-weight="normal" text-anchor="middle" fill="#111" letter-spacing="0.4" stroke="#111" stroke-width="0.1">1400</text>
<text x="466.00" y="148.30" font-size="7.4" font-weight="bold" text-anchor="middle" fill="#111" stroke="#111" stroke-width="0.22">Days</text>
<text x="390.50" y="67.00" font-size="7.7" font-weight="bold" text-anchor="middle" fill="#111" transform="rotate(-90 390.50 67.00)" stroke="#111" stroke-width="0.22">Event free survival</text>
<text x="484.5" y="15.9" font-size="5.8" font-weight="bold" fill="#111" stroke="#111" stroke-width="0.2" word-spacing="1.3"><tspan font-style="italic">P</tspan> = .04</text>
<polyline points="411.2,6.8 414.0,8.5 416.0,10.5 418.0,12.2 428.7,12.2 428.7,16.3 432.7,16.3 432.7,22.0 439.3,22.0 439.3,28.5 443.0,28.5 443.0,33.8 445.0,33.8 445.0,39.0 450.6,39.0 450.6,44.9 459.8,44.9 459.8,51.7 496.3,51.7" fill="none" stroke="#a8a8a8" stroke-width="0.9"/>
<polyline points="411.2,6.8 412.3,9.0 414.0,11.0 415.6,13.0 418.0,18.0 420.0,24.5 421.3,30.2 422.1,35.0 424.6,37.8 427.8,40.0 434.4,42.0 437.6,43.2 440.0,44.4 443.0,47.3 446.6,51.4 448.5,54.5 449.5,58.0 450.0,61.2 451.0,65.3 455.0,67.7 457.0,71.8 459.0,73.4 465.8,73.4 465.8,79.1 472.8,79.1 472.8,82.0 478.3,82.0 478.3,87.3 480.0,87.3 480.0,92.2 507.7,92.2" fill="none" stroke="#111" stroke-width="1.0"/>
<path d="M432.4 22.0h3.6M434.2 20.2v3.6" stroke="#3a3a3a" stroke-width="0.8"/>
<path d="M450.2 44.9h3.6M452.0 43.1v3.6" stroke="#3a3a3a" stroke-width="0.8"/>
<path d="M454.5 44.9h3.6M456.3 43.1v3.6" stroke="#3a3a3a" stroke-width="0.8"/>
<path d="M457.2 44.9h3.6M459.0 43.1v3.6" stroke="#3a3a3a" stroke-width="0.8"/>
<path d="M459.5 51.7h3.6M461.3 49.9v3.6" stroke="#3a3a3a" stroke-width="0.8"/>
<path d="M461.8 51.7h3.6M463.6 49.9v3.6" stroke="#3a3a3a" stroke-width="0.8"/>
<path d="M467.5 51.7h3.6M469.3 49.9v3.6" stroke="#3a3a3a" stroke-width="0.8"/>
<path d="M471.6 51.7h3.6M473.4 49.9v3.6" stroke="#3a3a3a" stroke-width="0.8"/>
<path d="M474.2 51.7h3.6M476.0 49.9v3.6" stroke="#3a3a3a" stroke-width="0.8"/>
<path d="M476.4 51.7h3.6M478.2 49.9v3.6" stroke="#3a3a3a" stroke-width="0.8"/>
<path d="M478.5 51.7h3.6M480.3 49.9v3.6" stroke="#3a3a3a" stroke-width="0.8"/>
<path d="M487.2 51.7h3.6M489.0 49.9v3.6" stroke="#3a3a3a" stroke-width="0.8"/>
<path d="M489.5 51.7h3.6M491.3 49.9v3.6" stroke="#3a3a3a" stroke-width="0.8"/>
<path d="M491.8 51.7h3.6M493.6 49.9v3.6" stroke="#3a3a3a" stroke-width="0.8"/>
<path d="M494.2 51.7h3.6M496.0 49.9v3.6" stroke="#3a3a3a" stroke-width="0.8"/>
<path d="M410.8 9.0h3.4M412.5 7.3v3.4" stroke="#111" stroke-width="0.8"/>
<path d="M417.8 21.5h3.4M419.5 19.8v3.4" stroke="#111" stroke-width="0.8"/>
<path d="M419.3 28.0h3.4M421.0 26.3v3.4" stroke="#111" stroke-width="0.8"/>
<path d="M426.3 40.0h3.4M428.0 38.3v3.4" stroke="#111" stroke-width="0.8"/>
<path d="M434.3 42.5h3.4M436.0 40.8v3.4" stroke="#111" stroke-width="0.8"/>
<path d="M435.9 43.2h3.4M437.6 41.5v3.4" stroke="#111" stroke-width="0.8"/>
<path d="M437.1 43.5h3.4M438.8 41.8v3.4" stroke="#111" stroke-width="0.8"/>
<path d="M439.8 45.5h3.4M441.5 43.8v3.4" stroke="#111" stroke-width="0.8"/>
<path d="M442.8 48.0h3.4M444.5 46.3v3.4" stroke="#111" stroke-width="0.8"/>
<path d="M446.8 54.7h3.4M448.5 53.0v3.4" stroke="#111" stroke-width="0.8"/>
<path d="M453.8 68.6h3.4M455.5 66.9v3.4" stroke="#111" stroke-width="0.8"/>
<path d="M457.9 73.4h3.4M459.6 71.7v3.4" stroke="#111" stroke-width="0.8"/>
<path d="M463.3 73.4h3.4M465.0 71.7v3.4" stroke="#111" stroke-width="0.8"/>
<path d="M470.9 79.1h3.4M472.6 77.4v3.4" stroke="#111" stroke-width="0.8"/>
<path d="M472.3 82.0h3.4M474.0 80.3v3.4" stroke="#111" stroke-width="0.8"/>
<path d="M474.8 82.0h3.4M476.5 80.3v3.4" stroke="#111" stroke-width="0.8"/>
<path d="M476.8 82.0h3.4M478.5 80.3v3.4" stroke="#111" stroke-width="0.8"/>
<path d="M477.8 85.0h3.4M479.5 83.3v3.4" stroke="#111" stroke-width="0.8"/>
<path d="M479.8 92.2h3.4M481.5 90.5v3.4" stroke="#111" stroke-width="0.8"/>
<path d="M482.3 92.2h3.4M484.0 90.5v3.4" stroke="#111" stroke-width="0.8"/>
<path d="M492.8 92.2h3.4M494.5 90.5v3.4" stroke="#111" stroke-width="0.8"/>
<path d="M498.3 92.2h3.4M500.0 90.5v3.4" stroke="#111" stroke-width="0.8"/>
<path d="M500.8 92.2h3.4M502.5 90.5v3.4" stroke="#111" stroke-width="0.8"/>
<path d="M503.6 92.2h3.4M505.3 90.5v3.4" stroke="#111" stroke-width="0.8"/>
<path d="M505.8 92.2h3.4M507.5 90.5v3.4" stroke="#111" stroke-width="0.8"/>
<line x1="414.00" y1="98.80" x2="427.00" y2="98.80" stroke="#222" stroke-width="1.2"/>
<text x="430.3" y="100.3" font-size="8.2" font-weight="bold" fill="#111" stroke="#111" stroke-width="0.25">CD200<tspan font-size="5.3" dy="-3.3">present</tspan></text>
<rect x="418.40" y="101.90" width="2.30" height="2.30" fill="#7a7a7a"/>
<path d="M418.0 108.6h3.0M419.5 107.1v3.0" stroke="#111" stroke-width="0.8"/>
<line x1="414.00" y1="116.80" x2="427.00" y2="116.80" stroke="#c4c4c4" stroke-width="1.0"/>
<text x="430.3" y="118.7" font-size="8.2" font-weight="bold" fill="#111" stroke="#111" stroke-width="0.25">CD200<tspan font-size="5.3" dy="-3.3">absent</tspan></text>
<rect x="418.40" y="119.10" width="2.30" height="2.30" fill="#bdbdbd"/>
<path d="M418.0 124.6h3.0M419.5 123.1v3.0" stroke="#666" stroke-width="0.8"/>
</svg>
</body></html>
